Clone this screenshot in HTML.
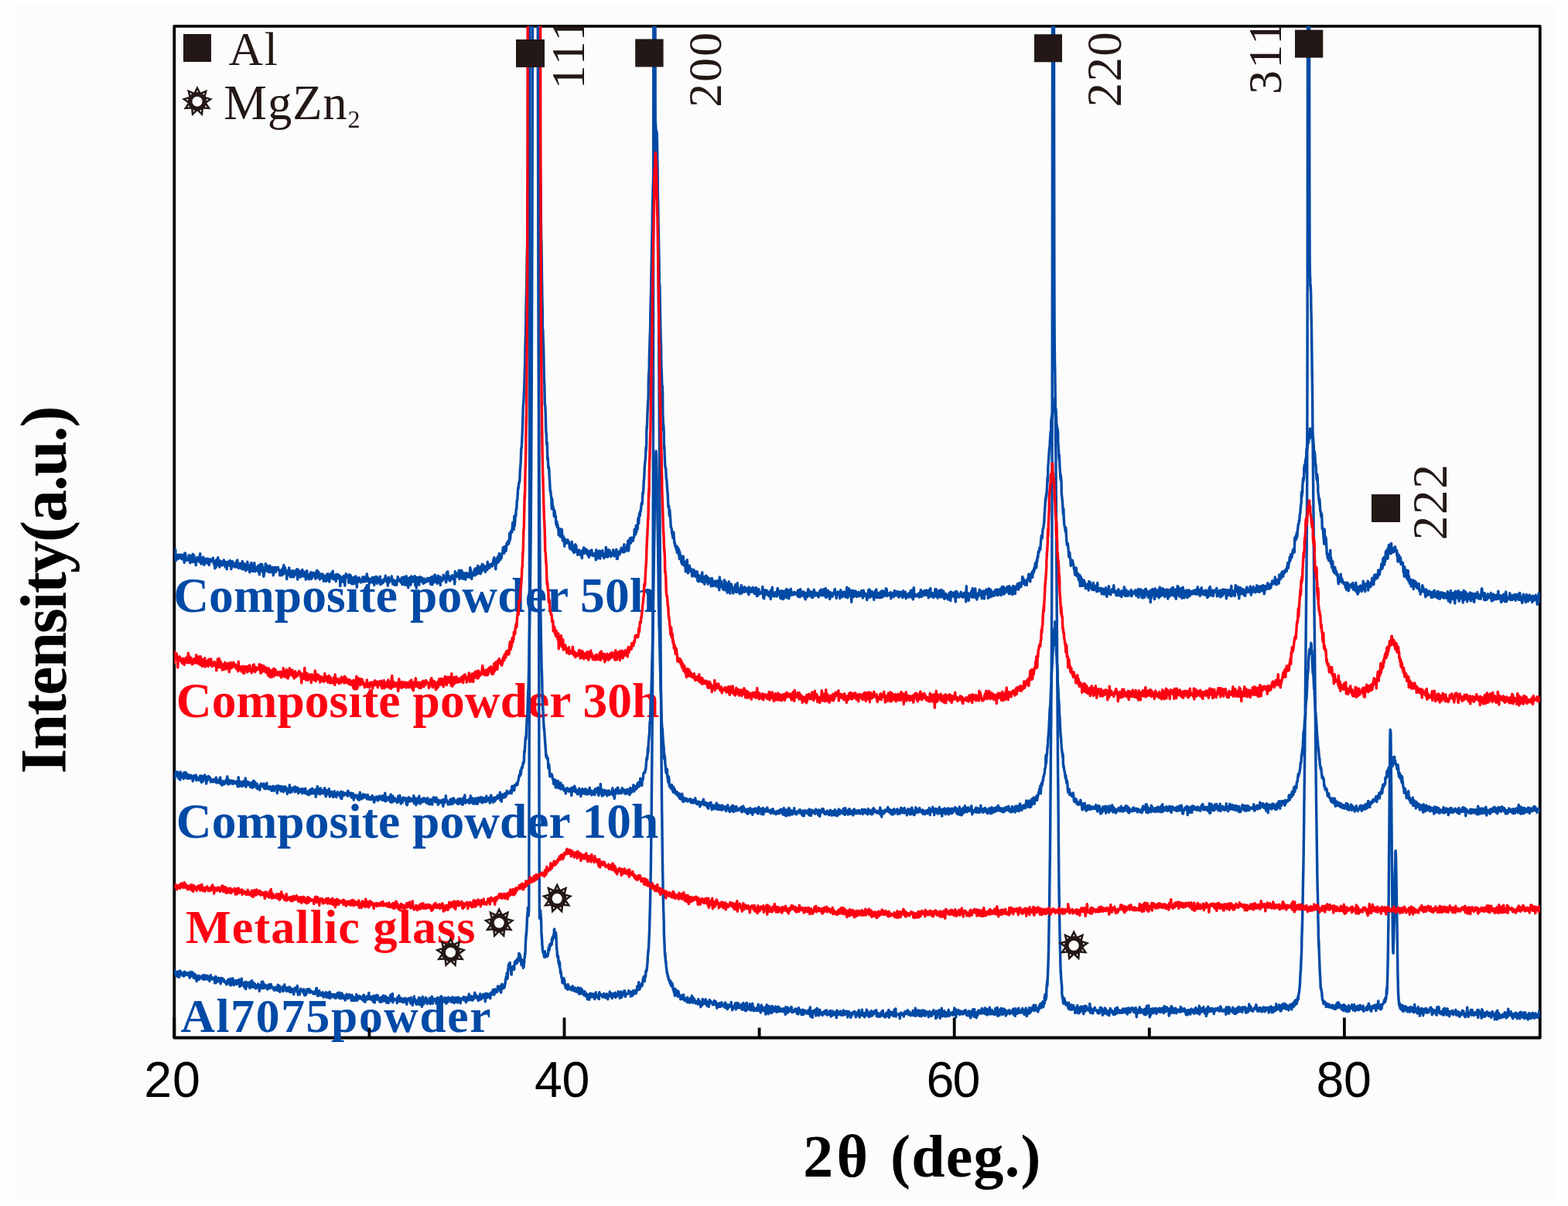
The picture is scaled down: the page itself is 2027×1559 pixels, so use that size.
<!DOCTYPE html>
<html><head><meta charset="utf-8"><title>XRD patterns</title>
<style>html,body{margin:0;padding:0;background:#fefefe;}svg{display:block;}</style>
</head><body>
<svg width="2027" height="1559" viewBox="0 0 2027 1559"><rect x="0" y="0" width="2027" height="1559" fill="#fefefe"/>
<rect x="21" y="6" width="1991" height="1545" fill="#fcfcfc"/>
<defs><clipPath id="pc"><rect x="225.3" y="33.8" width="1765.5" height="1307.7"/></clipPath></defs>
<rect x="225.3" y="33.8" width="1765.5" height="1307.7" fill="none" stroke="#000" stroke-width="3.8" stroke-linejoin="round"/>
<text transform="translate(224.13,790.77) scale(0.31716)" font-family="'Liberation Serif', serif" font-weight="bold" font-size="200" letter-spacing="0.39" fill="#004aa6">Composite powder 50h</text>
<text transform="translate(227.73,927.37) scale(0.31716)" font-family="'Liberation Serif', serif" font-weight="bold" font-size="200" letter-spacing="0.35" fill="#ff0012">Composite powder 30h</text>
<text transform="translate(227.83,1082.87) scale(0.31716)" font-family="'Liberation Serif', serif" font-weight="bold" font-size="200" letter-spacing="0.15" fill="#004aa6">Composite powder 10h</text>
<text transform="translate(240.07,1218.50) scale(0.31077)" font-family="'Liberation Serif', serif" font-weight="bold" font-size="200" letter-spacing="3.41" fill="#ff0012">Metallic glass</text>
<text transform="translate(233.48,1334.11) scale(0.30763)" font-family="'Liberation Serif', serif" font-weight="bold" font-size="200" letter-spacing="5.42" fill="#004aa6">Al7075powder</text>
<g clip-path="url(#pc)" fill="none" stroke-width="3.4" stroke-linejoin="round" stroke-linecap="butt"><path d="M225.3 1256.1l.5 -1.3 .5 2.8 .5 1.7 .5 1.9 .5 -2.5 .5 -1.6 .5 -.5 .5 3.9 .5 2.3 .5 -3.3 .5 -3.7 .5 .8 .5 6.4 .5 -3.4 .5 -4.7 .5 4.2 .5 -2.7 .5 1.4 .5 .5 .5 -.5 .5 3.2 .5 -1.4 .5 -1.3 .5 2.6 .5 1.1 .5 -6.1 .5 3.6 .5 -1.8 .5 2.1 .5 -2.7 .5 3.3 .5 0 .5 -.6 .5 -1.8 .5 1.7 .5 -1.7 .5 -.5 .5 4 .5 -3.3 .5 5.8 .5 -1.1 .5 -6.7 .5 5.8 .5 -3.4 .5 2.9 .5 .1 .5 -5 .5 4.5 .5 0 .5 3.1 .5 -5.3 .5 4.9 .5 -4.5 .5 2 .5 -1.2 .5 5.8 .5 -2.1 .5 4.7 .5 -4.4 .5 .6 .5 0 .5 -3.5 .5 1.4 .5 3.6 .5 -4.3 .5 1.6 .5 -.5 .5 1.7 .5 -2.4 .5 .6 .5 1.1 .5 -.3 .5 -2.3 .5 4.5 .5 -5.5 .5 .4 .5 -.2 .5 5.7 .5 -3.2 .5 -1.5 .5 -.3 .5 4 .5 -3.7 .5 -.4 .5 4.8 .5 -4.5 .5 2.3 .5 .8 .5 -1 .5 1.1 .5 3.5 .5 -4.5 .5 -1.8 .5 -1.4 .5 4.2 .5 -.3 .5 1.6 .5 -1.8 .5 .1 .5 -.6 .5 .6 .5 1.8 .5 -1.3 .5 1.3 .5 4.6 .5 -3.5 .5 -5.1 .5 8.4 .5 -3.4 .5 -3.2 .5 4.7 .5 -2.1 .5 -1.5 .5 0 .5 -.8 .5 2.6 .5 2.7 .5 -3.4 .5 1.9 .5 3.7 .5 -7.6 .5 3.7 .5 -1.3 .5 -1.8 .5 .1 .5 2.6 .5 1.2 .5 -2.3 .5 1.5 .5 1.8 .5 -1 .5 1.5 .5 -1 .5 .2 .5 3.4 .5 -2.9 .5 -1.2 .5 1.5 .5 -4 .5 1.5 .5 2.9 .5 -.3 .5 2.4 .5 -3.8 .5 -3.6 .5 8.6 .5 -2.1 .5 -5.3 .5 6.2 .5 -3.3 .5 -4.5 .5 3.5 .5 -.1 .5 5.3 .5 -5.9 .5 1.4 .5 0 .5 -.2 .5 -1.2 .5 2.9 .5 2.2 .5 -1.1 .5 -3.8 .5 -.4 .5 3.2 .5 -2 .5 .3 .5 -2.6 .5 9.2 .5 -2.5 .5 -4.7 .5 4.8 .5 1.1 .5 -9.2 .5 4.7 .5 .4 .5 2.7 .5 -1.9 .5 -.2 .5 .5 .5 4.9 .5 .8 .5 -6.6 .5 -.9 .5 9.1 .5 -9.1 .5 1.1 .5 1.5 .5 1.2 .5 1.5 .5 -1.6 .5 -3 .5 3.5 .5 -.6 .5 4.2 .5 -4.7 .5 -3.2 .5 .8 .5 6.3 .5 -4.9 .5 -3.9 .5 3.9 .5 1.5 .5 3.1 .5 -5.5 .5 4.3 .5 .4 .5 -3.7 .5 1.4 .5 4.9 .5 0 .5 -2.1 .5 -1.2 .5 2 .5 -3.1 .5 .2 .5 -1.8 .5 2.2 .5 -.2 .5 7.3 .5 -7.4 .5 3.7 .5 .2 .5 -3.7 .5 3.5 .5 -8.3 .5 5.7 .5 2 .5 -8 .5 3.1 .5 5.6 .5 -3.2 .5 -2 .5 1.9 .5 -.4 .5 3.2 .5 -.6 .5 -1.7 .5 -.9 .5 1.6 .5 3.5 .5 -2.4 .5 .8 .5 -1.9 .5 -2.8 .5 1.5 .5 3.5 .5 -1.3 .5 -2.4 .5 -1.7 .5 4.3 .5 -1 .5 0 .5 .2 .5 1.6 .5 0 .5 1.8 .5 0 .5 1.1 .5 -1.3 .5 -2.8 .5 .8 .5 1.4 .5 -1.9 .5 2.2 .5 1.6 .5 -4.8 .5 -2.4 .5 7.5 .5 -2.9 .5 1.8 .5 -5 .5 7.7 .5 -2.4 .5 -2.1 .5 -.5 .5 1.2 .5 -.6 .5 -.2 .5 -2.1 .5 6.1 .5 -3.2 .5 .3 .5 .1 .5 -6 .5 7.3 .5 -2.1 .5 .1 .5 1 .5 -2.5 .5 4.6 .5 -3.8 .5 -.5 .5 .2 .5 2.6 .5 1.6 .5 -3.3 .5 -2.2 .5 6.5 .5 -5.3 .5 5.7 .5 -3 .5 -1.6 .5 .2 .5 2.8 .5 1.2 .5 -2.7 .5 3 .5 2.9 .5 -5.7 .5 -2.3 .5 .3 .5 -.8 .5 2 .5 -.2 .5 -1.4 .5 4.7 .5 -7.8 .5 3.3 .5 8.4 .5 -2.4 .5 -1.2 .5 -.1 .5 3.4 .5 -3.1 .5 -1.1 .5 -3.2 .5 3 .5 -1.6 .5 .1 .5 .1 .5 1.7 .5 -.6 .5 3 .5 -5.4 .5 3 .5 5.1 .5 -4.5 .5 3 .5 -.1 .5 .5 .5 -1.4 .5 -5.2 .5 2.8 .5 -.2 .5 -2.9 .5 2.8 .5 -1.9 .5 -1 .5 4.8 .5 -.6 .5 -1.5 .5 -.6 .5 1.1 .5 .4 .5 0 .5 1 .5 -.9 .5 2.1 .5 .4 .5 -.4 .5 -2.5 .5 .2 .5 2.7 .5 -1.5 .5 .4 .5 -6 .5 -.5 .5 7.7 .5 0 .5 2.7 .5 -1.6 .5 -1.2 .5 -.4 .5 -3.6 .5 5.8 .5 -3.6 .5 2.8 .5 -.7 .5 .3 .5 1.6 .5 -3.4 .5 .3 .5 -1.1 .5 1.2 .5 5.2 .5 -5 .5 3.9 .5 -.8 .5 -.2 .5 .2 .5 -4.5 .5 3.6 .5 3.1 .5 -5.7 .5 1.7 .5 -1.6 .5 2.6 .5 -3.4 .5 6.7 .5 -4.9 .5 -2.8 .5 8.4 .5 -2 .5 -1.1 .5 .1 .5 -2.2 .5 .4 .5 2.4 .5 .6 .5 .1 .5 -1.8 .5 -1.6 .5 .7 .5 3.3 .5 .9 .5 -4.4 .5 -.3 .5 4.4 .5 -1.3 .5 0 .5 -5 .5 2.4 .5 -.3 .5 1.9 .5 -4.7 .5 7.5 .5 -2.4 .5 .4 .5 -4 .5 2.9 .5 3.5 .5 -7.2 .5 4.7 .5 1 .5 -3.4 .5 3.8 .5 -2.8 .5 4 .5 -1.7 .5 -.7 .5 4.5 .5 -2.9 .5 1.2 .5 -6.2 .5 1.4 .5 3.8 .5 .2 .5 -2.3 .5 2.1 .5 -4.6 .5 3.3 .5 -3.4 .5 3.8 .5 -2 .5 -.4 .5 1.8 .5 4.5 .5 -7.1 .5 1.1 .5 4.2 .5 -3.7 .5 5.6 .5 -3.8 .5 -.3 .5 .7 .5 3.5 .5 -2.7 .5 -.3 .5 -.6 .5 -4.5 .5 1.7 .5 6 .5 -1.6 .5 -.7 .5 .3 .5 -2.9 .5 2.3 .5 -3.1 .5 3.3 .5 -2.7 .5 1.3 .5 1.7 .5 -1.9 .5 2.4 .5 -.4 .5 -.2 .5 2.5 .5 -7 .5 -.3 .5 5.6 .5 .9 .5 2.7 .5 -3.1 .5 .2 .5 -4.2 .5 4.1 .5 -.2 .5 -4.3 .5 .5 .5 2 .5 1 .5 -8 .5 7.6 .5 .4 .5 -1 .5 1.2 .5 .5 .5 -3.7 .5 3.6 .5 -1.6 .5 -1.7 .5 2.9 .5 3.3 .5 -7.4 .5 -.4 .5 0 .5 9.1 .5 -5.5 .5 .5 .5 -1.8 .5 -.3 .5 -2.7 .5 5.5 .5 .3 .5 -5.6 .5 2.4 .5 .8 .5 1.8 .5 .7 .5 2.2 .5 .7 .5 -.8 .5 .8 .5 -6.3 .5 1.6 .5 4.3 .5 -2.2 .5 -.6 .5 -5 .5 .4 .5 6.5 .5 -1 .5 -1.5 .5 -.3 .5 -3.3 .5 5.3 .5 1.7 .5 1.5 .5 -3.9 .5 -.6 .5 -2.2 .5 5.8 .5 1.2 .5 -5.7 .5 2.2 .5 -.4 .5 -1.7 .5 -4.8 .5 5.4 .5 2.5 .5 -5.2 .5 1.6 .5 -6.1 .5 11.4 .5 -1.9 .5 -1.1 .5 -.8 .5 -.9 .5 1.4 .5 -.5 .5 .2 .5 .5 .5 0 .5 .5 .5 3.5 .5 -7.5 .5 4.4 .5 -2.2 .5 -1.3 .5 -3.1 .5 7.5 .5 -4 .5 .6 .5 3.1 .5 -3.9 .5 2.8 .5 -.2 .5 2.2 .5 .5 .5 -4.7 .5 4.5 .5 -2.5 .5 .5 .5 -.8 .5 2.5 .5 -5 .5 3.7 .5 2.3 .5 -3.6 .5 5.8 .5 -6.9 .5 2.4 .5 -1.8 .5 -.3 .5 -1.2 .5 1.4 .5 1.3 .5 -1.9 .5 4.2 .5 1.6 .5 -7.6 .5 5.9 .5 -1.6 .5 .2 .5 5.5 .5 -3.1 .5 -2.2 .5 -.4 .5 -5.8 .5 7.4 .5 -3.9 .5 2.4 .5 -.2 .5 2.1 .5 2.7 .5 -2.6 .5 .7 .5 -3.7 .5 1.7 .5 .8 .5 -5.6 .5 8.8 .5 -6.9 .5 -1.5 .5 7.4 .5 1.2 .5 -7.1 .5 .2 .5 9.4 .5 -7.6 .5 -5.2 .5 3.4 .5 6.6 .5 -3.4 .5 .2 .5 1.2 .5 -1.4 .5 -2.5 .5 -3.2 .5 5.1 .5 -3.9 .5 2.7 .5 4.5 .5 -3 .5 -1.3 .5 .1 .5 1.6 .5 .5 .5 -5.6 .5 3.7 .5 3.9 .5 -2.5 .5 -3.8 .5 .2 .5 -3.5 .5 3.2 .5 6 .5 -4.2 .5 -2 .5 .7 .5 1.2 .5 0 .5 -.7 .5 -1 .5 3.5 .5 2.3 .5 -5.3 .5 0 .5 4.3 .5 -6.6 .5 2.1 .5 .6 .5 1.3 .5 -1.1 .5 -1.6 .5 3 .5 -3.8 .5 -1.4 .5 -.7 .5 7 .5 -6.3 .5 5.5 .5 .5 .5 .3 .5 -2.5 .5 -.9 .5 1.6 .5 -1.8 .5 -1.7 .5 6.3 .5 -5.4 .5 6.8 .5 -3.3 .5 -2.5 .5 2.3 .5 1.9 .5 -6.5 .5 1.1 .5 -.4 .5 3.1 .5 .5 .5 -.9 .5 -2 .5 .5 .5 4.3 .5 -.2 .5 -2.5 .5 -3.7 .5 4.9 .5 -.9 .5 -.1 .5 3.7 .5 -2.3 .5 -4.6 .5 0 .5 5.9 .5 -3 .5 1.7 .5 -2.6 .5 -2.1 .5 3.1 .5 3.3 .5 -3.1 .5 -3.8 .5 2.1 .5 -.5 .5 1.6 .5 2.1 .5 2.4 .5 -4.4 .5 -1.7 .5 1.3 .5 -.2 .5 -1.2 .5 1.1 .5 -.1 .5 -3 .5 4.3 .5 -2.3 .5 -1.6 .5 3.6 .5 -2.5 .5 5.6 .5 -3.2 .5 -1.1 .5 -2.2 .5 .9 .5 3.1 .5 -4.7 .5 3.6 .5 -7.1 .5 5.7 .5 1.5 .5 -1.2 .5 -.8 .5 2.5 .5 -4.6 .5 -.4 .5 2.8 .5 2.7 .5 -1.9 .5 -1.6 .5 1.2 .5 .4 .5 -4.2 .5 -3.9 .5 4.4 .5 -1.2 .5 2.2 .5 -1.7 .5 .8 .5 3.1 .5 -.9 .5 -.4 .5 4.1 .5 -5.4 .5 .1 .5 4 .5 -6.1 .5 -1.4 .5 7.3 .5 -2.6 .5 .6 .5 -.1 .5 .6 .5 -3.6 .5 .9 .5 -2.8 .5 3.1 .5 .1 .5 -1.9 .5 2.7 .5 5.6 .5 -10.5 .5 4.9 .5 .1 .5 .2 .5 -4.9 .5 5 .5 -1.6 .5 -2.2 .5 -.7 .5 1.2 .5 1.5 .5 -.4 .5 3.4 .5 -7 .5 2.2 .5 -3 .5 2.8 .5 -1.9 .5 -2.2 .5 -2.1 .5 1.2 .5 2.3 .5 3 .5 -2 .5 -5.3 .5 1.6 .5 1.1 .5 -.7 .5 .3 .5 1.6 .5 -1.7 .2 -2.4 .1 -.1 .1 0 .1 -.1 0 -3.2 .1 0 .1 -.1 .1 0 .1 -.1 .1 0 0 4.1 .1 -.1 .1 0 .1 0 .1 -.1 .1 0 0 -3.5 .1 -.1 .1 0 .1 0 .1 -.1 .1 0 0 3.9 .1 -.1 .1 0 .1 -.1 .1 0 .1 -.1 0 1.3 .1 -.1 .1 0 .1 -.1 .1 0 .1 -.1 0 -4.3 .1 0 .1 -.1 .1 0 .1 -.1 .1 0 0 3 .1 0 .1 0 .1 -.1 .1 0 .1 -.1 0 -.5 .1 -.1 .1 0 .1 -.1 .1 0 .1 -.1 0 5.8 .1 0 .1 -.1 .1 0 .1 -.1 .1 -.1 0 -3.7 .1 -.1 .1 0 .1 -.1 .1 -.1 .1 0 0 -6.1 .1 -.1 .1 0 .1 -.1 .1 -.1 .1 0 0 6 .1 0 .1 -.1 .1 0 .1 -.1 .1 -.1 0 -.1 .1 0 .1 -.1 .1 0 .1 -.1 .1 0 0 -1.7 .1 0 .1 -.1 .1 0 .1 -.1 .1 0 0 -.5 .1 0 .1 -.1 .1 -.1 .1 0 .1 -.1 0 2.5 .1 0 .1 -.1 .1 -.1 .1 0 .1 -.1 0 .2 .1 -.1 .1 -.1 .1 -.1 .1 -.1 .1 -.1 0 -.6 .1 -.1 .1 -.1 .1 -.1 .1 -.1 .1 -.1 0 -3.8 .1 -.1 .1 -.2 .1 -.1 .1 -.2 .1 -.3 0 1.9 .1 -.3 .1 -.3 .1 -.4 .1 -.4 .1 -.4 0 -3.5 .1 -.4 .1 -.5 .1 -.5 .1 -.5 .1 -.5 0 .1 .1 -.5 .1 -.6 .1 -.5 .1 -.5 .1 -.5 0 2.5 .1 -.5 .1 -.5 .1 -.5 .1 -.5 .1 -.6 0 -1.4 .1 -.5 .1 -.6 .1 -.7 .1 -.6 .1 -.6 0 1.8 .1 -.6 .1 -.6 .1 -.5 .1 -.5 .1 -.5 0 7.9 .1 -.4 .1 -.3 .1 -.3 .1 -.4 .1 -.3 0 -5.5 .1 -.3 .1 -.3 .1 -.3 .1 -.3 .1 -.3 0 -3.9 .1 -.3 .1 -.3 .1 -.3 .1 -.3 .1 -.3 0 -3.5 .1 -.3 .1 -.3 .1 -.2 .1 -.3 .1 -.2 0 3.7 .1 -.2 .1 -.2 .1 -.2 .1 -.2 .1 -.2 0 -1.7 .1 -.1 .1 -.2 .1 -.1 .1 -.1 .1 -.1 0 -2.1 .1 -.1 .1 0 .1 -.1 .1 0 .1 0 0 8.2 .1 0 .1 0 .1 0 .1 0 .1 .1 0 -3.4 .1 0 .1 0 .1 .1 .1 0 .1 0 0 2.6 .1 0 .1 .1 .1 0 .1 0 .1 .1 0 7.4 .1 0 .1 .1 .1 0 .1 .1 .1 0 0 -7.9 .1 0 .1 .1 .1 0 .1 0 .1 .1 0 -.5 .1 .1 .1 0 .1 0 .1 .1 .1 0 0 .6 .1 .1 .1 0 .1 0 .1 0 .1 0 0 -1.7 .1 0 .1 0 .1 0 .1 0 .1 -.1 0 -1.5 .1 -.1 .1 -.1 .1 -.1 .1 -.1 .1 -.1 0 1.8 .1 -.2 .1 -.1 .1 -.2 .1 -.1 .1 -.2 0 3.8 .1 -.1 .1 -.2 .1 -.2 .1 -.2 .1 -.2 0 -4 .1 -.2 .1 -.2 .1 -.2 .1 -.3 .1 -.2 0 -3.1 .1 -.2 .1 -.3 .1 -.2 .1 -.2 .1 -.3 0 .4 .1 -.2 .1 -.3 .1 -.2 .1 -.2 .1 -.3 0 .7 .1 -.3 .1 -.2 .1 -.2 .1 -.2 .1 -.2 0 3 .1 -.2 .1 -.2 .1 -.2 .1 -.2 .1 -.2 0 1.4 .1 -.2 .1 -.3 .1 -.2 .1 -.2 .1 -.2 .1 -.3 .1 -.2 .1 -.3 .1 -.2 .1 -.2 0 2 .1 -.2 .1 -.3 .1 -.2 .1 -.3 .1 -.2 0 -4 .1 -.2 .1 -.3 .1 -.2 .1 -.2 .1 -.2 0 3 .1 -.2 .1 -.2 .1 -.2 .1 -.1 .1 -.2 0 -1.5 .1 -.1 .1 -.2 .1 -.1 .1 -.1 .1 -.1 0 1.1 .1 0 .1 -.1 .1 -.1 .1 0 .1 0 0 -7.4 .1 0 .1 .1 .1 0 .1 0 .1 .1 0 9 .1 0 .1 .1 .1 .1 .1 .1 .1 .1 0 -8.1 .1 .1 .1 .2 .1 .1 .1 .1 .1 .2 0 1.2 .1 .1 .1 .2 .1 .1 .1 .2 .1 .2 0 5.5 .1 .1 .1 .2 .1 .2 .1 .1 .1 .2 0 -3.3 .1 .1 .1 .2 .1 .2 .1 .2 .1 .1 0 6.2 .1 .2 .1 .2 .1 .1 .1 .2 .1 .3 0 -4.6 .1 .2 .1 .3 .1 .3 .1 .3 .1 .3 0 -3.4 .1 .3 .1 .3 .1 .3 .1 .3 .1 .3 0 3.4 .1 .3 .1 .2 .1 .2 .1 .3 .1 .1 0 -1.5 .1 .1 .1 .1 .1 .1 .1 0 .1 0 0 5.5 .1 -.1 .1 -.1 .1 -.2 .1 -.3 .1 -.3 0 .3 .1 -.4 .1 -.3 .1 -.5 .1 -.4 .1 -.5 0 -2.5 .1 -.5 .1 -.5 .1 -.6 .1 -.6 .1 -.5 0 -3.3 .1 -.6 .1 -.6 .1 -.7 .1 -.8 .1 -1 0 1.5 .1 -1.1 .1 -1.1 .1 -1.3 .1 -1.3 0 -.4 .1 -.9 0 2.8 0 -.4 .1 -.9 0 -.5 .1 -.9 0 -.4 .1 -1 0 -.4 .1 -.9 0 -.5 .1 -.9 0 -5.5 0 -.5 .1 -1 0 -.6 .1 -1 0 -.5 .1 -1.1 0 -.6 .1 -1.1 0 -.6 .1 -1.1 0 -.6 .1 -1.1 0 -.6 .1 -1.7 .1 -1.7 .1 -1.7 .1 -1.1 0 4.6 .1 -1.6 .1 -1.5 .1 -1.6 .1 -1.7 .1 -1.1 0 -1 .1 -1.8 .1 -1.8 .1 -1.9 .1 -1.8 .1 -1.2 0 -3.7 .1 -1.7 .1 -1.7 .1 -1.5 .1 -1.4 .1 -.8 0 -.5 .1 -1 .1 -.8 .1 -.6 .1 -.4 .1 0 0 -5.6 .1 0 .1 0 .1 0 .1 0 .1 0 0 10.4 .1 0 .1 0 .1 0 .1 0 .1 0 0 -4.3 .1 0 .1 0 .1 0 .1 -3.7 .1 -17.4 0 -14.5 .1 -33.7 .1 -40.8 .1 -49.2 .1 -59.1 .1 -45.4 0 -24.4 .1 -84.9 .1 -101.3 .1 -120.4 .1 -142.4 .1 -107.7 0 -59.3 .1 -197.2 .1 -128.2 .1 0 .1 0 .1 0 .1 0 .1 0 .1 0 .1 0 .1 0 .1 0 .1 0 .1 0 .1 0 .1 0 .1 0 .1 0 .1 0 .1 0 .1 0 .1 0 .1 0 .1 0 .1 0 .1 0 .1 0 .1 0 .1 0 .1 0 .1 0 .1 0 .1 0 .1 0 .1 0 .1 0 .1 0 .1 0 .1 0 .1 0 .1 0 .1 0 .1 0 .1 0 .1 0 .1 0 .1 0 .1 0 .1 0 .1 0 .1 0 .1 0 .1 0 .1 0 .1 0 .1 0 .1 0 .1 0 .1 0 .1 0 .1 0 .1 0 .1 0 .1 0 .1 0 .1 0 .1 0 .1 0 .1 0 .1 0 .1 0 .1 0 .1 0 .1 0 .1 0 .1 0 .1 0 .1 0 .1 0 .1 0 .1 0 .1 0 .1 0 .1 0 .1 0 .1 0 .1 0 .1 0 .1 0 .1 0 .1 0 .1 0 .1 0 .1 0 .1 0 .1 0 .1 0 .1 0 .1 0 .1 0 .1 0 .1 0 .1 0 .1 0 .1 0 .1 0 .1 0 .1 0 .1 0 .1 0 .1 0 .1 0 .1 0 .1 0 .1 185 .1 122.8 0 61.8 .1 155.5 .1 133 .1 113.2 .1 96.1 .1 55.1 0 26.8 .1 68.4 .1 57.5 .1 48 .1 39.8 .1 22.6 0 14.6 .1 27.2 .1 9.9 .1 0 .1 0 .1 0 0 -8.4 .1 0 .1 0 .1 0 .1 0 .1 0 0 -1.9 .1 0 .1 0 .1 0 .1 0 .1 0 0 3.5 .1 .4 .1 1 .1 1.3 .1 1.7 .1 1.3 0 -1.9 .1 2.2 .1 2.5 .1 2.5 .1 2.6 .1 1.8 0 5.7 .1 2.5 .1 2.5 .1 2.2 .1 2.1 .1 1.5 0 -4.3 .1 2.4 .1 2.5 .1 2.1 .1 1.7 .1 .8 0 3.2 .1 .8 .1 .8 .1 .8 .1 .7 .1 .5 0 2.6 .1 .6 .1 .6 .1 .6 .1 .5 .1 .3 0 .4 .1 .4 .1 .5 .1 .4 .1 .3 .1 .3 0 -2.3 .1 .3 .1 .4 .1 .3 .2 .5 .5 5 .5 1.1 .5 -7.5 .5 7.1 .5 .2 .2 -1.2 .1 .1 .1 0 .1 0 0 -1 .1 0 .1 0 .1 -.1 .1 -.1 .1 -.2 0 2 .1 -.1 .1 -.2 .1 -.2 .1 -.3 .1 -.2 0 1 .1 -.3 .1 -.3 .1 -.2 .1 -.3 .1 -.4 0 -.3 .1 -.3 .1 -.3 .1 -.4 .1 -.3 .1 -.3 0 3.2 .1 -.3 .1 -.4 .1 -.3 .1 -.3 .1 -.3 0 -1.1 .1 -.3 .1 -.3 .1 -.2 .1 -.3 .1 -.3 0 -4.7 .1 -.3 .1 -.3 .1 -.3 .1 -.3 .1 -.3 0 -.5 .1 -.4 .1 -.3 .1 -.3 .1 -.3 .1 -.4 0 4.8 .1 -.3 .1 -.3 .1 -.4 .1 -.3 .1 -.3 0 -4.7 .1 -.3 .1 -.3 .1 -.3 .1 -.4 .1 -.3 0 2.6 .1 -.3 .1 -.3 .1 -.3 .1 -.3 .1 -.3 0 .9 .1 -.3 .1 -.3 .1 -.3 .1 -.2 .1 -.3 0 1.7 .1 -.3 .1 -.3 .1 -.3 .1 -.2 .1 -.3 0 -1.6 .1 -.2 .1 -.3 .1 -.3 .1 -.2 .1 -.3 0 2.8 .1 -.2 .1 -.3 .1 -.2 .1 -.3 .1 -.3 0 -5.8 .1 -.2 .1 -.3 .1 -.2 .1 -.3 .1 -.2 0 3.5 .1 -.3 .1 -.2 .1 -.2 .1 -.3 .1 -.2 0 -4 .1 -.3 .1 -.2 .1 -.2 .1 -.2 .1 -.1 0 2.6 .1 -.2 .1 -.2 .1 -.2 .1 -.1 .1 -.2 0 -.2 .1 -.2 .1 -.2 .1 -.2 .1 -.1 .1 -.2 0 -3.3 .1 -.2 .1 -.1 .1 -.2 .1 -.2 .1 -.2 0 -5.2 .1 -.1 .1 -.2 .1 -.2 .1 -.1 .1 -.2 0 11.1 .1 -.2 .1 -.1 .1 -.2 .1 -.1 .1 -.1 0 -1.8 .1 -.2 .1 -.1 .1 -.1 .1 0 .1 -.1 0 -.7 .1 -.1 .1 0 .1 -.1 .1 0 .1 0 0 -2.6 .1 -.1 .1 .2 .1 .5 .1 .8 .1 1.1 0 1.1 .1 1.3 .1 1.5 .1 1.5 .1 1.7 .1 1.7 0 2.4 .1 1.8 .1 1.7 .1 1.6 .1 1.6 .1 1.4 0 -1.3 .1 1.2 .1 1 .1 .8 .1 .9 .1 .8 0 3.3 .1 .8 .1 .8 .1 .7 .1 .7 .1 .7 0 -3 .1 .7 .1 .6 .1 .7 .1 .6 .1 .6 0 -2.7 .1 .6 .1 .6 .1 .6 .1 .6 .1 .6 0 4.1 .1 .5 .1 .6 .1 .5 .1 .6 .1 .5 0 -3.6 .1 .6 .1 .5 .1 .5 .1 .6 .1 .5 0 2.4 .1 .5 .1 .6 .1 .5 .1 .5 .1 .6 0 -5.8 .1 .6 .1 .6 .1 .5 .1 .6 .1 .6 0 4.1 .1 .6 .1 .5 .1 .6 .1 .6 .1 .6 0 2.5 .1 .6 .1 .5 .1 .6 .1 .5 .1 .5 0 -3.3 .1 .5 .1 .5 .1 .5 .1 .5 .1 .5 0 1.7 .1 .4 .1 .4 .1 .5 .1 .3 .1 .4 0 1.7 .1 .3 .1 .3 .1 .3 .1 .3 .1 .3 0 -1.4 .1 .3 .1 .3 .1 .3 .1 .3 .1 .3 0 4.7 .1 .3 .1 .2 .1 .3 .1 .3 .1 .3 0 -5.5 .1 .3 .1 .2 .1 .3 .1 .3 .1 .3 0 .2 .1 .2 .1 .3 .1 .2 .1 .3 .1 .2 0 .1 .1 .2 .1 .3 .1 .2 .1 .2 .1 .3 0 -4.9 .1 .3 .1 .2 .1 .2 .1 .2 .1 .2 0 1.2 .1 .2 .4 .7 .5 6.3 .5 -1.6 .5 5 .5 -3.5 .5 .1 .5 3.3 .5 -1.7 .5 3.6 .5 -6.8 .5 4.1 .5 .8 .5 -.2 .5 1.6 .5 -.2 .5 -2.4 .5 2.6 .5 -2.3 .5 2.5 .5 1.2 .5 -2.8 .5 -2.7 .5 1.9 .5 3 .5 -2.4 .5 3.9 .5 -2.7 .5 .5 .5 -1.7 .5 1.7 .5 3.3 .5 -3.4 .5 .3 .5 -.9 .5 4.3 .5 -5.7 .5 2.5 .5 4.3 .5 1.6 .5 -4 .5 3.3 .5 -7.3 .5 7.3 .5 -.9 .5 -3.6 .5 -1.2 .5 3.6 .5 2.2 .5 .5 .5 -.4 .5 1.9 .5 0 .5 -5.1 .5 2.7 .5 -.2 .5 4 .5 -3.7 .5 3.9 .5 -2.2 .5 5.8 .5 -6 .5 .3 .5 -.2 .5 .8 .5 5.8 .5 -7.3 .5 -.8 .5 1.8 .5 2.3 .5 -4.2 .5 4.6 .5 0 .5 -2.2 .5 -.2 .5 -1.3 .5 1.4 .5 -1.3 .5 5.2 .5 1.1 .5 -4.8 .5 .6 .5 -4.6 .5 3.5 .5 2.2 .5 -.2 .5 -.3 .5 1.8 .5 -1.9 .5 -1.2 .5 5 .5 -8.9 .5 2 .5 1 .5 0 .5 -.1 .5 1.3 .5 -1.2 .5 1.6 .5 1.6 .5 -1.5 .5 .3 .5 -2.8 .5 -.5 .5 2.1 .5 3 .5 -1.5 .5 1.8 .5 -.3 .5 .2 .5 -4.9 .5 5.1 .5 -1.3 .5 3.3 .5 -3.9 .5 -.7 .5 -1.2 .5 .6 .5 -4.7 .5 3.5 .5 .4 .5 2.5 .5 -4.2 .5 2 .5 4.3 .5 -6 .5 3.5 .5 -3.5 .5 1.1 .5 1.4 .5 1.1 .5 -3.5 .5 -1.4 .5 6.4 .5 -3.3 .5 1.5 .5 .3 .5 -.4 .5 -2.6 .5 .3 .5 -3.6 .5 4.3 .5 -1.7 .5 1.1 .5 4.8 .5 -3 .5 -1.7 .5 -3.6 .5 5.3 .5 1.9 .5 -5.9 .5 3.1 .5 -2.5 .5 .9 .5 -.6 .5 -3.2 .5 2.7 .5 -2.8 .5 7.5 .5 -1 .5 -2.6 .5 .5 .5 -.6 .5 .2 .5 -.1 .5 -1.2 .5 .1 .5 -3.1 .5 .8 .5 .8 .5 2 .5 -1.6 .5 5.5 .5 -5.4 .5 -.6 .5 1.8 .5 1.4 .5 1.8 .5 -2.4 .5 -4.2 .5 .9 .5 2.8 .5 -2.3 .5 1.1 .5 -2.5 .5 4 .5 -.7 .5 -1.2 .5 -2.8 .5 -4.9 .5 .2 .5 3.9 .5 .3 .5 -9.6 .5 5.7 .5 3.6 .5 -1.1 .5 -4.4 .5 2.3 .5 -2.3 .5 -1.5 .5 2.6 .5 -.8 .5 -5.4 .5 -2.1 .5 -2.2 .5 -1.5 .5 5.9 .5 0 .5 -6 .1 -.4 .1 -.3 .1 -.4 .1 -.4 .1 1.9 .1 -.3 .1 -.4 .1 -.4 .1 -.4 .1 -5.2 .1 -.4 .1 -.4 .1 -.5 .1 -.4 .1 1.2 .1 -.5 .1 -.5 .1 -.6 .1 -.5 .1 2.2 .1 -.6 .1 -.6 .1 -.6 .1 -.6 .1 -2.3 .1 -.7 .1 -.7 .1 -.7 .1 -.7 .1 -1.8 .1 -.8 .1 -.9 .1 -.8 .1 -.9 .1 -5.6 .1 -1 .1 -1.1 .1 -1.1 .1 -1.1 .1 -.6 .1 -1.3 .1 -1.3 .1 -1.4 .1 -1.5 .1 1.5 .1 -1.6 .1 -1.7 .1 -1.7 .1 -1.9 .1 -2.3 .1 -2.1 .1 -2.1 .1 -2.3 .1 -2.4 .1 -1 .1 -2.6 .1 -2.8 .1 -2.9 .1 -3 .1 -5 .1 -3.4 .1 -3.5 .1 -3.7 .1 -4 .1 -2.7 .1 -4.3 .1 -4.5 .1 -4.7 .1 -4.9 .1 -4.2 .1 -5.4 .1 -5.6 .1 -5.9 .1 -6.2 .1 -4.8 .1 -6.7 .1 -7 .1 -7.2 .1 -7.6 .1 -9.5 .1 -8.2 .1 -8.6 .1 -8.8 .1 -9.2 .1 -11.9 .1 -9.8 .1 -10.2 .1 -10.5 .1 -10.9 .1 -10.2 .1 -11.6 .1 -11.9 .1 -12.3 .1 -12.8 .1 -8.5 .1 -13.7 .1 -14.5 .1 -15.3 .1 -16.8 .1 -23.1 .1 -21.9 .1 -26.4 .1 -32.9 .1 -42 .1 -57.4 .1 -70.8 .1 -91.3 .1 -116 .1 -144.3 .1 -174.9 .1 -120.7 .1 0 .1 0 .1 0 .1 0 .1 0 .1 0 .1 0 .1 0 .1 0 .1 0 .1 0 .1 0 .1 0 .1 0 .1 0 .1 0 .1 0 .1 0 .1 0 .1 0 .1 37.3 .1 85.3 .1 61.4 .1 48.2 .1 26.1 .1 14.5 .1 6.3 .1 .7 .1 -9.5 .1 -4.9 .1 -5.9 .1 -6.3 .1 -6.1 .1 -5.3 .1 -5.1 .1 -4.4 .1 -3.7 .1 -2.9 .1 -3.3 .1 -1.3 .1 -.4 .1 .5 .1 1.2 .1 6.4 .1 2.9 .1 3.7 .1 4.6 .1 5.3 .1 8.2 .1 6.9 .1 7.7 .1 8.3 .1 9.2 .1 5.6 .1 10.4 .1 11.2 .1 11.7 .1 12.3 .1 11.1 .1 13.4 .1 13.9 .1 14.4 .1 14.9 .1 11.2 .1 15.6 .1 16 .1 16.3 .1 16.6 .1 23.5 .1 17 .1 17.3 .1 17.4 .1 17.6 .1 15.7 .1 17.7 .1 17.8 .1 17.7 .1 17.8 .1 18.2 .1 17.7 .1 17.5 .1 17.5 .1 17.3 .1 15.4 .1 17 .1 16.7 .1 16.6 .1 16.3 .1 15.1 .1 15.8 .1 15.5 .1 15.2 .1 15 .1 16.3 .1 14.4 .1 13.9 .1 13.7 .1 13.3 .1 16.4 .1 12.6 .1 12.3 .1 12 .1 11.6 .1 13.2 .1 10.9 .1 10.5 .1 10.2 .1 9.9 .1 5.7 .1 9.2 .1 8.9 .1 8.5 .1 8.2 .1 9.2 .1 7.6 .1 7.2 .1 7 .1 6.8 .1 4.6 .1 6.1 .1 6 .1 5.6 .1 5.4 .1 5.5 .1 4.9 .1 4.7 .1 4.5 .1 4.3 .1 .2 .1 3.9 .1 3.8 .1 3.5 .1 3.4 .1 10.3 .1 3 .1 2.9 .1 2.8 .1 2.6 .1 1.6 .1 2.4 .1 2.3 .1 2.1 .1 2.1 .1 4.4 .1 1.9 .1 1.7 .1 1.7 .1 1.6 .1 -4.4 .1 1.4 .1 1.4 .1 1.4 .1 1.2 .1 3.4 .1 1.1 .1 1.1 .1 1.1 .1 1 .1 -2 .1 1 .4 6.6 .5 2.6 .5 5.2 .5 .3 .5 4.4 .5 -1 .5 4.8 .5 -.7 .5 1.2 .5 2.8 .5 2 .5 -3.4 .5 .9 .5 5.5 .5 .3 .5 -4.1 .5 1.7 .5 3.2 .5 3.6 .5 .4 .5 2.7 .5 1.1 .5 3.6 .5 -9 .5 4.1 .5 3.3 .5 -5.4 .5 .1 .5 4.5 .5 2.7 .5 .8 .5 -7.2 .5 1.8 .5 3.1 .5 -.7 .5 2.4 .5 -.1 .5 4.3 .5 -4.2 .5 .9 .5 0 .5 2.8 .5 -5.3 .5 4 .5 -2.6 .5 -1.4 .5 6.6 .5 -1.4 .5 2.4 .5 -2.6 .5 1.2 .5 -1.1 .5 1.2 .5 -2.2 .5 5.4 .5 -6.3 .5 6.6 .5 -4.5 .5 2.8 .5 -1.7 .5 .9 .5 2.8 .5 -3.2 .5 -2.6 .5 3.1 .5 1.1 .5 -7.5 .5 8.6 .5 .4 .5 -6.9 .5 4.1 .5 2.5 .5 -4.8 .5 2 .5 .3 .5 2.3 .5 1.5 .5 -2.7 .5 .3 .5 2.2 .5 -.8 .5 -1.5 .5 3.6 .5 -6.7 .5 4 .5 -1.3 .5 -.2 .5 1.9 .5 -.3 .5 6.1 .5 -4.5 .5 -.6 .5 3.3 .5 -1.5 .5 -7 .5 5 .5 1.6 .5 -3.3 .5 2.3 .5 -1.8 .5 2.2 .5 -4.9 .5 -.7 .5 3.5 .5 2 .5 2.8 .5 -3.9 .5 -1.1 .5 4.2 .5 -2.1 .5 4.4 .5 -4.6 .5 -4.5 .5 2.9 .5 -.3 .5 -1.1 .5 1.6 .5 .3 .5 1.1 .5 -.6 .5 2.4 .5 .1 .5 -.5 .5 .1 .5 -5.1 .5 .6 .5 2 .5 2.9 .5 -4.2 .5 2.6 .5 1.7 .5 4.4 .5 -4.2 .5 -1.9 .5 4.1 .5 -2.2 .5 -1.2 .5 3.6 .5 -5 .5 2.8 .5 -.2 .5 2.1 .5 -5.1 .5 -.3 .5 2.3 .5 .4 .5 .8 .5 -1 .5 2.1 .5 .7 .5 -1.1 .5 -3.2 .5 5.6 .5 -6.6 .5 3.3 .5 2.8 .5 -3.7 .5 4.8 .5 1.6 .5 -.8 .5 -2.8 .5 1.4 .5 -3.6 .5 2.3 .5 .2 .5 -.9 .5 .2 .5 -.8 .5 -4.4 .5 6 .5 -.2 .5 4.4 .5 -3.3 .5 -1.5 .5 2 .5 -.6 .5 -1.5 .5 -.9 .5 -2.6 .5 4 .5 3.8 .5 -8.7 .5 2.4 .5 4.3 .5 -1.4 .5 .6 .5 -5.6 .5 3.2 .5 2.8 .5 .2 .5 -.7 .5 -2.8 .5 3.5 .5 -4.2 .5 .6 .5 -.5 .5 6.6 .5 -4.6 .5 1.2 .5 -5.6 .5 8.3 .5 -1.5 .5 -5.3 .5 .2 .5 8.2 .5 -6.5 .5 7 .5 -5.7 .5 -5 .5 9 .5 -1.4 .5 .5 .5 -3 .5 .8 .5 3 .5 -4.4 .5 -2.9 .5 7.3 .5 -3.8 .5 4.8 .5 -4.4 .5 .2 .5 .5 .5 -5.2 .5 8.8 .5 -4.4 .5 1.1 .5 4.2 .5 -3.3 .5 1.9 .5 -1.3 .5 1.1 .5 -1.2 .5 2.3 .5 -3.4 .5 1.7 .5 -2.9 .5 4.8 .5 -8.4 .5 6 .5 .5 .5 0 .5 -.9 .5 3.4 .5 2 .5 -6.7 .5 -3.3 .5 2.1 .5 .7 .5 1.8 .5 .2 .5 2.9 .5 -3.7 .5 1 .5 .4 .5 -2.4 .5 1.4 .5 7.7 .5 -7.1 .5 -2.1 .5 -3 .5 8.1 .5 -3.4 .5 -.7 .5 7.7 .5 -2.5 .5 -7.8 .5 3.4 .5 3.4 .5 -.3 .5 -4.9 .5 7.3 .5 .2 .5 -7.4 .5 -1.6 .5 1 .5 5.2 .5 1.1 .5 -2.2 .5 -2 .5 1.3 .5 1.7 .5 -4.4 .5 -1.2 .5 4.1 .5 3.3 .5 -2.5 .5 0 .5 -2.1 .5 4 .5 -6.6 .5 4.2 .5 -1.3 .5 1.1 .5 -1.9 .5 4.2 .5 -2 .5 -1.3 .5 2.8 .5 -1.3 .5 -1.2 .5 -.1 .5 3.4 .5 -4.2 .5 1.8 .5 -.1 .5 1.5 .5 -1.2 .5 5.9 .5 -9.8 .5 5.9 .5 -1.5 .5 2.9 .5 -6.8 .5 7.1 .5 -6.5 .5 5.3 .5 -.5 .5 -1.1 .5 -1.9 .5 -.2 .5 2.3 .5 -2.1 .5 -2.9 .5 .4 .5 6.5 .5 .1 .5 -.7 .5 -1.2 .5 .9 .5 .3 .5 -.6 .5 -2.5 .5 .1 .5 -1 .5 3.3 .5 -2.8 .5 2.1 .5 3.7 .5 -4.2 .5 3.4 .5 1.5 .5 -8.4 .5 1 .5 4.8 .5 -2.9 .5 3.1 .5 .5 .5 -3 .5 3.4 .5 2.3 .5 -2 .5 -4.5 .5 1.8 .5 -.9 .5 5.3 .5 -4.4 .5 -1.2 .5 1.9 .5 1.2 .5 -2.2 .5 1.2 .5 -.2 .5 1.9 .5 .6 .5 -1.7 .5 -1.9 .5 2.2 .5 -3.2 .5 5 .5 -1.8 .5 -.2 .5 -6.7 .5 12 .5 -2.2 .5 -.5 .5 -2.8 .5 1.4 .5 5.5 .5 -8.8 .5 3.6 .5 -.4 .5 -1.1 .5 .6 .5 -3.3 .5 4.1 .5 -4.9 .5 7.9 .5 -2.5 .5 -4.1 .5 -3.1 .5 5.5 .5 1 .5 -3.7 .5 6.7 .5 -3.5 .5 -1.8 .5 -2.3 .5 3.2 .5 -.1 .5 2.1 .5 1 .5 -2.5 .5 1.1 .5 2.4 .5 -1.9 .5 -2.2 .5 2.2 .5 -2.8 .5 2.4 .5 -1 .5 -2.8 .5 4.3 .5 -1.3 .5 1.6 .5 -5.1 .5 6.1 .5 .1 .5 -3.7 .5 .6 .5 .4 .5 -.1 .5 2.1 .5 -3.8 .5 -1.1 .5 2.3 .5 5.3 .5 -5.7 .5 -1.5 .5 .2 .5 2.8 .5 2.5 .5 -4.8 .5 2.3 .5 .1 .5 .7 .5 -.8 .5 2.3 .5 -.9 .5 -3.3 .5 7.7 .5 -9.5 .5 .1 .5 5.9 .5 -2.1 .5 -1.1 .5 1.2 .5 1.2 .5 -2.8 .5 -.5 .5 -1 .5 .5 .5 .2 .5 4.8 .5 -2.1 .5 .7 .5 -2.8 .5 4 .5 -6.5 .5 5.1 .5 .6 .5 -3.2 .5 -1.1 .5 3.9 .5 -3.1 .5 -.4 .5 2.2 .5 -2.8 .5 2.5 .5 5.4 .5 -6.1 .5 3.4 .5 -4.9 .5 2.8 .5 -.9 .5 .3 .5 2.3 .5 3.5 .5 -5.7 .5 3.6 .5 -2.3 .5 .9 .5 -3 .5 -.6 .5 1.3 .5 -1.4 .5 1.9 .5 -2.6 .5 2.7 .5 .4 .5 4.1 .5 -.2 .5 -3 .5 -2.5 .5 2.7 .5 .6 .5 -2.5 .5 -1.7 .5 -2.3 .5 4.4 .5 4.9 .5 -5.3 .5 1.5 .5 -.1 .5 .3 .5 .8 .5 -7 .5 4.7 .5 1.3 .5 -1.2 .5 3.3 .5 -4 .5 3.3 .5 2.1 .5 -5 .5 .7 .5 -.8 .5 2.7 .5 -7.3 .5 1.7 .5 2.9 .5 3 .5 -.7 .5 -3.6 .5 6.1 .5 -3.7 .5 -1.9 .5 2.9 .5 2 .5 -3.4 .5 -3.7 .5 2.5 .5 1.6 .5 2.1 .5 -4.9 .5 3.2 .5 -3.6 .5 3.2 .5 -3.6 .5 2.2 .5 -2.6 .5 1.3 .5 -1.5 .5 -.9 .5 8 .5 -.1 .5 -1.8 .5 -2.1 .5 4.6 .5 -4.4 .5 1.8 .5 1.8 .5 -2.3 .5 3.2 .5 -4.1 .5 0 .5 .7 .5 -3.2 .5 .2 .5 4.6 .5 -6.3 .5 7.2 .5 -2.1 .5 2.3 .5 -1.1 .5 -.4 .5 2.9 .5 -4.6 .5 -.1 .5 3.1 .5 -4.5 .5 4.5 .5 -1.1 .5 -3 .5 -1.9 .5 -1.9 .5 9.8 .5 -8.4 .5 .7 .5 5.2 .5 -1 .5 -.7 .5 -.3 .5 -1.3 .5 -1.2 .5 .4 .5 3.4 .5 1.2 .5 .2 .5 -3 .5 -5.6 .5 6.9 .5 -1.6 .5 -6.4 .5 10.2 .5 -2.9 .5 -.7 .5 .6 .5 -.2 .5 .3 .5 -.3 .5 -.2 .5 1.4 .5 -.6 .5 5.2 .5 -5.7 .5 -1.6 .5 -.3 .5 2.5 .5 -.6 .5 .3 .5 -1.1 .5 0 .5 2.3 .5 1.6 .5 -2.6 .5 -1.1 .5 -2.7 .5 0 .5 3 .5 -.7 .5 .4 .5 -2.6 .5 2.5 .5 -4.6 .5 1.9 .5 1 .5 3.4 .5 -3 .5 -.9 .5 3.1 .5 -1 .5 2.6 .5 -1.5 .5 -.3 .5 -1 .5 2.1 .5 -3.5 .5 -2 .5 6.1 .5 -3.5 .5 1.3 .5 1.4 .5 1 .5 -9.8 .5 4.6 .5 5.7 .5 -7.4 .5 5.5 .5 -2.1 .5 -1.3 .5 1.9 .5 -4 .5 5.3 .5 1.9 .5 -6.5 .5 1.9 .5 4.7 .5 -2.1 .5 -1.8 .5 4.4 .5 -7.8 .5 3.5 .5 .9 .5 -1 .5 2.8 .5 -6.2 .5 4.3 .5 -2.1 .5 5 .5 -.4 .5 -4.5 .5 -.9 .5 2.6 .5 -2 .5 .7 .5 2.5 .5 -2.3 .5 5.8 .5 -4.4 .5 -1.5 .5 -1.5 .5 1.5 .5 4 .5 -1.4 .5 2.2 .5 -.3 .5 -1.9 .5 -3.1 .5 1.3 .5 .6 .5 -4.4 .5 5 .5 -3.4 .5 2.4 .5 -1.1 .5 2.7 .5 5.2 .5 -9.7 .5 3 .5 5.2 .5 -7.5 .5 1.7 .5 .3 .5 1.1 .5 -4.9 .5 4.9 .5 .7 .5 4.9 .5 -6.6 .5 -1.3 .5 1.8 .5 -6.9 .5 7.4 .5 3 .5 -4 .5 0 .5 -.5 .5 1 .5 -3.5 .5 7 .5 -5.1 .5 0 .5 5.3 .5 -4.1 .5 -1.1 .5 5.2 .5 -3.7 .5 1.9 .5 -3.8 .5 -3 .5 4.9 .5 3.1 .5 -4.7 .5 2 .5 .9 .5 -1.1 .5 -.5 .5 1.7 .5 -1.4 .5 -1.9 .5 4 .5 -.6 .5 -1.1 .5 .9 .5 -8.5 .5 7.3 .5 -.6 .5 -5.1 .5 10.2 .5 -4.3 .5 -2 .5 .1 .5 1.7 .5 -.8 .5 -4 .5 3.1 .5 2.1 .5 .4 .5 .6 .5 -4.8 .5 1 .5 2.5 .5 -2.4 .5 2 .5 -2.6 .5 3.6 .5 -1.4 .5 1.3 .5 -1.3 .5 -2.1 .5 -1.1 .5 3.2 .5 -1.7 .5 -2.2 .5 2.4 .5 3.3 .5 1.1 .5 -1.2 .5 1.5 .5 -4.3 .5 .5 .5 -2 .5 .4 .5 6 .5 -2.9 .5 .5 .5 4.9 .5 -1.7 .5 -7 .5 4.6 .5 -4.4 .5 4.4 .5 -7.2 .5 2.3 .5 .1 .5 7.3 .5 -9.5 .5 7.3 .5 -.1 .5 -2.4 .5 1.7 .5 4.4 .5 -5.8 .5 -1.4 .5 4.1 .5 -1.4 .5 -4.9 .5 3.3 .5 .3 .5 -3.6 .5 .4 .5 .8 .5 -1.4 .5 4.3 .5 -.5 .5 -6.4 .5 4.5 .5 1.4 .5 -3.8 .5 2.7 .5 1.4 .5 -5 .5 3.5 .5 -5.2 .5 7.8 .5 -3.7 .5 -1.9 .5 -1 .5 .5 .5 7.4 .5 -5.4 .5 .6 .5 .5 .5 -2.9 .5 5.8 .5 -8.4 .5 8.7 .5 -4.3 .5 2.1 .5 .6 .5 1.4 .5 -5.3 .5 4.6 .5 -1.7 .5 -.2 .5 -.4 .5 3.6 .5 -1.7 .5 2 .5 -.9 .5 -7.4 .5 4.8 .5 2.8 .5 -4.9 .5 -2 .5 -1.5 .5 10.8 .5 -7.4 .5 2.8 .5 -3.2 .5 3.8 .5 3.1 .5 -7.9 .5 3.5 .5 -1.8 .5 -2.9 .5 2.5 .5 2.4 .5 3.1 .5 .1 .5 -3.4 .5 -4.2 .5 5.9 .5 -1.7 .5 0 .5 -2.9 .5 2.5 .5 5.4 .5 -1.2 .5 -.6 .5 -1.6 .5 -2.7 .5 1 .5 .4 .5 .5 .5 -1.9 .5 -1.3 .5 5.1 .5 -3.9 .5 3.1 .5 -2.6 .5 2.2 .5 -.5 .5 .6 .5 -.2 .5 -4.2 .5 -1.1 .5 3.4 .5 4.3 .5 -6.4 .5 -.3 .5 8.2 .5 -9.8 .5 2.5 .5 .4 .5 -.8 .5 .1 .5 4.4 .5 -2.3 .5 -.1 .5 -4.7 .5 6.2 .5 -1.6 .5 -.1 .5 1.7 .5 -1.3 .5 -.9 .5 1.1 .5 -3 .5 -.5 .5 -1.2 .5 5.9 .5 -4.2 .5 2.1 .5 2.4 .5 1.7 .5 -5.6 .5 1.3 .5 -.2 .5 -3.7 .5 2.1 .5 8.3 .5 -7.4 .5 4.7 .5 -2.7 .5 2.5 .5 -1.2 .5 -2.9 .5 -3.8 .5 6.8 .5 -2 .5 -.6 .5 .9 .5 -4.4 .5 2.3 .5 -.5 .5 -3.9 .5 .6 .5 2.7 .5 -5.5 .5 7.4 .5 0 .5 -2.4 .5 .8 .5 -5.6 .5 5 .5 1.3 .5 -.8 .5 .8 .5 -2.7 .5 5.1 .5 -4.3 .5 .6 .5 .5 .5 -5.1 .5 -1.3 .5 4.6 .5 -5.6 .5 1.3 .5 3.7 .5 -6 .5 -.2 .5 -1.2 .5 -.2 .5 7 .5 -4.2 .2 -.3 .1 -.2 .1 -.2 .1 -.2 0 1.1 .1 -.2 .1 -.2 .1 -.2 .1 -.2 .1 -.2 0 -7.7 .1 -.2 .1 -.3 .1 -.2 .1 -.3 .1 -.2 0 -1.3 .1 -.3 .1 -.2 .1 -.3 .1 -.4 .1 -.3 0 3.4 .1 -.4 .1 -.3 .1 -.4 .1 -.4 .1 -.4 0 5.9 .1 -.4 .1 -.5 .1 -.5 .1 -.5 .1 -.6 0 .4 .1 -.6 .1 -.6 .1 -.7 .1 -.7 .1 -.7 0 -8.6 .1 -.9 .1 -.8 .1 -.9 .1 -1 .1 -1.1 0 .7 .1 -1.1 .1 -1.2 .1 -1.3 .1 -1.3 .1 -1.5 0 6.8 .1 -1.5 .1 -1.6 .1 -1.7 .1 -1.8 .1 -2 0 -1.1 .1 -2.1 .1 -2.2 .1 -2.4 .1 -2.5 .1 -2.6 0 .5 .1 -2.8 .1 -2.9 .1 -3.2 .1 -3.4 .1 -3.5 0 .7 .1 -3.8 .1 -3.9 .1 -4.2 .1 -4.4 .1 -4.7 0 -5.4 .1 -5 .1 -5.2 .1 -5.5 .1 -5.8 .1 -6 0 3.8 .1 -6.3 .1 -6.6 .1 -6.9 .1 -7.3 .1 -7.5 0 -1.5 .1 -7.9 .1 -8.2 .1 -8.6 .1 -8.9 .1 -9.2 0 5.8 .1 -9.5 .1 -9.9 .1 -10.2 .1 -10.5 .1 -11 0 -6.3 .1 -11.3 .1 -11.6 .1 -12 .1 -12.3 .1 -12.6 0 -6.4 .1 -13 .1 -13.2 .1 -13.5 .1 -13.8 .1 -14.1 0 12.9 .1 -14.4 .1 -14.7 .1 -15 .1 -15.5 .1 -16.2 0 2.2 .1 -17.1 .1 -18.7 .1 -20.9 .1 -24.4 .1 -29.4 0 -3.4 .1 -36.5 .1 -46.3 .1 -59 .1 -75.1 .1 -94.6 0 -5.3 .1 -117 .1 -141 .1 -165.3 .1 -59.8 .1 0 .1 0 .1 0 .1 0 .1 0 .1 0 .1 0 .1 0 .1 0 .1 0 .1 0 .1 0 .1 0 .1 0 .1 0 .1 0 .1 0 .1 21.3 .1 122.6 .1 99 .1 77.4 0 1.1 .1 58.6 .1 43.1 .1 31.2 .1 22.2 .1 15.9 0 -3.7 .1 11.8 .1 9.1 .1 7.8 .1 7.1 .1 7.1 0 -7.7 .1 7.3 .1 7.7 .1 8.2 .1 8.8 .1 9.5 0 10.1 .1 10 .1 10.6 .1 11.2 .1 11.6 .1 12.2 0 -6.2 .1 12.6 .1 13.1 .1 13.4 .1 13.8 .1 14.1 0 -2.3 .1 14.4 .1 14.7 .1 14.9 .1 15 .1 15.2 0 6.2 .1 15.3 .1 15.5 .1 15.4 .1 15.5 .1 15.5 0 .8 .1 15.4 .1 15.4 .1 15.3 .1 15.2 .1 15.1 0 -.9 .1 14.8 .1 14.7 .1 14.5 .1 14.3 .1 14 0 3 .1 13.8 .1 13.5 .1 13.2 .1 12.9 .1 12.6 0 -10.4 .1 12.3 .1 12 .1 11.6 .1 11.3 .1 11 0 10.1 .1 10.6 .1 10.3 .1 9.9 .1 9.5 .1 9.2 0 4 .1 8.8 .1 8.5 .1 8.1 .1 7.9 .1 7.4 0 -6.1 .1 7.3 .1 6.9 .1 6.6 .1 6.3 .1 6 0 -1.4 .1 5.8 .1 5.5 .1 5.2 .1 4.9 .1 4.7 0 1.1 .1 4.4 .1 4.2 .1 4 .1 3.8 .1 3.5 0 4.3 .1 3.4 .1 3.1 .1 3 .1 2.8 .1 2.6 0 -4.2 .1 2.5 .1 2.4 .1 2.2 .1 2.1 .1 1.9 0 -1.7 .1 1.8 .1 1.7 .1 1.7 .1 1.5 .1 1.4 0 -2.5 .1 1.3 .1 1.3 .1 1.2 .1 1.1 .1 1 0 8.6 .1 1 .1 .9 .1 .8 .1 .8 .1 .7 0 .1 .1 .7 .1 .6 .1 .6 .1 .6 .1 .5 0 -3.8 .1 .5 .1 .5 .1 .5 .1 .4 .1 .4 0 5.6 .1 .4 .1 .3 .1 .4 .1 .3 .1 .3 0 -6.6 .1 .3 .4 4.1 .5 -4.2 .5 1.7 .5 3.5 .5 2.1 .5 1 .5 -3.4 .5 1.5 .5 1.6 .5 0 .5 .5 .5 3.2 .5 1.3 .5 -7.5 .5 8.5 .5 -2.6 .5 .6 .5 .3 .5 1.8 .5 -.4 .5 -5.6 .5 6.4 .5 -4.9 .5 4 .5 -.3 .5 -4.3 .5 4.1 .5 -.5 .5 -1 .5 7.1 .5 -4.7 .5 -1.3 .5 5.6 .5 -4.5 .5 -.2 .5 -4.7 .5 6.8 .5 1.1 .5 2.4 .5 -7.4 .5 5.3 .5 1 .5 -1.7 .5 -1.8 .5 -4.1 .5 4.7 .5 -1.8 .5 -3 .5 6 .5 -1.8 .5 -.2 .5 5.7 .5 -6.4 .5 -3.9 .5 -.3 .5 7 .5 -1.9 .5 -1.3 .5 -3.5 .5 3.4 .5 -.8 .5 2.6 .5 -1.9 .5 0 .5 2.2 .5 -1.9 .5 2.8 .5 -9.5 .5 5.6 .5 6.3 .5 -2.6 .5 -3.3 .5 2.3 .5 -.9 .5 .5 .5 4.6 .5 -4.7 .5 1.6 .5 -2.7 .5 .3 .5 -2 .5 2.3 .5 .6 .5 .3 .5 .9 .5 .1 .5 1.5 .5 -2.2 .5 3.8 .5 -1.7 .5 1.9 .5 -3.6 .5 3.2 .5 -2.8 .5 -4.4 .5 4.1 .5 -.4 .5 -3.2 .5 1.2 .5 1 .5 7.3 .5 -5 .5 3.8 .5 -2.2 .5 .4 .5 -.7 .5 -5.8 .5 6.9 .5 -5.7 .5 3.7 .5 -1.4 .5 4.4 .5 -1.1 .5 1.6 .5 -3.4 .5 -1.2 .5 2 .5 4.1 .5 -4.8 .5 -1.1 .5 -3.3 .5 1.3 .5 1.6 .5 2 .5 -.2 .5 -1.8 .5 .6 .5 3.5 .5 .8 .5 -1.6 .5 .8 .5 -.7 .5 1.5 .5 -7.8 .5 1.9 .5 1.9 .5 .4 .5 2.4 .5 -8 .5 5 .5 .3 .5 -2.4 .5 1.3 .5 2.9 .5 -1.3 .5 -1.5 .5 .8 .5 -.8 .5 2.7 .5 -2.6 .5 2.7 .5 -3.9 .5 1.3 .5 -2.7 .5 2.3 .5 2.6 .5 -4.6 .5 1.6 .5 1.2 .5 -1.2 .5 3 .5 -5.2 .5 5.3 .5 1.2 .5 .8 .5 -4.3 .5 -1.9 .5 -1.9 .5 5.6 .5 .4 .5 -1.3 .5 .1 .5 .8 .5 -2.6 .5 -2.8 .5 .1 .5 1.6 .5 -.3 .5 -1.7 .5 2.9 .5 -1.5 .5 4.3 .5 -1.9 .5 2.2 .5 -5.3 .5 .5 .5 -1.2 .5 4.7 .5 7.2 .5 -7.3 .5 -1.7 .5 1.6 .5 -.6 .5 2.5 .5 -2.4 .5 -2.2 .5 -2.6 .5 5.7 .5 1.6 .5 -2.1 .5 -2.6 .5 1.1 .5 .3 .5 2.2 .5 -1.6 .5 3.1 .5 -3.4 .5 -1.2 .5 6.3 .5 -7.2 .5 .6 .5 7.2 .5 -4.5 .5 3.8 .5 -10.8 .5 9.4 .5 -3.1 .5 .2 .5 1 .5 -8.2 .5 4.7 .5 3.4 .5 7 .5 -10.1 .5 7.9 .5 -4.4 .5 1 .5 -5 .5 4 .5 -3.7 .5 -.9 .5 6.2 .5 -5 .5 .5 .5 3.1 .5 -3.8 .5 -1.2 .5 3.8 .5 .1 .5 3.1 .5 -6.7 .5 4.7 .5 0 .5 -2.9 .5 .6 .5 .5 .5 -2.6 .5 -.8 .5 5.1 .5 -4.5 .5 .3 .5 4.4 .5 -3.3 .5 .3 .5 -2.5 .5 .4 .5 -.4 .5 0 .5 6.6 .5 -5.6 .5 -3.4 .5 3 .5 4.6 .5 -4.7 .5 2.8 .5 -2.3 .5 -2.1 .5 3.1 .5 -1.2 .5 3 .5 1.3 .5 -1.9 .5 6.8 .5 -9.4 .5 6.1 .5 -2.3 .5 2.4 .5 -2.2 .5 -7 .5 4.9 .5 3.4 .5 -2.6 .5 -3.4 .5 2 .5 2.2 .5 2.2 .5 -4.6 .5 1.8 .5 -2.6 .5 -.7 .5 1.7 .5 4.7 .5 -1.6 .5 -2.5 .5 .6 .5 1.4 .5 -1.7 .5 -.8 .5 .4 .5 2.3 .5 -2.6 .5 3 .5 -6.7 .5 2.8 .5 .8 .5 2.5 .5 -3.8 .5 1 .5 2.1 .5 -1 .5 -1.5 .5 .9 .5 -1.5 .5 4.3 .5 -.9 .5 1.1 .5 3.5 .5 -2.5 .5 -1.9 .5 -1.5 .5 6 .5 -5.1 .5 -1.1 .5 3.8 .5 -2.2 .5 -1.7 .5 1.8 .5 3.8 .5 -4.5 .5 .6 .5 -3.1 .5 1 .5 3.4 .5 -2.4 .5 .5 .5 2.5 .5 -3.6 .5 4.7 .5 -5.5 .5 -.3 .5 -.1 .5 -1.7 .5 5.1 .5 -1.3 .5 3.3 .5 -5.3 .5 3.8 .5 1.4 .5 -3.9 .5 .1 .5 -5.8 .5 11.1 .5 -5.2 .5 2 .5 -3 .5 2.1 .5 -3.7 .5 4.7 .5 -1.6 .5 -1.2 .5 2 .5 -5.6 .5 4.9 .5 -1.5 .5 4.7 .5 -1.7 .5 -2.4 .5 -.3 .5 8.2 .5 -10 .5 7.3 .5 -2.5 .5 -.4 .5 -6.7 .5 6.8 .5 -3.3 .5 -1.1 .5 3.8 .5 -3.3 .5 3.2 .5 -3.8 .5 3.8 .5 -.3 .5 -3.3 .5 -.3 .5 .7 .5 .4 .5 -.2 .5 6.1 .5 -3.6 .5 -1.9 .5 0 .5 -1.2 .5 2.7 .5 -.9 .5 -1.5 .5 -.1 .5 .7 .5 -1.6 .5 2.9 .5 -2.6 .5 3.7 .5 -2.2 .5 2.1 .5 -2.8 .5 -3.2 .5 1.4 .5 2.5 .5 1.7 .5 .1 .5 .3 .5 .4 .5 -.8 .5 .2 .5 -1.7 .5 1.9 .5 -1.6 .5 0 .5 .7 .5 5.3 .5 -9.5 .5 2.5 .5 .5 .5 1.7 .5 -1 .5 4.1 .5 -8 .5 8.4 .5 -7.7 .5 1.3 .5 3.2 .5 -1.2 .5 -.2 .5 .2 .5 .8 .5 1.4 .5 -1.4 .5 -4.2 .5 1.3 .5 5.3 .5 1.3 .5 -2.4 .5 .3 .5 -1.9 .5 4.4 .5 -6.7 .5 .6 .5 -1.1 .5 5.8 .5 -5.2 .5 2.6 .5 -4.8 .5 -.2 .5 6.1 .5 -.7 .5 .4 .5 -1.7 .5 -1.2 .5 -.3 .5 -1.8 .5 1.8 .5 4.3 .5 -3.7 .5 -2.9 .5 2.6 .5 -1.8 .5 -.5 .5 2.6 .5 -1.6 .5 -1.3 .5 6.9 .5 .5 .5 -3.9 .5 3.3 .5 -4.9 .5 1.1 .5 3.3 .5 -2.5 .5 1.2 .5 -8.9 .5 7.6 .5 -1.8 .5 .7 .5 -3.5 .5 1.8 .5 3.5 .5 -.1 .5 .5 .5 .1 .5 .6 .5 -1.8 .5 -1.5 .5 -.9 .5 .4 .5 -1.4 .5 -.1 .5 2.2 .5 -5.5 .5 2.6 .5 1.1 .5 3.3 .5 1.4 .5 -1.9 .5 -1 .5 -1.1 .5 4 .5 -1.1 .5 -3.4 .5 1.6 .5 1 .5 1.3 .5 -3.2 .5 4.6 .5 -.8 .5 -4 .5 .5 .5 -1.8 .5 0 .5 3.1 .5 2.7 .5 0 .5 -3.1 .5 -1.4 .5 -.7 .5 2.7 .5 -2.3 .5 2.9 .5 -2.1 .5 1 .5 -2 .5 6.3 .5 -2.2 .5 -2.7 .5 -2.4 .5 3.6 .5 .4 .5 -4.7 .5 3 .5 4.9 .5 -4.7 .5 -1.5 .5 2.4 .5 3.1 .5 -5.7 .5 0 .5 .4 .5 .8 .5 2.8 .5 -2.2 .5 -6.5 .5 6.7 .5 -.2 .5 .6 .5 -.9 .5 -1.1 .5 1.6 .5 -3.1 .5 -2.5 .5 3.3 .5 -2 .5 6.9 .5 -4.5 .5 4.1 .5 -7.4 .5 .3 .5 4 .5 -5.4 .5 2.6 .5 -3.3 .5 5.8 .5 -5.4 .5 3.9 .5 -4.2 .5 5.5 .5 1.4 .5 -2.5 .5 -2.8 .5 3.4 .5 1.3 .5 -.6 .5 1.1 .5 1.5 .5 -4.3 .5 -1.4 .5 -1.1 .5 1.4 .5 -.7 .5 -.9 .5 2.1 .5 4 .5 -7.3 .5 .6 .5 .1 .5 -1.9 .5 5 .5 -3.3 .5 1.6 .5 -6 .5 5.1 .5 -2.2 .5 -3.9 .5 5.2 .5 -.6 .5 -2.9 .5 -.7 .5 -5.3 .5 3 .5 -6 .5 -1.5 .2 -1.6 .1 -.9 .1 -.9 .1 -.9 0 .3 .1 -1 .1 -1 .1 -1.1 .1 -1.2 .1 -1.1 0 -.4 .1 -1.2 .1 -1.3 .1 -1.4 .1 -1.4 .1 -1.5 0 -3.3 .1 -1.6 .1 -1.6 .1 -1.7 .1 -1.8 .1 -1.9 0 2.9 .1 -1.9 .1 -2 .1 -2.1 .1 -2.2 .1 -2.2 0 -.4 .1 -2.3 .1 -2.5 .1 -2.5 .1 -2.7 .1 -2.7 0 3.1 .1 -2.8 .1 -2.9 .1 -3.1 .1 -3.1 .1 -3.3 0 -6 .1 -3.5 .1 -3.5 .1 -3.7 .1 -3.8 .1 -4 0 5.6 .1 -4 .1 -4.2 .1 -4.3 .1 -4.4 .1 -4.6 0 -1.6 .1 -4.8 .1 -4.9 .1 -5 .1 -5.2 .1 -5.3 0 -1.5 .1 -5.5 .1 -5.7 .1 -5.8 .1 -6 .1 -6.2 0 6.8 .1 -6.2 .1 -6.4 .1 -6.6 .1 -6.7 .1 -6.9 0 -4.2 .1 -7.1 .1 -7.3 .1 -7.4 .1 -7.7 .1 -7.8 0 -5.4 .1 -8 .1 -8.1 .1 -8.3 .1 -8.5 .1 -8.6 0 3.4 .1 -8.8 .1 -8.9 .1 -9.1 .1 -9.3 .1 -9.4 0 -4.2 .1 -9.5 .1 -9.7 .1 -9.8 .1 -10 .1 -10.1 0 -1.6 .1 -10.2 .1 -10.4 .1 -10.4 .1 -10.6 .1 -10.7 0 2.7 .1 -10.8 .1 -10.9 .1 -10.9 .1 -11.1 .1 -11.1 0 .1 .1 -11.2 .1 -11.3 .1 -11.3 .1 -11.3 .1 -11.5 0 8.8 .1 -11.5 .1 -11.6 .1 -11.8 .1 -12 .1 -12.6 0 -3.6 .1 -13.4 .1 -14.7 .1 -16.9 .1 -20.3 .1 -25.1 0 -12.9 .1 -32.2 .1 -41.9 .1 -54.6 .1 -70.7 .1 -90.2 0 9.1 .1 -112.6 .1 -136.7 .1 -115.2 .1 0 .1 0 .1 0 .1 0 .1 0 .1 0 .1 0 .1 0 .1 0 .1 0 .1 0 .1 0 .1 0 .1 0 .1 0 .1 0 .1 0 .1 0 .1 0 .1 71.6 .1 97.1 .1 75 0 1.6 .1 55.8 .1 40 .1 27.6 .1 18.2 .1 11.6 0 -4.8 .1 7 .1 4 .1 2.3 .1 1.4 .1 .9 0 8.7 .1 .9 .1 .9 .1 1.3 .1 1.6 .1 1.9 0 -6.2 .1 2.4 .1 2.8 .1 3.1 .1 3.6 .1 4 0 5.4 .1 4.4 .1 4.7 .1 5.2 .1 5.4 .1 5.9 0 -5.3 .1 6.2 .1 6.5 .1 6.8 .1 7.2 .1 7.5 0 2.3 .1 7.8 .1 8.1 .1 8.3 .1 8.6 .1 8.8 0 -5.8 .1 9.1 .1 9.3 .1 9.5 .1 9.7 .1 9.9 0 8.3 .1 10.1 .1 10.2 .1 10.4 .1 10.6 .1 10.7 0 -3.3 .1 10.8 .1 10.9 .1 11 .1 11.1 .1 11.2 0 -2.7 .1 11.2 .1 11.3 .1 11.4 .1 11.4 .1 11.4 0 3.1 .1 11.4 .1 11.5 .1 11.4 .1 11.4 .1 11.4 0 .4 .1 11.4 .1 11.3 .1 11.3 .1 11.2 .1 11.2 0 -8 .1 11.1 .1 11 .1 11 .1 10.9 .1 10.7 0 3.2 .1 10.7 .1 10.5 .1 10.5 .1 10.3 .1 10.2 0 -1 .1 10.1 .1 10 .1 9.8 .1 9.7 .1 9.5 0 7.3 .1 9.4 .1 9.3 .1 9 .1 9 .1 8.8 0 -2.6 .1 8.6 .1 8.5 .1 8.3 .1 8.1 .1 8 0 -3.4 .1 7.8 .1 7.6 .1 7.5 .1 7.3 .1 7.2 0 -.2 .1 7 .1 6.8 .1 6.7 .1 6.5 .1 6.3 0 2.5 .1 6.2 .1 5.9 .1 5.9 .1 5.6 .1 5.6 0 -8 .1 5.4 .1 5.3 .1 5.1 .1 4.9 .1 4.9 0 7.2 .1 4.6 .1 4.5 .1 4.3 .1 4.2 .1 4 0 5.7 .1 3.8 .1 3.8 .1 3.6 .1 3.5 .1 3.4 0 -9.3 .1 3.3 .1 3.2 .1 3.1 .1 3 .1 2.9 0 .6 .1 2.8 .1 2.6 .1 2.6 .1 2.5 .1 2.5 .5 15 .5 5.1 .5 14.1 .5 -.2 .5 3.5 .5 1.8 .5 7.4 .5 3.1 .5 -.7 .5 4.2 .5 .9 .5 -1.5 .5 -.1 .5 -1 .5 2.5 .5 -1.1 .5 5 .5 -1.6 .5 -2 .5 -.4 .5 2.3 .5 1.8 .5 -1.7 .5 2 .5 -3.6 .5 1.9 .5 1.2 .5 -1 .5 .6 .5 1.8 .5 -2.5 .5 2.6 .5 -3.7 .5 2.7 .5 -2.2 .5 .2 .5 2.5 .5 1.8 .5 -3.4 .5 .6 .5 3.2 .5 -5.3 .5 4.4 .5 -5.1 .5 -1.8 .5 5.7 .5 -1.6 .5 -.5 .5 -4.7 .5 7 .5 -2 .5 -1.8 .5 2.7 .5 -2.6 .5 1.1 .5 -.1 .5 4.5 .5 -2.7 .5 3.6 .5 -5.3 .5 -.9 .5 7.4 .5 -7.8 .5 6.5 .5 -5.8 .5 4.6 .5 -3.6 .5 5.7 .5 1.2 .5 -2.3 .5 -1.7 .5 -1.8 .5 2.9 .5 3.3 .5 -6.3 .5 -1.7 .5 7.3 .5 -5 .5 2.4 .5 -1.3 .5 .2 .5 -1.3 .5 .3 .5 -3.8 .5 2.8 .5 -.7 .5 5.1 .5 -3.7 .5 1.1 .5 -4.5 .5 4.4 .5 3.7 .5 -3.4 .5 1.8 .5 -3 .5 -.7 .5 3.9 .5 -3.5 .5 -1.5 .5 2.4 .5 -.7 .5 3.6 .5 -.8 .5 -5.4 .5 4.9 .5 -4.6 .5 3.8 .5 1 .5 -2.8 .5 0 .5 3.3 .5 -2.7 .5 -2.1 .5 7 .5 -1.9 .5 -1 .5 -.4 .5 1.7 .5 -2.3 .5 1.8 .5 -1.2 .5 -2.5 .5 4.4 .5 -2.3 .5 -2.4 .5 .9 .5 -4.9 .5 1.8 .5 .5 .5 5.4 .5 -.1 .5 1.2 .5 -1.9 .5 3.3 .5 -5.6 .5 -.8 .5 -.4 .5 2.7 .5 -2.1 .5 -.8 .5 .9 .5 1.7 .5 -3.7 .5 3.2 .5 -.1 .5 4.1 .5 -3.9 .5 -3.7 .5 3.8 .5 -.3 .5 -3.8 .5 -4.6 .5 9.4 .5 -2.5 .5 -1.6 .5 1.2 .5 3.5 .5 .9 .5 -5.9 .2 -.1 .1 -.1 .1 0 .1 -.1 0 5.1 .1 -.1 .1 -.1 .1 -.1 .1 0 .1 -.1 0 -4 .1 -.1 .1 -.1 .1 0 .1 -.1 .1 -.1 0 .1 .1 -.1 .1 0 .1 -.1 .1 -.1 .1 -.1 0 -.3 .1 -.1 .1 -.1 .1 -.1 .1 -.1 .1 -.1 0 .1 .1 -.1 .1 -.2 .1 -.1 .1 -.1 .1 -.1 0 -.2 .1 -.2 .1 -.1 .1 -.1 .1 -.2 .1 -.1 0 -1.4 .1 -.1 .1 -.2 .1 -.1 .1 -.2 .1 -.2 0 1.8 .1 -.1 .1 -.2 .1 -.2 .1 -.2 .1 -.2 0 -2.6 .1 -.2 .1 -.2 .1 -.2 .1 -.2 .1 -.3 0 4.1 .1 -.2 .1 -.2 .1 -.3 .1 -.2 .1 -.3 0 -3.1 .1 -.3 .1 -.3 .1 -.3 .1 -.3 .1 -.4 0 3 .1 -.3 .1 -.4 .1 -.4 .1 -.4 .1 -.5 0 -1.6 .1 -.4 .1 -.6 .1 -.6 .1 -.6 .1 -.7 0 -4.4 .1 -.8 .1 -.8 .1 -1 .1 -1 .1 -1.2 0 8 .1 -1.3 .1 -1.5 .1 -1.6 .1 -1.8 .1 -2.1 0 -2.4 .1 -2.3 .1 -2.5 .1 -2.9 .1 -3.2 .1 -3.5 0 -1.1 .1 -3.9 .1 -4.3 .1 -4.8 .1 -5.2 .1 -5.8 0 -.8 .1 -6.2 .1 -6.8 .1 -7.3 .1 -7.9 .1 -8.4 0 6.9 .1 -8.8 .1 -9.4 .1 -9.9 .1 -10.4 .1 -10.9 0 -7.3 .1 -11.4 .1 -11.8 .1 -12.1 .1 -12.4 .1 -12.5 0 4.7 .1 -12.5 .1 -12.5 .1 -12.4 .1 -12.2 .1 -11.9 0 -3 .1 -11.5 .1 -10.9 .1 -10.2 .1 -9.5 .1 -8.6 0 -6.1 .1 -7.7 .1 -6.7 .1 -5.5 .1 -4.4 .1 -3.2 0 8.2 .1 -1.9 .1 -.6 .1 .6 .1 1.9 .1 3.2 0 -9 .1 4.4 .1 5.5 .1 6.6 .1 7.7 .1 8.6 0 7.9 .1 9.4 .1 10.2 .1 10.8 .1 11.4 .1 11.7 0 -.1 .1 12 .1 12.3 .1 12.3 .1 12.3 .1 12.1 0 -.6 .1 11.9 .1 11.7 .1 11.2 .1 10.9 .1 10.3 0 -3.5 .1 9.8 .1 9.1 .1 8.5 .1 7.8 .1 7 0 7.1 .1 6.2 .1 5.5 .1 4.7 .1 4 .1 3.2 0 1.1 .1 2.5 .1 1.7 .1 .9 .1 .3 .1 -.5 0 -8.3 .1 -1.1 .1 -1.8 .1 -2.4 .1 -3 .1 -3.6 0 1.7 .1 -4.1 .1 -4.6 .1 -5 .1 -5.4 .1 -5.7 0 6.7 .1 -6 .1 -6.1 .1 -6.3 .1 -6.3 .1 -6.4 0 -7.3 .1 -6.4 .1 -6.2 .1 -6.1 .1 -5.8 .1 -5.5 0 5.2 .1 -5 .1 -4.6 .1 -4 .1 -3.5 .1 -2.8 0 -7.4 .1 -2.3 .1 -1.5 .1 -.8 .1 -.1 .1 .7 0 1.3 .1 1.4 .1 2 .1 2.8 .1 3.5 .1 4.1 0 3.3 .1 4.7 .1 5.2 .1 5.7 .1 6.1 .1 6.4 0 .7 .1 6.8 .1 7 .1 7.2 .1 7.3 .1 7.3 0 -6.4 .1 7.4 .1 7.4 .1 7.3 .1 7.1 .1 6.9 0 1.2 .1 6.7 .1 6.4 .1 6.1 .1 5.8 .1 5.5 0 4.6 .1 5.1 .1 4.8 .1 4.4 .1 4.1 .1 3.8 0 2.1 .1 3.5 .1 3.1 .1 2.9 .1 2.6 .1 2.3 0 -2 .1 2.1 .1 1.9 .1 1.6 .1 1.5 .1 1.3 0 -.4 .1 1.2 .1 1 .1 .9 .1 .8 .1 .6 0 .2 .1 .6 .1 .5 .1 .5 .1 .4 .1 .3 0 -4.2 .1 .3 .1 .2 .1 .2 .1 .2 .1 .2 0 4.1 .1 .2 .1 .1 .1 .1 .1 .1 .1 .1 0 1.3 .1 .1 .1 .1 .1 0 .1 .1 .1 .1 0 -.8 .1 .1 .1 0 .1 .1 .1 .1 .1 0 0 -4.4 .1 0 .1 .1 .1 0 .1 .1 .1 0 0 .5 .1 .1 .1 0 .1 .1 .1 0 .1 .1 0 5.2 .1 .1 .1 0 .1 0 .1 .1 .1 0 0 -6.3 .1 0 .1 .1 .1 0 .1 .1 .1 0 0 .8 .1 0 .1 .1 .1 0 .1 0 .1 .1 0 6.7 .1 0 .1 0 .1 .1 .1 0 .1 0 0 -6.2 .1 0 .1 0 .1 .1 .1 0 .1 0 0 .5 .1 0 .1 0 .1 0 .1 .1 .1 0 0 3.5 .1 0 .1 0 .1 0 .1 .1 .1 0 0 .4 .1 0 .1 0 .1 0 .2 -2.3 .5 -3.1 .5 2.5 .5 1.8 .5 -2.6 .5 -.1 .5 5.7 .5 -1.7 .5 .7 .5 .4 .5 -4.7 .5 3.8 .5 1.8 .5 -1.2 .5 -4.5 .5 -.9 .5 1.9 .5 3.5 .5 -1.8 .5 1.2 .5 -3.8 .5 5.3 .5 -3.9 .5 4.7 .5 -2.8 .5 -7.4 .5 7.1 .5 -1.7 .5 .1 .5 1.8 .5 3.1 .5 -.5 .5 1.4 .5 -3.4 .5 -4.7 .5 3.4 .5 -.9 .5 .6 .5 8.5 .5 -4.7 .5 -4.4 .5 5.5 .5 -3.7 .5 -2.6 .5 6.4 .5 -4.1 .5 1.5 .5 5.5 .5 -8.3 .5 5.2 .5 -3.3 .5 -2 .5 2.2 .5 1.1 .5 0 .5 -4.2 .5 5.9 .5 -4.2 .5 3 .5 -.2 .5 -1.9 .5 2.9 .5 -3.3 .5 -.5 .5 -1.1 .5 -1.1 .5 2.9 .5 -3.7 .5 4.6 .5 -.4 .5 5.5 .5 -7 .5 5.8 .5 -1.9 .5 -.2 .5 -2.2 .5 -.5 .5 1.3 .5 .7 .5 1.6 .5 -2.7 .5 5.2 .5 .3 .5 -10.3 .5 6.5 .5 -.6 .5 -2.1 .5 -4.3 .5 2.5 .5 3.9 .5 2.2 .5 -.6 .5 .2 .5 -1.8 .5 3.1 .5 -1.3 .5 1.7 .5 -3.2 .5 -1.2 .5 -2.2 .5 7.7 .5 -5.3 .5 -1.1 .5 -2.7 .5 6.8 .5 -4.9 .5 3.7 .5 .6 .5 2.8 .5 -5.3 .5 -3 .5 7 .5 -1.5 .5 -2.2 .5 1.5 .5 4.9 .5 -4.6 .5 -1.7 .5 1.4 .5 1.7 .5 -.5 .5 0 .5 0 .5 -3.8 .5 4.5 .5 1.1 .5 -.9 .5 -1.8 .5 0 .5 .7 .5 -.3 .5 -4.3 .5 3.9 .5 3.5 .5 -4 .5 -.5 .5 2.9 .5 -1.3 .5 -1.9 .5 2.2 .5 3.9 .5 .3 .5 -4.2 .5 -.7 .5 3.4 .5 -1.8 .5 .2 .5 -1.5 .5 -3.1 .5 -.3 .5 3.4 .5 -2.5 .5 4.8 .5 .3 .5 1.4 .5 -3.4 .5 4.7 .5 -1.7 .5 -2.2 .5 1 .5 -3.3 .5 -6.5 .5 10.6 .5 -1.4 .5 3 .5 -3 .5 -1.6 .5 -.8 .5 -.3 .5 2 .5 -5 .5 1.8 .5 4.9 .5 -7.2 .5 1.2 .5 2.4 .5 .5 .5 1.2 .5 2 .5 -1.4 .5 .8 .5 -2.9 .5 1.5 .5 -1.8 .5 1.5 .5 1.7 .5 -.1 .5 -6 .5 1.9 .5 7.8 .5 -10.1 .5 5.4 .5 -3.1 .5 2.4 .5 -.9 .5 1.6 .5 -2.9 .5 5.4 .5 2.9 .5 -11.6 .5 4 .5 -1.7 .5 4.2 .5 3.2 .5 0 .5 -.2 .5 -2.7 .5 -1.9 .5 4.2 .5 -4.4 .5 -.4 .5 2.2 .5 -3.3 .5 2.7 .5 -1.9 .5 2.6 .5 2.2 .5 -3.8 .5 2.6 .5 1.2 .5 -4.3 .5 1.8 .5 -.7 .5 5.4 .5 -5.8 .5 1.6 .5 -3.8 .5 1.2 .5 3.9 .5 -2.2 .5 2.6 .5 -1.7 .5 6.4 .5 -7.2 .5 3 .5 -4.1 .5 .7 .5 -2.7 .5 10.4 .5 -11.8 .5 5.5 .5 -1.4 .5 3.2 .5 -3.4 .5 6.2 .5 -1.9 .5 -1.5 .5 -.1 .5 1.5 .5 -1.6 .5 3 .5 -1.8 .5 -2.3 .5 1.3 .5 -.6 .5 2.5 .5 -3.6 .5 .9 .5 -3.4 .5 4.9 .5 -1.1 .5 -2.3 .5 6 .5 -4.2 .5 -2.9 .5 5.7 .5 -3.3 .5 -7.3 .5 8.7 .5 -.9 .5 .2 .5 -.7 .5 -1.5 .5 2.3 .5 -4.5 .5 3.8 .5 2.6 .5 .4 .5 -3.8 .5 6.2 .5 -4.1 .5 -1.9 .5 1.6 .5 -2.2 .5 3.9 .5 -4.5 .5 .6 .5 -1.1 .5 .9 .5 1.3 .5 5.4 .5 -4 .5 2.3 .5 -2.8 .5 2.2 .5 -4.9 .5 -.2 .5 7.5 .5 -3.7 .5 -4.9 .5 5.5 .5 -2.1 .5 -.1 .5 2.7 .5 -5.1 .5 6.2 .5 -2.5 .5 -1.8 .5 -2.2 .5 7.8 .5 -5.3 .5 -2.5 .5 3 .5 1.6 .5 .4 .5 2.2 .5 -2.3 .5 -1.6 .5 5.8 .5 -.5 .5 -7.9 .5 5.3 .5 -3.9 .5 5.2 .5 -6.1 .5 3.1 .5 3.3 .5 -3.1 .5 1.9 .5 -4.5 .5 -1.4 .5 .2 .5 4.5 .5 -3.2 .5 5.4 .5 -4.6 .5 4.3 .5 -2.5 .5 -3.6 .5 2.9 .5 1.1 .5 0 .5 -1.5 .5 3.1 .5 -.4 .5 0 .5 -4.3 .5 -3.4 .5 6.8 .5 -3.5" stroke="#004aa6"/><path d="M225.3 999.9l.5 1.3 .5 4.6 .5 -2.4 .5 -5.7 .5 4.2 .5 -1.5 .5 2 .5 -4.4 .5 4.7 .5 .1 .5 3.4 .5 -3.1 .5 .6 .5 -5 .5 9.4 .5 -10.3 .5 7.6 .5 -3.5 .5 -1.3 .5 .6 .5 0 .5 2.7 .5 -1.1 .5 4 .5 -8.2 .5 4.6 .5 -2.1 .5 4.2 .5 -7.2 .5 4.5 .5 1.5 .5 -4.2 .5 6.3 .5 -2 .5 2.1 .5 0 .5 -4.8 .5 .5 .5 1.6 .5 2.4 .5 .3 .5 -3.8 .5 .3 .5 -.4 .5 .6 .5 .9 .5 .4 .5 5.5 .5 -6.3 .5 .6 .5 1.9 .5 -3.5 .5 1.6 .5 1 .5 2 .5 -5.2 .5 6.8 .5 -4.3 .5 1.4 .5 1.8 .5 -.4 .5 1 .5 -2.1 .5 -.4 .5 .9 .5 -3.3 .5 5.6 .5 -4.9 .5 -1.1 .5 8.3 .5 -5.4 .5 -2.5 .5 7.6 .5 -5.4 .5 3.6 .5 -4.7 .5 1.5 .5 -3.5 .5 -.5 .5 2.4 .5 2.3 .5 2.3 .5 4.1 .5 -8.6 .5 5.2 .5 -4 .5 1.2 .5 -3.3 .5 .1 .5 1.8 .5 -.9 .5 3 .5 -1.7 .5 5 .5 -2.7 .5 .1 .5 2.5 .5 -1.5 .5 -1.3 .5 -.1 .5 0 .5 3 .5 -.6 .5 -1 .5 1.1 .5 -3.3 .5 2.8 .5 -4.8 .5 7 .5 -3.1 .5 .3 .5 1.1 .5 -1.5 .5 -.5 .5 3.7 .5 -2.7 .5 -2.5 .5 3.5 .5 -5.3 .5 8.4 .5 -4.5 .5 .6 .5 5.6 .5 -.2 .5 -5 .5 1.4 .5 1.2 .5 1.5 .5 -4.4 .5 .7 .5 2.8 .5 -2.4 .5 1.3 .5 -.3 .5 -4.3 .5 .8 .5 -4.4 .5 6 .5 4.1 .5 -6.1 .5 5.9 .5 -.5 .5 -2.6 .5 .2 .5 .3 .5 -2.3 .5 1.5 .5 .7 .5 1.7 .5 .5 .5 -3.8 .5 4 .5 -3.9 .5 1.5 .5 1.5 .5 -1 .5 -.2 .5 1.1 .5 -2 .5 -.2 .5 1.2 .5 3 .5 -2.6 .5 5.1 .5 -4.2 .5 -7.9 .5 6.4 .5 5.3 .5 -4.1 .5 -1 .5 -1 .5 5.5 .5 -.7 .5 -.8 .5 -.5 .5 2.6 .5 -1.5 .5 -5.1 .5 5.1 .5 -1.5 .5 -.6 .5 2.2 .5 -1.7 .5 -7.4 .5 11.3 .5 -1.2 .5 -2.9 .5 -.5 .5 1.5 .5 -3.7 .5 4.1 .5 -1.3 .5 -.3 .5 -1.3 .5 .6 .5 4.6 .5 .6 .5 -2 .5 -1.3 .5 -2.1 .5 4.1 .5 2.3 .5 -8 .5 7 .5 -8.3 .5 4.7 .5 1.8 .5 -4.3 .5 -.3 .5 4.3 .5 1.8 .5 -3.3 .5 4.6 .5 -5.2 .5 6.4 .5 -4.1 .5 .4 .5 1 .5 -.7 .5 3.9 .5 1 .5 -4.1 .5 -1.8 .5 -2.4 .5 1.1 .5 2 .5 -.3 .5 .3 .5 .1 .5 1.3 .5 -4.5 .5 .8 .5 5.5 .5 -.7 .5 -3.4 .5 4.7 .5 -4.9 .5 1.1 .5 -3.8 .5 6.7 .5 -2.1 .5 2.8 .5 -.9 .5 -1.4 .5 .2 .5 2.7 .5 -3.4 .5 .1 .5 .6 .5 1.9 .5 .4 .5 2.5 .5 -4.9 .5 3.5 .5 -4.8 .5 3.2 .5 -1.1 .5 4.1 .5 -2.7 .5 -2.6 .5 2.6 .5 -.5 .5 -1.6 .5 .1 .5 -1.6 .5 9.4 .5 -6.5 .5 2.1 .5 -5.3 .5 .3 .5 2.4 .5 .1 .5 2.4 .5 -4.5 .5 4 .5 2.5 .5 -6.1 .5 4.7 .5 -4.7 .5 3.4 .5 .1 .5 3.5 .5 -6.1 .5 2.3 .5 2.2 .5 -5.5 .5 3 .5 -2.1 .5 .5 .5 3.5 .5 .1 .5 4.7 .5 -2.9 .5 -.2 .5 -3.5 .5 -.3 .5 1.1 .5 -5.9 .5 9.8 .5 -5.7 .5 -.9 .5 1.5 .5 3.4 .5 1 .5 -4 .5 2.1 .5 -1.2 .5 -2.3 .5 3 .5 -.3 .5 -3.9 .5 6.7 .5 -6.7 .5 4.6 .5 -3.2 .5 .7 .5 .3 .5 3.6 .5 -4.9 .5 2.8 .5 4.4 .5 -5.6 .5 1.7 .5 1.8 .5 -3 .5 2.7 .5 -2.8 .5 3.4 .5 -1.5 .5 -2.5 .5 6 .5 -3.7 .5 -.4 .5 -1.6 .5 1.2 .5 1 .5 .7 .5 2.4 .5 -6 .5 2.5 .5 3.9 .5 -2.5 .5 .6 .5 3 .5 -3 .5 .3 .5 -1.2 .5 4.6 .5 -1.7 .5 -4.4 .5 3.2 .5 -4.2 .5 5.7 .5 -1 .5 -2 .5 -.6 .5 -3.4 .5 6.4 .5 -2.1 .5 -.5 .5 2.7 .5 -3.4 .5 .2 .5 -.2 .5 -1.6 .5 9.5 .5 -6.5 .5 -.3 .5 3.1 .5 -10 .5 7.8 .5 .2 .5 -2.4 .5 3.6 .5 -6.2 .5 5.1 .5 2.3 .5 -7.8 .5 2 .5 3.2 .5 .4 .5 -1.5 .5 2.5 .5 -.3 .5 -3.9 .5 3.1 .5 -2.9 .5 -2 .5 -.8 .5 8.7 .5 -2.9 .5 5.3 .5 -8.5 .5 2.8 .5 1.8 .5 -1.2 .5 1.7 .5 -.8 .5 -1.9 .5 -4.2 .5 3.5 .5 6.7 .5 -2.3 .5 1.6 .5 -4.9 .5 1.1 .5 -1.7 .5 3.3 .5 -.8 .5 1 .5 3.4 .5 -6.5 .5 4 .5 -5.3 .5 6.3 .5 -3.8 .5 1 .5 .6 .5 3.8 .5 -4.1 .5 -1.2 .5 -1.6 .5 3.7 .5 -2.8 .5 .9 .5 1.3 .5 1.8 .5 -3.5 .5 3.6 .5 2.8 .5 -8.2 .5 7.2 .5 2.1 .5 -6.9 .5 3.1 .5 -4.9 .5 4.3 .5 -1.6 .5 1.6 .5 -3 .5 .3 .5 1 .5 -.6 .5 .2 .5 1.1 .5 -2.2 .5 2.4 .5 1.7 .5 -7 .5 6.3 .5 -2.3 .5 -.9 .5 -.5 .5 1.3 .5 .3 .5 2.7 .5 -3.9 .5 5.8 .5 -4.6 .5 3.8 .5 1 .5 -5.7 .5 5.8 .5 2.9 .5 -6.5 .5 2.6 .5 -1.7 .5 .6 .5 -.6 .5 -.7 .5 3.1 .5 .5 .5 -2.2 .5 3.9 .5 -1 .5 -.9 .5 -3.5 .5 6.6 .5 -1.4 .5 -8.7 .5 2.7 .5 1.6 .5 3.6 .5 .8 .5 -3.8 .5 1.4 .5 1.2 .5 -4.9 .5 4.7 .5 -2.2 .5 1.3 .5 -.5 .5 -2.8 .5 .5 .5 2.6 .5 .3 .5 -.9 .5 3.3 .5 -3.5 .5 -2.1 .5 2.2 .5 .5 .5 .1 .5 3.3 .5 -1.6 .5 1.4 .5 -1 .5 -1.9 .5 3 .5 -3.2 .5 1.3 .5 -3.1 .5 2.8 .5 -1 .5 1.8 .5 3.7 .5 1.4 .5 -3.3 .5 -2.6 .5 2.2 .5 -1.5 .5 -2.1 .5 1.5 .5 -.5 .5 -.8 .5 5 .5 -4.8 .5 .2 .5 3 .5 -3.5 .5 -1.1 .5 .8 .5 3.4 .5 -.2 .5 -.2 .5 -1.8 .5 -1.1 .5 4.6 .5 -5.9 .5 3.1 .5 -2.7 .5 2.3 .5 .7 .5 3.5 .5 -10.2 .5 10.6 .5 -5.6 .5 3 .5 1.3 .5 -3.8 .5 1.7 .5 1.5 .5 -1.5 .5 -1.5 .5 2.3 .5 -.1 .5 -4 .5 7.2 .5 -2.8 .5 -6.6 .5 4 .5 6.4 .5 -.3 .5 -3.2 .5 -4.9 .5 3.7 .5 3.3 .5 -1.7 .5 -1.8 .5 -.9 .5 3.9 .5 -2.5 .5 1.3 .5 .1 .5 .4 .5 2.9 .5 -3.6 .5 .2 .5 -5 .5 7.2 .5 -.5 .5 -2.2 .5 -5.6 .5 4.3 .5 1.6 .5 5.1 .5 -3.7 .5 .5 .5 .1 .5 1.3 .5 -6.1 .5 .7 .5 -.8 .5 2.3 .5 -.2 .5 1.2 .5 -2.8 .5 2.8 .5 -2.3 .5 7.5 .5 -6.6 .5 7.7 .5 -2.2 .5 -7.1 .5 5.4 .5 -.8 .5 -5.4 .5 5.4 .5 -1.7 .5 1.1 .5 -3 .5 2 .5 1.3 .5 -1.5 .5 -1 .5 1.1 .5 -2 .5 3.3 .5 -7.2 .5 10.2 .5 -3.6 .5 1.1 .5 .9 .5 -5.2 .5 8.9 .5 -8.5 .5 4 .5 -.4 .5 2.5 .5 -3.3 .5 -3.4 .5 4.3 .5 -7 .5 5.8 .5 -.7 .5 5.1 .5 -4.6 .5 -.4 .5 -.7 .5 -.3 .5 .8 .5 2.9 .5 -4.8 .5 2.8 .5 -3.1 .5 3.3 .5 .8 .5 -3.5 .5 1.7 .5 1.7 .5 1.7 .5 .5 .5 -2.6 .5 -2.3 .5 -1.5 .5 6 .5 1.6 .5 -2.6 .5 3.1 .5 -5.1 .5 .2 .5 4.9 .5 -6.4 .5 4 .5 -.5 .5 -.6 .5 4 .5 -6.5 .5 1.1 .5 -4.1 .5 2.6 .5 1.4 .5 .3 .5 .5 .5 1.3 .5 -2.5 .5 -3.3 .5 5.4 .5 .7 .5 -4 .5 1 .5 6.4 .5 -1.8 .5 .2 .5 -1.1 .5 -1.3 .5 -1.6 .5 2.7 .5 -1.9 .5 -.6 .5 1.1 .5 -.2 .5 2.5 .5 -4.7 .5 8.7 .5 -8.8 .5 1.5 .5 3.4 .5 -4.5 .5 1 .5 1.2 .5 -7.5 .5 6.2 .5 -1.1 .5 1.8 .5 1.9 .5 .3 .5 2.2 .5 -.1 .5 -1.1 .5 -2.7 .5 2.8 .5 -5.2 .5 2.3 .5 3.9 .5 -1.7 .5 -5.5 .5 2 .5 3.8 .5 -.7 .5 1.2 .5 -7.2 .5 1.2 .5 2.6 .5 -1.8 .5 2.4 .5 .1 .5 .8 .5 -1.2 .5 1.8 .5 .5 .5 -1.6 .5 -3.5 .5 6.4 .5 -2.7 .5 .5 .5 -.7 .5 -4.5 .5 5.5 .5 -3.1 .5 -1.4 .5 6.3 .5 -4 .5 1.5 .5 1.5 .5 1.8 .5 -8.7 .5 2.7 .5 3.6 .5 -3.5 .5 -6.5 .5 8.6 .5 .2 .5 1.4 .5 -1.5 .5 -1.7 .5 1.7 .5 -.7 .5 -1.2 .5 1.9 .5 .2 .5 -3.5 .5 5.2 .5 -.5 .5 -.2 .5 -8.9 .5 7.2 .5 -.7 .5 -2.2 .5 4 .5 -5.3 .5 6.9 .5 -2.2 .5 -2.3 .5 4.9 .5 -2.5 .5 -.4 .5 -4.2 .5 4.6 .5 2.2 .5 -.8 .5 -6.1 .5 6.8 .5 .5 .5 -2 .5 -3.2 .5 -2.8 .5 1.4 .5 .8 .5 2.1 .5 .7 .5 -3.4 .5 -2.3 .5 3.1 .5 -2.4 .5 6.7 .5 -6.6 .5 4.3 .5 .8 .5 -4.6 .5 4.9 .5 -2.9 .5 -1.8 .5 -.4 .5 2.6 .5 2.4 .5 -7.7 .5 6.4 .5 -2.1 .5 -1.6 .5 1.6 .5 .2 .5 -.2 .5 2.1 .5 -4.4 .5 7.2 .5 -2.8 .5 -3.9 .5 -3.5 .5 4.8 .5 -1.1 .5 2.9 .5 -.2 .5 3 .5 -5.3 .5 2.2 .5 -3.2 .5 .1 .5 4.7 .5 -4.3 .5 -.1 .5 -.7 .5 1.6 .5 .6 .5 -2 .5 -2.7 .5 3.6 .5 -3.1 .5 1.1 .5 1.3 .5 -.1 .5 -6.7 .5 10.2 .5 -2.5 .5 2.7 .5 1.4 .5 -9.1 .5 .8 .5 1.8 .5 1.6 .5 -3.9 .5 .3 .5 3.3 .5 -5.3 .5 2.6 .5 2.1 .5 -3.8 .5 2.5 .5 -2.6 .5 -4.1 .5 2.4 .5 .6 .5 -.7 .5 .6 .5 .6 .5 -.6 .5 -.7 .5 -1.9 .5 .1 .5 -.8 .5 -1 .5 4.7 .5 -9.1 .5 5.2 .5 -5.5 .5 2.2 .5 3.1 .5 -3.4 .5 3.8 .5 -6.9 .5 1 .5 -1.6 .5 1 .5 -1.7 .5 -1.1 .5 .4 .5 1.7 .5 -3.6 .5 -1.3 .5 -2.2 .5 -2.4 .5 -3.3 .5 -.4 .5 1.4 .5 -7 .5 5.3 .5 -4.9 .5 -3.6 .5 -1.2 .5 .9 .5 -3.5 .5 -3.2 .5 1.1 .5 -1.8 .5 -14.6 .5 2 .5 -9.8 .5 -7.4 .5 -3.6 .1 3.8 .1 -1.3 .1 -1.4 .1 -1.5 .1 -1.4 0 -.4 .1 -5.3 .1 -1.5 .1 -1.6 .1 -1.6 .1 -1.7 0 -.5 .1 -1.7 .1 -1.8 .1 -1.8 .1 -1.9 .1 -1.9 0 -.5 .1 4.7 .1 -2 .1 -2.1 .1 -2.1 .1 -2.2 0 -.6 .1 -4.6 .1 -2.4 .1 -2.4 .1 -2.5 .1 -2.5 0 -.7 .1 -4 .1 -2.7 .1 -2.8 .1 -3 .1 -3 0 -.8 .1 4.4 .1 -3.2 .1 -3.3 .1 -3.4 .1 -3.5 0 -1 .1 -7.4 .1 -3.9 .1 -3.9 .1 -4.1 .1 -4.3 0 -1.1 .1 -7.8 .1 -4.6 .1 -4.8 .1 -4.9 .1 -5.2 0 -1.4 .1 -5.4 .1 -5.6 .1 -5.8 .1 -6.1 .1 -6.3 0 -1.7 .1 -2.2 .1 -6.9 .1 -7.2 .1 -7.4 .1 -7.9 0 -2.1 .1 -3.7 .1 -8.5 .1 -9 .1 -9.5 .1 -9.8 0 -2.7 .1 -4.6 .1 -10.9 .1 -11.5 .1 -12.1 .1 -12.7 0 -3.4 .1 -10.4 .1 -14.2 .1 -15 .1 -15.9 .1 -16.8 0 -4.5 .1 -16.2 .1 -18.9 .1 -20.1 .1 -21.4 .1 -22.8 0 -6.1 .1 -23.4 .1 -25.9 .1 -27.8 .1 -29.8 .1 -32 0 -8.7 .1 -17.2 .1 -37.1 .1 -40 .1 -43.2 .1 -46.9 0 -12.8 .1 -41.5 .1 -55.4 .1 -60.4 .1 -31.1 .1 0 .1 0 .1 0 .1 0 .1 0 .1 0 .1 0 .1 0 .1 0 .1 0 .1 0 .1 0 .1 0 .1 0 .1 0 .1 0 .1 0 .1 0 .1 0 .1 0 .1 0 .1 0 .1 0 .1 0 .1 0 .1 0 .1 0 .1 0 .1 0 .1 0 .1 0 .1 0 .1 0 .1 0 .1 0 .1 0 .1 0 .1 0 .1 0 .1 0 .1 0 .1 0 .1 0 .1 0 .1 0 .1 0 .1 0 .1 0 .1 0 .1 0 .1 0 .1 0 .1 0 .1 0 .1 0 .1 0 .1 0 .1 0 .1 0 .1 0 .1 0 .1 0 .1 0 .1 0 .1 32.3 .1 60.5 0 14.8 .1 43 .1 50.9 .1 46.9 .1 43.2 .1 40 0 9.8 .1 25.2 .1 34.4 .1 31.9 .1 29.8 .1 27.8 0 6.9 .1 12.1 .1 24.3 .1 22.7 .1 21.4 .1 20.1 0 5 .1 24.5 .1 17.8 .1 16.8 .1 15.9 .1 14.9 0 3.8 .1 -2.9 .1 13.4 .1 12.7 .1 12.1 .1 11.5 0 2.8 .1 14.8 .1 10.3 .1 9.9 .1 9.4 .1 9 0 2.2 .1 1.8 .1 8.2 .1 7.8 .1 7.5 .1 7.1 0 1.8 .1 7.6 .1 6.6 .1 6.3 .1 6.1 .1 5.8 0 1.4 .1 4.5 .1 5.3 .1 5.2 .1 4.9 .1 4.8 0 1.2 .1 6.5 .1 4.3 .1 4.3 .1 4.1 .1 3.9 0 1 .1 -3.6 .1 3.7 .1 3.6 .1 3.4 .1 3.4 0 .8 .1 7.6 .1 3.1 .1 3 .1 2.9 .1 2.8 0 .7 .1 5.7 .1 2.6 .1 2.6 .1 2.4 .1 2.4 0 .6 .1 -2.4 .1 2.3 .1 2.2 .1 2.1 .1 2.1 0 .5 .1 3 .1 1.9 .1 1.9 .1 1.9 .1 1.8 0 .4 .1 .9 .1 1.7 .1 1.7 .1 1.6 .1 1.5 0 .4 .1 -2.6 .1 1.5 .1 1.5 .1 1.4 .1 1.4 0 .3 .5 7.6 .5 6.9 .5 6.3 .5 9 .5 2.8 .5 -2.6 .5 3.4 .5 1.3 .5 -1.1 .5 12.8 .5 0 .5 -4.9 .5 7.4 .5 8.2 .5 -3.6 .5 1.5 .5 .5 .5 -1.4 .5 .1 .5 2 .5 3.7 .5 -.1 .5 3.4 .5 3.7 .5 -2.3 .5 1.3 .5 -2.5 .5 -1.9 .5 9.9 .5 -3.3 .5 1.7 .5 -3.6 .5 -3 .5 8.4 .5 -8.8 .5 5.7 .5 -.6 .5 2.3 .5 1.9 .5 .4 .5 -7.4 .5 8.4 .5 -7.3 .5 7 .5 -2.7 .5 -1.6 .5 1.8 .5 -1.8 .5 3.6 .5 2.7 .5 -.2 .5 -1.8 .5 2.9 .5 -1.4 .5 4.5 .5 -4.1 .5 -2.8 .5 .9 .5 -1.1 .5 1.4 .5 .5 .5 2.2 .5 .4 .5 -1.8 .5 1 .5 -2.9 .5 .6 .5 -.5 .5 .8 .5 8 .5 -10.1 .5 3.8 .5 -1 .5 -3.2 .5 4.9 .5 -.6 .5 -3.8 .5 -2.2 .5 6 .5 -3.5 .5 5.4 .5 -2.4 .5 2.2 .5 -2.1 .5 4.8 .5 -2.2 .5 2.2 .5 -3.6 .5 -2.9 .5 -.9 .5 2.3 .5 2.1 .5 -2.3 .5 8 .5 -6.5 .5 1.4 .5 -.9 .5 -3.5 .5 6 .5 -1 .5 .6 .5 -4.6 .5 2.5 .5 -.2 .5 3.2 .5 -6.6 .5 5.4 .5 1.5 .5 -4.3 .5 -1 .5 5.5 .5 -2.7 .5 2.3 .5 -1 .5 .9 .5 -3.3 .5 -4.9 .5 7 .5 -3.3 .5 3.4 .5 -3 .5 5.6 .5 -4.8 .5 2.8 .5 .7 .5 -3 .5 1 .5 -.9 .5 -2.3 .5 6.2 .5 -6.1 .5 -1.7 .5 2.7 .5 1.7 .5 -.2 .5 -1 .5 -.3 .5 -4.4 .5 7.2 .5 2.9 .5 -6.4 .5 -2.8 .5 6.6 .5 -2.3 .5 -9.9 .5 8.4 .5 -1.8 .5 .7 .5 8.2 .5 -2.6 .5 -2.9 .5 .4 .5 4.1 .5 -6.9 .5 4.8 .5 -3.6 .5 3.8 .5 -1.6 .5 -2.5 .5 4.8 .5 -1.4 .5 3.4 .5 -5.8 .5 1.4 .5 -2.2 .5 5 .5 -5.2 .5 2 .5 3.4 .5 -2 .5 -.6 .5 -.1 .5 .2 .5 .8 .5 -2.5 .5 -4.4 .5 8.7 .5 -6.3 .5 7.6 .5 -4.1 .5 7.6 .5 -5.2 .5 -2 .5 1.3 .5 -6.1 .5 4.1 .5 -1.4 .5 .9 .5 -5.4 .5 -.4 .5 7.6 .5 -1.8 .5 -1.3 .5 .9 .5 -1.5 .5 .4 .5 3 .5 -2.4 .5 2.4 .5 -3.7 .5 -3 .5 3 .5 1.3 .5 -2.6 .5 1.8 .5 -.3 .5 3.7 .5 -.3 .5 .6 .5 -5 .5 2.9 .5 2.4 .5 -3 .5 -.8 .5 -1.9 .5 4.2 .5 -1.9 .5 2.1 .5 -3.2 .5 5.8 .5 -5.7 .5 -3.4 .5 3.7 .5 .6 .5 2 .5 -4.9 .5 -.4 .5 .6 .5 -.6 .5 -4.8 .5 7.3 .5 1.2 .5 -5.7 .5 -.9 .5 2 .5 -2.1 .5 3.9 .5 -4.1 .5 2.9 .5 -5.4 .5 -1 .5 -.8 .5 -.2 .5 4.5 .5 .5 .5 -2.5 .5 -.5 .5 -7.4 .5 8.3 .5 -7.4 .5 6.1 .5 2.1 .5 -7.6 .5 .3 .5 -1.3 .5 -6.8 .5 -1.1 .5 -.4 .5 .5 .5 -.1 .5 -4.3 .5 .4 .5 -7.5 .5 -5.7 .3 -2.1 .1 -.7 .1 3.6 .1 -.7 .1 -.8 .1 -.7 .1 -.8 .1 -1.1 .1 -.8 .1 -.8 .1 -.9 .1 -.9 .1 -5 .1 -.9 .1 -1 .1 -.9 .1 -1 .1 6.5 .1 -1.1 .1 -1 .1 -1.1 .1 -1.1 .1 -7.3 .1 -1.2 .1 -1.2 .1 -1.2 .1 -1.3 .1 -.5 .1 -1.4 .1 -1.3 .1 -1.4 .1 -1.5 .1 1.6 .1 -1.5 .1 -1.6 .1 -1.5 .1 -1.7 .1 -5.9 .1 -1.7 .1 -1.8 .1 -1.8 .1 -1.9 .1 3.7 .1 -1.9 .1 -2.1 .1 -2 .1 -2.2 .1 -2.9 .1 -2.3 .1 -2.3 .1 -2.4 .1 -2.5 .1 -2.3 .1 -2.6 .1 -2.6 .1 -2.8 .1 -2.8 .1 -4.6 .1 -3 .1 -3.1 .1 -3.2 .1 -3.2 .1 -5.1 .1 -3.5 .1 -3.6 .1 -3.7 .1 -3.8 .1 -5 .1 -4 .1 -4.1 .1 -4.3 .1 -4.3 .1 -.4 .1 -4.6 .1 -4.7 .1 -4.8 .1 -5 .1 -.8 .1 -5.2 .1 -5.4 .1 -5.4 .1 -5.6 .1 -8.2 .1 -5.9 .1 -6 .1 -6.2 .1 -6.2 .1 -8.1 .1 -6.5 .1 -6.6 .1 -6.7 .1 -6.7 .1 -4.3 .1 -6.9 .1 -6.9 .1 -7 .1 -7.1 .1 -5.6 .1 -7 .1 -7 .1 -6.9 .1 -6.9 .1 -17.3 .1 -6.6 .1 -6.4 .1 -6.3 .1 -6 .1 -.8 .1 -5.5 .1 -5.2 .1 -4.8 .1 -4.5 .1 1.1 .1 -3.7 .1 -3.2 .1 -2.8 .1 -2.3 .1 -9.5 .1 -1.3 .1 -.7 .1 -.3 .1 .3 .1 1.5 .1 1.4 .1 1.8 .1 2.3 .1 2.8 .1 7.7 .1 3.8 .1 4.1 .1 4.5 .1 4.9 .1 1.8 .1 5.5 .1 5.8 .1 6 .1 6.3 .1 12.4 .1 6.6 .1 6.7 .1 6.9 .1 6.9 .1 .8 .1 7 .1 7.1 .1 7 .1 7.1 .1 10.7 .1 7 .1 6.8 .1 6.8 .1 6.7 .1 14.5 .1 6.6 .1 6.4 .1 6.3 .1 6.1 .1 .5 .1 5.9 .1 5.8 .1 5.6 .1 5.5 .1 -4.7 .1 5.3 .1 5.2 .1 5 .1 4.9 .1 6 .1 4.7 .1 4.5 .1 4.4 .1 4.3 .1 4.3 .1 4.1 .1 3.9 .1 3.8 .1 3.8 .1 7.1 .1 3.5 .1 3.4 .1 3.3 .1 3.2 .1 -1.7 .1 3.1 .1 3 .1 2.9 .1 2.8 .1 9.5 .1 2.7 .1 2.5 .1 2.5 .1 2.4 .1 6.3 .1 2.3 .1 2.2 .1 2.1 .1 2.1 .1 1.5 .1 2 .1 1.9 .1 1.9 .1 1.8 .1 -5.8 .1 1.8 .1 1.7 .1 1.6 .1 1.7 .1 3.1 .1 1.5 .1 1.5 .1 1.5 .1 1.4 .1 1.3 .1 1.4 .1 1.3 .1 1.3 .1 1.2 .1 -.4 .1 1.2 .1 1.2 .1 1.1 .1 1.2 .1 8.8 .1 1 .1 1 .1 1 .1 1 .1 -6.2 .1 .9 .1 .9 .1 .9 .1 .9 .1 -.4 .1 .9 .1 .8 .1 .8 .1 .8 .1 5.2 .1 .7 .1 .8 .3 2 .5 6.7 .5 3 .5 -2.3 .5 -3 .5 10.1 .5 2.4 .5 4.6 .5 -7.7 .5 2.7 .5 9.1 .5 1.5 .5 .3 .5 -2.4 .5 4.6 .5 -4 .5 -.9 .5 4.1 .5 1.3 .5 2.7 .5 1.5 .5 -7 .5 6.1 .5 1.2 .5 -4.1 .5 3.3 .5 1.3 .5 1.6 .5 -3 .5 1.2 .5 -.9 .5 4.2 .5 -1.4 .5 -.2 .5 3.6 .5 -1.8 .5 -2.4 .5 6.5 .5 -.1 .5 -1 .5 -3.7 .5 5.9 .5 -4.1 .5 -3.1 .5 4.8 .5 5.3 .5 -5.6 .5 2.9 .5 2.3 .5 -2.9 .5 -1 .5 1 .5 1.7 .5 -2.6 .5 2.4 .5 .7 .5 -2.2 .5 3 .5 -.2 .5 -2.1 .5 .5 .5 1 .5 -.5 .5 0 .5 -1.9 .5 3 .5 1.8 .5 -.1 .5 -3.6 .5 3.7 .5 .3 .5 -3.8 .5 3.8 .5 -1.6 .5 -.4 .5 1.7 .5 -1 .5 -5 .5 6.3 .5 -3.2 .5 2.7 .5 2.1 .5 -2.2 .5 -.4 .5 1.6 .5 1 .5 -3.3 .5 .7 .5 2.9 .5 2.9 .5 -3.9 .5 2.3 .5 -4 .5 2 .5 .3 .5 -3.3 .5 3.3 .5 -.4 .5 -5.8 .5 6.3 .5 1 .5 0 .5 .3 .5 -3.6 .5 1.1 .5 1.4 .5 -1.6 .5 1.1 .5 4.3 .5 -5.1 .5 1.4 .5 5.5 .5 -4.8 .5 -2.1 .5 3.3 .5 -.1 .5 0 .5 -4.4 .5 4.9 .5 .3 .5 4.3 .5 -3.3 .5 -2.7 .5 2 .5 .9 .5 -1.9 .5 .4 .5 3.6 .5 -2.1 .5 .1 .5 -3.6 .5 3.6 .5 -5.7 .5 7.8 .5 -4.1 .5 2.8 .5 2 .5 -6.1 .5 5.7 .5 -2.3 .5 2.4 .5 -3.7 .5 -.7 .5 5 .5 -2.1 .5 -.9 .5 -2.9 .5 6.2 .5 -4 .5 .3 .5 -1.1 .5 1.8 .5 1.6 .5 -1.6 .5 0 .5 -1.1 .5 5.1 .5 .4 .5 -4.7 .5 -1.4 .5 2.9 .5 -4.6 .5 4.6 .5 .2 .5 -.2 .5 3.5 .5 .7 .5 -3.4 .5 -1.9 .5 3.5 .5 .3 .5 -5.7 .5 1.2 .5 1.2 .5 -3.4 .5 1.4 .5 6.8 .5 -7.1 .5 5.3 .5 -4.1 .5 4.5 .5 -1.6 .5 1.5 .5 -5.6 .5 4.2 .5 -2.1 .5 3.4 .5 -.1 .5 -1.3 .5 -.7 .5 .3 .5 .7 .5 -1.8 .5 .2 .5 -.4 .5 -1 .5 5.2 .5 -5.8 .5 6.5 .5 -1.4 .5 -5.9 .5 -.3 .5 4.6 .5 -2.6 .5 3 .5 2 .5 -1.4 .5 -1.4 .5 .2 .5 4.1 .5 -4.5 .5 5.2 .5 .8 .5 -5.9 .5 1.7 .5 3.5 .5 -5.9 .5 2.9 .5 1.5 .5 -5.1 .5 3.5 .5 -.5 .5 -1.6 .5 5.2 .5 -4.1 .5 5.9 .5 -3.8 .5 -3.4 .5 2.4 .5 -2.5 .5 3.9 .5 -.3 .5 -4.6 .5 2 .5 2.2 .5 -1 .5 -2.5 .5 5.1 .5 .7 .5 -7 .5 7.3 .5 -8.6 .5 4.7 .5 -1.3 .5 .3 .5 1.8 .5 -3.2 .5 2.6 .5 4.4 .5 -3 .5 2.6 .5 -1.5 .5 -6.1 .5 8.4 .5 -2.3 .5 -.4 .5 -2.5 .5 -.4 .5 -1.3 .5 2.3 .5 .7 .5 -.7 .5 0 .5 -4.3 .5 2.9 .5 -.1 .5 2.7 .5 -1.8 .5 0 .5 1.4 .5 -1.4 .5 .5 .5 3.4 .5 -3.1 .5 -1.8 .5 3.7 .5 .5 .5 -.4 .5 -4.7 .5 5.5 .5 -2.1 .5 .2 .5 -.1 .5 .9 .5 .1 .5 2.4 .5 -2.9 .5 -.8 .5 1.8 .5 -1.8 .5 2.9 .5 -2.2 .5 1.4 .5 -3 .5 3.6 .5 -.8 .5 -3.6 .5 1.2 .5 1.1 .5 -3.4 .5 .6 .5 3.8 .5 .1 .5 2 .5 -6.3 .5 2.2 .5 -4 .5 9.1 .5 -7.4 .5 2.6 .5 5.3 .5 -1.2 .5 -5.5 .5 7.5 .5 -4.3 .5 -3.6 .5 3.1 .5 .9 .5 0 .5 -6.6 .5 9.6 .5 -8.4 .5 3.4 .5 4 .5 -2.5 .5 -1 .5 -1.4 .5 2.9 .5 1.9 .5 -4.6 .5 2.3 .5 -1.9 .5 -.1 .5 -4 .5 5.7 .5 1.6 .5 -2.6 .5 2.9 .5 -2.1 .5 2.6 .5 -2.6 .5 -1.2 .5 -.3 .5 1.4 .5 .5 .5 -2.6 .5 1.5 .5 -2.8 .5 0 .5 4.8 .5 -.7 .5 1.3 .5 -1.8 .5 .3 .5 3.8 .5 -6.4 .5 2.7 .5 3.1 .5 1.1 .5 -3.5 .5 -1.7 .5 -2.2 .5 2.1 .5 .8 .5 -.3 .5 1.1 .5 .2 .5 -2.5 .5 -1 .5 1.4 .5 1.8 .5 2.8 .5 -7.8 .5 6.5 .5 -3.3 .5 3.3 .5 1.9 .5 -3.3 .5 -3.9 .5 1.7 .5 1.9 .5 -1.7 .5 .6 .5 -1.7 .5 1.4 .5 -1 .5 3.6 .5 -1.4 .5 1.1 .5 -5.7 .5 2.8 .5 -.7 .5 .8 .5 -1.1 .5 .4 .5 5.5 .5 -4.4 .5 -2.4 .5 2.3 .5 6.1 .5 -3.7 .5 -3.9 .5 1.6 .5 .4 .5 .3 .5 -4.5 .5 2.1 .5 1.9 .5 -3.7 .5 3.6 .5 .7 .5 1.6 .5 .7 .5 -3 .5 1 .5 1.1 .5 .8 .5 -2.2 .5 -2 .5 3.2 .5 .6 .5 -1.7 .5 1 .5 2.5 .5 -5 .5 -.5 .5 -.9 .5 3.4 .5 1.4 .5 -3.4 .5 5.5 .5 -5.7 .5 2 .5 -.9 .5 3.6 .5 -4.8 .5 5.4 .5 -4.3 .5 -2.8 .5 1.8 .5 1 .5 4.4 .5 -5.2 .5 1.1 .5 5 .5 -4.6 .5 -1.9 .5 -.2 .5 -2 .5 4.6 .5 2 .5 -3.8 .5 -1.6 .5 3.1 .5 -.6 .5 -.4 .5 1.4 .5 -1 .5 -.9 .5 3.2 .5 -6.8 .5 1.7 .5 2 .5 -2.5 .5 6.8 .5 -8.9 .5 6.9 .5 -.3 .5 -.5 .5 .2 .5 -2.4 .5 -.4 .5 5.1 .5 -3.7 .5 -3.2 .5 .5 .5 -.7 .5 4.3 .5 2.1 .5 -3.5 .5 1.1 .5 -1.5 .5 3.3 .5 0 .5 .1 .5 2.1 .5 -7.2 .5 4.8 .5 -5.6 .5 5.5 .5 .2 .5 -.2 .5 .2 .5 -2.3 .5 -1.2 .5 3.4 .5 -3.3 .5 3.2 .5 -3.7 .5 2.8 .5 -.1 .5 -2.7 .5 1.2 .5 3 .5 -2.1 .5 1.1 .5 -2.5 .5 1.5 .5 -3.7 .5 1.6 .5 4.8 .5 -1.6 .5 -1.3 .5 .3 .5 -3.6 .5 4.2 .5 -3.9 .5 1.2 .5 3.4 .5 -3.5 .5 .6 .5 1 .5 .4 .5 2.9 .5 -7.2 .5 3.1 .5 2.3 .5 -2.6 .5 .3 .5 -1.1 .5 1.2 .5 2.3 .5 1.4 .5 -2.1 .5 2.4 .5 -3 .5 -4.2 .5 5.7 .5 -6.6 .5 4.7 .5 .1 .5 -2.7 .5 2.2 .5 -.8 .5 1.6 .5 -1 .5 2.1 .5 -2.3 .5 2.3 .5 -1.4 .5 .5 .5 -.3 .5 -1.4 .5 3.8 .5 -1.3 .5 -6.7 .5 2.5 .5 6.9 .5 -4.7 .5 7.3 .5 -5.6 .5 0 .5 -2.2 .5 .6 .5 .9 .5 1.8 .5 -2 .5 -.3 .5 -2.2 .5 1.2 .5 .1 .5 .6 .5 -1.4 .5 -.9 .5 1.9 .5 -5.1 .5 2.2 .5 1.6 .5 2.8 .5 -2.6 .5 -.9 .5 4.1 .5 -1.9 .5 3.5 .5 -3.7 .5 -1.2 .5 .8 .5 5 .5 -.6 .5 -3.2 .5 2 .5 -5.7 .5 6.2 .5 -2.1 .5 -1.1 .5 .3 .5 .5 .5 -1.6 .5 .1 .5 -2 .5 6.5 .5 -5.8 .5 1.7 .5 2.8 .5 .4 .5 .5 .5 -4.8 .5 .3 .5 .9 .5 -4.2 .5 6.4 .5 -5.9 .5 3.5 .5 2.4 .5 -.2 .5 -3 .5 3.2 .5 .3 .5 -6.5 .5 3.4 .5 2.1 .5 -.5 .5 -1.5 .5 .2 .5 5.7 .5 -6.3 .5 3.3 .5 -5.2 .5 4 .5 1.2 .5 -3.4 .5 -.5 .5 5.9 .5 -4.8 .5 2.9 .5 -5.8 .5 7.4 .5 -8.6 .5 2.5 .5 .8 .5 1.3 .5 .6 .5 3.3 .5 1.2 .5 -.5 .5 -2.5 .5 -1.4 .5 -5.4 .5 4.7 .5 -1.2 .5 2.9 .5 -3.9 .5 .5 .5 .2 .5 3.2 .5 -1.1 .5 -2.8 .5 -1.7 .5 2.8 .5 -.2 .5 .2 .5 1.5 .5 1.5 .5 .1 .5 -3.4 .5 -.2 .5 5.4 .5 -4.2 .5 2.3 .5 -1.3 .5 .5 .5 2.9 .5 -4.3 .5 3.1 .5 -1.3 .5 -1.6 .5 -.8 .5 -.1 .5 4 .5 -.4 .5 -4.4 .5 3 .5 -5.3 .5 4.5 .5 4.7 .5 -7.7 .5 3.5 .5 -2.1 .5 1.6 .5 -2.7 .5 3 .5 -6 .5 4.9 .5 -.2 .5 .6 .5 5 .5 -7.6 .5 1.1 .5 -1.6 .5 4.4 .5 -1.2 .5 -2.8 .5 5 .5 -1.6 .5 2.8 .5 -1.6 .5 -1.6 .5 -2.1 .5 -3.3 .5 3.7 .5 4.1 .5 -3.3 .5 -1.4 .5 2.6 .5 1.1 .5 4.9 .5 -9 .5 1.5 .5 -1.9 .5 1 .5 3.9 .5 -2.5 .5 -3.2 .5 6.7 .5 1 .5 -2.3 .5 -4.3 .5 -.2 .5 5.6 .5 -5.5 .5 1.1 .5 -2.2 .5 8.1 .5 -6.2 .5 1.2 .5 -1.4 .5 .1 .5 -1.2 .5 5.5 .5 -4.3 .5 5.1 .5 -6.6 .5 4.2 .5 1.2 .5 -5.1 .5 3.3 .5 -1.9 .5 -1.3 .5 1.6 .5 -3.5 .5 3.8 .5 -3 .5 5.3 .5 2 .5 -.3 .5 -5.1 .5 1.4 .5 5.1 .5 -1.7 .5 -1.5 .5 -6.7 .5 4.3 .5 6.2 .5 -4.3 .5 -2.2 .5 1.3 .5 5.6 .5 -2.7 .5 -6.2 .5 .3 .5 2.9 .5 3 .5 -5 .5 .5 .5 -4.9 .5 4.7 .5 3 .5 0 .5 -5.1 .5 5.5 .5 -4 .5 -1.5 .5 4.7 .5 -5.2 .5 2.8 .5 -1 .5 1.7 .5 .9 .5 -1.7 .5 -.9 .5 .7 .5 -4.6 .5 5.6 .5 5.4 .5 -4.2 .5 2 .5 -2.8 .5 0 .5 1.1 .5 .6 .5 -.1 .5 -3.6 .5 2.1 .5 -3.8 .5 6.3 .5 -2.7 .5 -.6 .5 -2.4 .5 4.2 .5 1.3 .5 -1.2 .5 1.5 .5 -4.6 .5 4.1 .5 -2.2 .5 -6.6 .5 7.2 .5 -3.1 .5 2.1 .5 -1.3 .5 -.5 .5 4.7 .5 -3.9 .5 1.8 .5 1.3 .5 -2.7 .5 -2.2 .5 3.3 .5 -.4 .5 -2 .5 2.5 .5 2.9 .5 -.8 .5 1.5 .5 -.4 .5 -3 .5 -.5 .5 -2.7 .5 5.6 .5 -4.3 .5 2.8 .5 2.7 .5 -3.9 .5 -4 .5 1.1 .5 1.7 .5 4.2 .5 -4.2 .5 .4 .5 -2.3 .5 3.5 .5 -.6 .5 1.7 .5 -4.4 .5 3.8 .5 -5 .5 1.8 .5 .2 .5 .9 .5 1.4 .5 -6.8 .5 5.6 .5 -.8 .5 -2.4 .5 2.5 .5 1.9 .5 -2.3 .5 -.1 .5 2.9 .5 -3.6 .5 4.4 .5 -1.6 .5 0 .5 .4 .5 1.6 .5 -4.9 .5 4.6 .5 -5.1 .5 3.1 .5 .6 .5 -1.2 .5 -3.2 .5 -.3 .5 .2 .5 2.6 .5 .5 .5 1 .5 -5.3 .5 4.6 .5 1.7 .5 -2.2 .5 -.5 .5 2 .5 1.9 .5 -.3 .5 .1 .5 -7.1 .5 6.7 .5 -4.4 .5 2.8 .5 -3.7 .5 2.4 .5 -2.4 .5 .6 .5 5.5 .5 -7.9 .5 5.4 .5 -2.4 .5 -3.1 .5 6 .5 -3.3 .5 -1.5 .5 2.1 .5 -2.9 .5 6.1 .5 -8.1 .5 2.4 .5 -3.9 .5 5.5 .5 1.4 .5 .1 .5 1.5 .5 -4.1 .5 -1.3 .5 3.4 .5 -4 .5 2.2 .5 -2.2 .5 -.8 .5 1.5 .5 2.8 .5 -.7 .5 -2.1 .5 -7.2 .5 6.4 .5 .8 .5 .2 .5 -3.5 .5 4.2 .5 -2 .5 -6 .5 6.5 .5 2 .5 -3.8 .5 -3.1 .5 6.4 .5 -2.4 .5 -7.7 .5 7 .5 -2.1 .5 -.7 .5 -5.8 .5 -.2 .5 4.3 .5 4 .5 -5.2 .5 -.8 .5 -2.4 .5 -.1 .5 3 .5 -5.5 .5 6.2 .5 -4.5 .5 -1.3 .5 -2.2 .5 -2.6 .5 .2 .5 -4.4 .5 2.9 .5 -6.7 .5 9.8 .5 -7.7 .5 -5.6 .5 3.1 .5 -2.2 .5 -3.9 .5 .1 .5 -5.3 .5 -.6 .5 -2.8 .5 -1 .5 -6.2 .5 -1 .1 -.7 .1 -.8 .1 -.7 .1 -.8 .1 -.7 0 -9.2 .1 -.8 .1 -.8 .1 -.9 .1 -.8 .1 -.9 0 11.6 .1 -.8 .1 -.9 .1 -.9 .1 -.9 .1 -.9 0 -2.7 .1 -.9 .1 -.9 .1 -1 .1 -1 .1 -1 0 1.1 .1 -1 .1 -1 .1 -1.1 .1 -1 .1 -1.1 0 -2.5 .1 -1.1 .1 -1.1 .1 -1.2 .1 -1.1 .1 -1.2 0 3.5 .1 -1.2 .1 -1.2 .1 -1.3 .1 -1.2 .1 -1.3 0 -2.9 .1 -1.3 .1 -1.4 .1 -1.3 .1 -1.4 .1 -1.4 0 .8 .1 -1.5 .1 -1.4 .1 -1.5 .1 -1.5 .1 -1.5 0 -.4 .1 -1.6 .1 -1.5 .1 -1.6 .1 -1.6 .1 -1.7 0 -2 .1 -1.7 .1 -1.7 .1 -1.7 .1 -1.8 .1 -1.8 0 -1.2 .1 -1.8 .1 -1.8 .1 -1.9 .1 -1.9 .1 -1.9 0 5 .1 -1.9 .1 -2 .1 -1.9 .1 -2 .1 -2 0 .3 .1 -2 .1 -2 .1 -2.1 .1 -2 .1 -2.1 0 -2.4 .1 -2.1 .1 -2.2 .1 -2.1 .1 -2.2 .1 -2.2 0 4.7 .1 -2.1 .1 -2.2 .1 -2.2 .1 -2.2 .1 -2.2 0 -4 .1 -2.2 .1 -2.2 .1 -2.2 .1 -2.2 .1 -2.2 0 1.3 .1 -2.1 .1 -2.2 .1 -2.1 .1 -2.2 .1 -2.1 0 2.3 .1 -2 .1 -2.1 .1 -2 .1 -1.9 .1 -2 0 -1.4 .1 -1.9 .1 -1.9 .1 -1.8 .1 -1.8 .1 -1.7 0 -3.4 .1 -1.7 .1 -1.6 .1 -1.5 .1 -1.5 .1 -1.4 0 -3.5 .1 -1.4 .1 -1.2 .1 -1.2 .1 -1.1 .1 -1 0 1.3 .1 -.9 .1 -.8 .1 -.7 .1 -.7 .1 -.5 0 -1.1 .1 -.5 .1 -.3 .1 -.3 .1 -.1 .1 -.1 0 7.3 .1 .1 .1 .1 .1 .3 .1 .3 .1 .5 0 -17.3 .1 .5 .1 .7 .1 .7 .1 .9 .1 .9 0 22 .1 1 .1 1 .1 1.2 .1 1.2 .1 1.3 0 -11.3 .1 1.4 .1 1.4 .1 1.6 .1 1.6 .1 1.6 0 7.7 .1 1.7 .1 1.7 .1 1.8 .1 1.9 .1 1.9 0 -3 .1 2 .1 1.9 .1 2.1 .1 2 .1 2.1 0 .9 .1 2.1 .1 2.1 .1 2.1 .1 2.2 .1 2.2 0 -6.9 .1 2.2 .1 2.2 .1 2.3 .1 2.2 .1 2.2 0 8.5 .1 2.2 .1 2.2 .1 2.2 .1 2.2 .1 2.1 0 -4 .1 2.2 .1 2.1 .1 2.2 .1 2.1 .1 2.1 0 2.6 .1 2.1 .1 2 .1 2.1 .1 2 .1 2 0 -5.4 .1 2 .1 2 .1 2 .1 1.9 .1 2 0 3.1 .1 1.9 .1 1.8 .1 1.9 .1 1.8 .1 1.8 0 -2.3 .1 1.8 .1 1.8 .1 1.7 .1 1.7 .1 1.7 0 3.3 .1 1.7 .1 1.6 .1 1.6 .1 1.6 .1 1.5 0 1.2 .1 1.5 .1 1.5 .1 1.5 .1 1.5 .1 1.4 0 -2.9 .1 1.4 .1 1.4 .1 1.3 .1 1.4 .1 1.3 0 2.1 .1 1.3 .1 1.2 .1 1.3 .1 1.2 .1 1.2 0 .2 .1 1.2 .1 1.2 .1 1.1 .1 1.2 .1 1.1 0 -1.8 .1 1.1 .1 1.1 .1 1 .1 1.1 .1 1 0 -.7 .1 1 .1 1 .1 1 .1 .9 .1 1 0 -5 .1 .9 .1 .9 .1 .9 .1 .9 .1 .9 0 8.9 .1 .8 .1 .9 .1 .8 .1 .8 .1 .7 0 -2.6 .1 .8 .1 .7 .1 .8 .1 .7 .1 -.5 .5 4.8 .5 1.1 .5 3.5 .5 5 .5 -3.2 .5 5.7 .5 3.7 .5 -3.1 .5 3.2 .5 8.1 .5 4.2 .5 -3.7 .5 2.4 .5 -2.9 .5 7.2 .5 -2.7 .5 1.5 .5 1.8 .5 -1.6 .5 .5 .5 2.6 .5 -1.9 .5 1.9 .5 -4.5 .5 4.8 .5 4.4 .5 2.3 .5 -.8 .5 -3.2 .5 2.9 .5 -2.2 .5 .1 .5 5.7 .5 -3.1 .5 .5 .5 1.7 .5 2.3 .5 -1.7 .5 -.6 .5 1.8 .5 -.8 .5 -.3 .5 -4.5 .5 3.6 .5 2.2 .5 -2 .5 7.5 .5 1.4 .5 -1.3 .5 -6.4 .5 3.8 .5 0 .5 0 .5 -4.7 .5 6.5 .5 2.1 .5 -2.1 .5 3.5 .5 -6 .5 2.7 .5 1.7 .5 -5.5 .5 2.2 .5 -1.5 .5 4.2 .5 -4.9 .5 3.7 .5 -2 .5 3.7 .5 -3.5 .5 1 .5 1.2 .5 -2.5 .5 .9 .5 .6 .5 -.6 .5 1.9 .5 -2.5 .5 2.2 .5 -.9 .5 -.8 .5 -1.1 .5 -1.9 .5 2.9 .5 3.2 .5 -2.2 .5 4.6 .5 -6.1 .5 1.5 .5 -3 .5 6.8 .5 -6.1 .5 4.5 .5 -.4 .5 5.8 .5 -3.1 .5 -1.3 .5 -1.6 .5 4.4 .5 -5.5 .5 -2.2 .5 5.3 .5 -2.3 .5 -1.5 .5 2.6 .5 .5 .5 -5.1 .5 6.3 .5 2.5 .5 -5.9 .5 -2.7 .5 4.4 .5 -.9 .5 2.3 .5 .3 .5 -2.5 .5 4.1 .5 -8.6 .5 3.1 .5 2.2 .5 .6 .5 -1.2 .5 1.4 .5 -4.4 .5 -2.5 .5 7.8 .5 1.3 .5 -3.3 .5 -2.8 .5 1.1 .5 3.3 .5 -1 .5 2.8 .5 .9 .5 -1.1 .5 -3.6 .5 3.2 .5 -1.3 .5 -.8 .5 0 .5 -.7 .5 -2.3 .5 3.4 .5 -2.8 .5 1.8 .5 2.1 .5 -.1 .5 -6.5 .5 2.9 .5 -1 .5 3.4 .5 -2.6 .5 4.2 .5 -3.5 .5 2.3 .5 -3.6 .5 .6 .5 1.2 .5 1.7 .5 -6.2 .5 5.3 .5 -3.8 .5 4.1 .5 -4.9 .5 3.3 .5 4.1 .5 .6 .5 -6.1 .5 6.7 .5 -5.3 .5 1.1 .5 1.2 .5 -1 .5 .6 .5 -.4 .5 1.7 .5 -1.7 .5 -1.6 .5 -1.4 .5 -.1 .5 2.3 .5 2 .5 -1 .5 -1.5 .5 1.8 .5 -2.5 .5 1.7 .5 .8 .5 -2.1 .5 4.3 .5 -.6 .5 -3.5 .5 2.3 .5 -1.1 .5 .4 .5 -.1 .5 2.5 .5 -2.4 .5 -.1 .5 1.6 .5 -.1 .5 2 .5 -6.2 .5 3.7 .5 -6.2 .5 4.6 .5 -3.2 .5 -.1 .5 2.9 .5 -2.3 .5 1.9 .5 -6 .5 10 .5 -9.9 .5 4.9 .5 5.8 .5 -7.5 .5 7.5 .5 -1.5 .5 -2.9 .5 -.7 .5 .2 .5 1.4 .5 1.7 .5 .8 .5 -8.4 .5 7.3 .5 -.6 .5 -4.6 .5 5.2 .5 .1 .5 0 .5 -2.5 .5 2.1 .5 1.1 .5 -4.6 .5 .3 .5 -.2 .5 4.4 .5 -2.9 .5 -1.9 .5 -.7 .5 -.6 .5 3.6 .5 1.5 .5 1.1 .5 -5.6 .5 0 .5 .1 .5 .2 .5 -1.7 .5 7.5 .5 -2.6 .5 -2.5 .5 -5 .5 9.6 .5 -1.5 .5 -1.6 .5 1.5 .5 -3.5 .5 3.3 .5 -3 .5 2.5 .5 -1.5 .5 -2.9 .5 .6 .5 5.2 .5 -.2 .5 -2.9 .5 -1.3 .5 .6 .5 2.1 .5 -4.4 .5 5.8 .5 -4.4 .5 -.8 .5 2.7 .5 4.8 .5 -6.5 .5 .8 .5 -2 .5 3.5 .5 .1 .5 -.8 .5 -.9 .5 1.9 .5 1 .5 -3.1 .5 .5 .5 -1 .5 .2 .5 4.3 .5 -5.4 .5 2.8 .5 2.2 .5 -3.9 .5 2.7 .5 .4 .5 -5.5 .5 6 .5 -4.9 .5 2.8 .5 -4.1 .5 -.3 .5 3.4 .5 4.6 .5 2.4 .5 .4 .5 -3.4 .5 -.4 .5 -1.1 .5 -.2 .5 -2.6 .5 -.2 .5 2.2 .5 .1 .5 -2.7 .5 -1.5 .5 1.2 .5 10.1 .5 -10.1 .5 5.4 .5 -.6 .5 -.4 .5 -4.2 .5 6.6 .5 -4.3 .5 -2.3 .5 -.3 .5 1.4 .5 5.6 .5 -8.5 .5 1.6 .5 1.7 .5 1.1 .5 -3.8 .5 .1 .5 1.1 .5 3 .5 -2.1 .5 -.1 .5 1 .5 -.2 .5 2.1 .5 -4.2 .5 1.8 .5 -1.6 .5 3.4 .5 .2 .5 -2.7 .5 3.6 .5 -3.4 .5 3.9 .5 -4.4 .5 -.2 .5 -2.6 .5 1.2 .5 1.5 .5 -4.3 .5 5.2 .5 2.2 .5 -.8 .5 -.9 .5 1.2 .5 -3.1 .5 .2 .5 3.3 .5 -2.5 .5 2.8 .5 -3.6 .5 2.9 .5 1.4 .5 -3.4 .5 4.5 .5 -.4 .5 -9.9 .5 12.6 .5 -10.6 .5 10.2 .5 -8.4 .5 -3.1 .5 1.9 .5 4.5 .5 -3.7 .5 1.1 .5 4.5 .5 -5.6 .5 3.8 .5 1.9 .5 -7.8 .5 1.7 .5 3.4 .5 -.5 .5 .7 .5 -5.7 .5 2.9 .5 3.1 .5 .5 .5 1.7 .5 -4.2 .5 -.9 .5 -.6 .5 .1 .5 -2.8 .5 9.4 .5 -5.4 .5 -.7 .5 .2 .5 3 .5 -1.2 .5 -2.2 .5 4.5 .5 -1.9 .5 -1.2 .5 .5 .5 3 .5 -1.3 .5 -2 .5 2.9 .5 -8.1 .5 7.3 .5 -4 .5 .6 .5 .9 .5 5.3 .5 -5.1 .5 .1 .5 1.8 .5 -6.5 .5 4.4 .5 2.3 .5 -4.2 .5 4 .5 -3.4 .5 -1.9 .5 6 .5 -2 .5 1.7 .5 -1.5 .5 -3.1 .5 5.3 .5 -1.5 .5 0 .5 -2.1 .5 -1.7 .5 6.3 .5 -1.6 .5 -1.5 .5 -1.9 .5 4.8 .5 -5.5 .5 .2 .5 7.3 .5 -3.8 .5 .8 .5 -.5 .5 3.5 .5 -4.3 .5 .2 .5 -3.4 .5 2.3 .5 -4 .5 2.9 .5 .9 .5 1.8 .5 1.6 .5 -5.1 .5 -1 .5 3.4 .5 -2.9 .5 6.4 .5 -1.1 .5 -5.6 .5 3 .5 2.6 .5 -5.5 .5 1.1 .5 1 .5 3.6 .5 -2.3 .5 -1.8 .5 1.4 .5 -.7 .5 .3 .5 .8 .5 -.6 .5 1 .5 -1.7 .5 -.7 .5 -.1 .5 -3.3 .5 2.8 .5 5.7 .5 -4.7 .5 1.4 .5 .9 .5 -3.4 .5 .3 .5 2.1 .5 -3.6 .5 4.5 .5 -.5 .5 -1.2 .5 0 .5 1.2 .5 -1.6 .5 -6.5 .5 7.5 .5 -3.7 .5 1.1 .5 .2 .5 0 .5 -3.2 .5 -.6 .5 4.5 .5 .3 .5 .9 .5 -4.3 .5 2.4 .5 2.8 .5 -3 .5 -.6 .5 6.6 .5 -9.4 .5 2.1 .5 -.8 .5 1.5 .5 9.2 .5 -10.7 .5 1.9 .5 -.7 .5 -.7 .5 4 .5 -3.3 .5 3.8 .5 .8 .5 -4.9 .5 4.8 .5 -6.7 .5 3.8 .5 1.7 .5 -5.3 .5 2.3 .5 1.3 .5 .2 .5 -.7 .5 4.1 .5 -5.6 .5 3.3 .5 2.2 .5 -7.1 .5 .4 .5 -1.7 .5 4.3 .5 1.6 .5 -8.2 .5 1.9 .5 .6 .5 7.1 .5 -6.8 .5 1.7 .5 -4.3 .5 5.2 .5 -5.2 .5 2.3 .5 -2.7 .5 2.1 .5 -.4 .5 .7 .5 -.3 .5 3.8 .5 -6.9 .5 5.1 .5 -3 .5 -1.7 .5 .9 .5 -.5 .5 1.1 .5 -.5 .5 -1 .5 -1.4 .5 -5.4 .5 5.9 .5 .1 .5 -2.5 .5 -.8 .5 -3.7 .5 2.3 .5 .8 .5 -6.6 .5 1.4 .5 -1 .5 3.8 .5 -5.6 .5 -4.7 .5 4.2 .5 2 .5 -5.3 .5 -2.1 .5 .4 .5 2.5 .5 -7 .5 -1.7 .5 .1 .5 -5.4 .5 -4.7 .5 3 .5 -3.9 .5 -.6 .5 -3.4 .5 -1.9 .5 -7.9 .5 .6 .3 -2.2 .1 -.7 .1 -.8 0 -3.7 .1 -.8 .1 -.8 .1 -.8 .1 -.8 .1 -.9 0 3.8 .1 -.8 .1 -.9 .1 -.8 .1 -.9 .1 -.9 0 -2.4 .1 -.9 .1 -.9 .1 -1 .1 -.9 .1 -1 0 6.5 .1 -.9 .1 -1 .1 -1 .1 -1 .1 -1 0 -8 .1 -1.1 .1 -1.1 .1 -1 .1 -1.1 .1 -1.2 0 -4.3 .1 -1.1 .1 -1.2 .1 -1.2 .1 -1.2 .1 -1.2 0 7.7 .1 -1.2 .1 -1.3 .1 -1.2 .1 -1.2 .1 -1.3 0 -1.9 .1 -1.3 .1 -1.3 .1 -1.3 .1 -1.4 .1 -1.3 0 -1.5 .1 -1.4 .1 -1.4 .1 -1.4 .1 -1.4 .1 -1.4 0 3.7 .1 -1.4 .1 -1.5 .1 -1.5 .1 -1.5 .1 -1.5 0 4.8 .1 -1.5 .1 -1.5 .1 -1.5 .1 -1.6 .1 -1.5 0 -6.2 .1 -1.6 .1 -1.6 .1 -1.6 .1 -1.6 .1 -1.7 0 -1.8 .1 -1.7 .1 -1.6 .1 -1.7 .1 -1.7 .1 -1.7 0 7.4 .1 -1.6 .1 -1.7 .1 -1.7 .1 -1.7 .1 -1.7 0 -1 .1 -1.7 .1 -1.7 .1 -1.7 .1 -1.7 .1 -1.7 0 -4 .1 -1.7 .1 -1.7 .1 -1.6 .1 -1.7 .1 -1.7 0 -2 .1 -1.7 .1 -1.6 .1 -1.6 .1 -1.7 .1 -1.5 0 4.6 .1 -1.6 .1 -1.5 .1 -1.5 .1 -1.5 .1 -1.5 0 -5.2 .1 -1.5 .1 -1.4 .1 -1.4 .1 -1.3 .1 -1.3 0 .2 .1 -1.2 .1 -1.2 .1 -1.2 .1 -1.1 .1 -1.1 0 -.8 .1 -1 .1 -1 .1 -.9 .1 -.9 .1 -.9 0 5.2 .1 -.8 .1 -.7 .1 -.6 .1 -.6 .1 -.6 0 3.7 .1 -.4 .1 -.4 .1 -.4 .1 -.3 .1 -.2 0 -5.6 .1 -.1 .1 -.1 .1 0 .1 0 .1 .1 0 6.6 .1 .1 .1 .3 .1 .3 .1 .3 .1 .4 0 -14.3 .1 .5 .1 .5 .1 .6 .1 .7 .1 .7 0 7.4 .1 .8 .1 .8 .1 .9 .1 1 .1 1 0 -6.4 .1 1 .1 1.1 .1 1.2 .1 1.2 .1 1.2 0 9.8 .1 1.2 .1 1.3 .1 1.4 .1 1.3 .1 1.5 0 1.4 .1 1.4 .1 1.5 .1 1.5 .1 1.5 .1 1.5 0 -11.3 .1 1.6 .1 1.6 .1 1.6 .1 1.7 .1 1.6 0 3.7 .1 1.7 .1 1.7 .1 1.6 .1 1.7 .1 1.7 0 3 .1 1.7 .1 1.7 .1 1.7 .1 1.7 .1 1.7 0 -5.5 .1 1.7 .1 1.8 .1 1.7 .1 1.7 .1 1.7 0 2.1 .1 1.7 .1 1.7 .1 1.7 .1 1.7 .1 1.7 0 -.5 .1 1.6 .1 1.7 .1 1.6 .1 1.7 .1 1.6 0 3.6 .1 1.6 .1 1.6 .1 1.6 .1 1.5 .1 1.6 0 -2.8 .1 1.5 .1 1.5 .1 1.5 .1 1.5 .1 1.5 0 -1.3 .1 1.4 .1 1.5 .1 1.4 .1 1.4 .1 1.4 0 1.1 .1 1.4 .1 1.4 .1 1.3 .1 1.3 .1 1.3 0 2.2 .1 1.3 .1 1.3 .1 1.3 .1 1.2 .1 1.2 0 .6 .1 1.2 .1 1.2 .1 1.2 .1 1.1 .1 1.2 0 -.9 .1 1.2 .1 1.1 .1 1.1 .1 1.1 .1 1 0 4.4 .1 1 .1 1.1 .1 1 .1 1 .1 1 0 -4.9 .1 1 .1 1 .1 .9 .1 1 .1 .9 0 1.4 .1 1 .1 .9 .1 .8 .1 .9 .1 .9 0 1.5 .1 .8 .1 .9 .1 .8 .1 .8 .1 .8 0 -2.8 .1 .8 .1 .8 .3 7.2 .5 1.9 .5 3.4 .5 -1.7 .5 5 .5 4.7 .5 3.9 .5 -2.4 .5 2.5 .5 -.2 .5 1.4 .5 9 .5 -1.4 .5 3.1 .5 2.9 .5 -1.6 .5 1.7 .5 -1.8 .5 2.3 .5 3.8 .5 3.6 .5 0 .5 -3.6 .5 .7 .5 4.7 .5 .2 .5 .9 .5 -.1 .5 3.3 .5 -1.9 .5 3.6 .5 -1.7 .5 -.8 .5 -2.4 .5 4.2 .5 1.9 .5 -1.4 .5 -2.5 .5 -1.9 .5 4.5 .5 5.5 .5 -6.9 .5 1.9 .5 2 .5 2.3 .5 -4.6 .5 2.9 .5 .9 .5 -3.5 .5 4.3 .5 -3.4 .5 3.2 .5 1.4 .5 -1.2 .5 -3.1 .5 5 .5 .3 .5 -1.3 .5 1.9 .5 -3.1 .5 -.7 .5 1.7 .5 1.8 .5 1.2 .5 -3.9 .5 2.4 .5 0 .5 -1.5 .5 -3.7 .5 .8 .5 6.7 .5 -6 .5 -.7 .5 1 .5 2.8 .5 4.1 .5 -2.2 .5 -2.1 .5 .5 .5 1.9 .5 -.9 .5 -4.5 .5 7.5 .5 -.7 .5 -4.9 .5 2 .5 1.7 .5 -.3 .5 -1.5 .5 1 .5 4.3 .5 -5.2 .5 3.2 .5 -1.8 .5 -3.6 .5 4.5 .5 -.7 .5 2 .5 1 .5 -1.4 .5 -1.8 .5 .5 .5 .7 .5 -4.2 .5 -.5 .5 4.3 .5 -4.8 .5 2 .5 5.1 .5 -2.3 .5 .7 .5 -3.3 .5 2.9 .5 -5.1 .5 -.1 .5 1.5 .5 -1.5 .5 4.9 .5 -3.9 .5 -2.7 .5 5 .5 -.6 .5 1 .5 -6.2 .5 .7 .5 -3.8 .5 6.4 .5 -1.4 .5 -1.5 .5 4.6 .5 -5.6 .5 .3 .5 -1.3 .5 -.7 .5 2.2 .5 -.8 .5 -.8 .5 -2.3 .5 -1 .5 1.4 .5 1 .5 -2.6 .5 .7 .5 -.3 .5 -2.1 .5 -2 .5 2.9 .5 3.9 .5 -3.5 .5 -2.2 .5 -2.2 .5 -.5 .5 3.7 .5 -6.6 .5 6.9 .5 -5.4 .5 -.2 .5 -2.7 .5 2.5 .5 -1.1 .5 -5.5 .5 5.7 .5 -5.6 .5 -5.7 .5 4 .5 -1.7 .4 -1.2 .1 -.6 .1 -.3 .1 -.3 .1 -.3 .1 -.3 .1 -.2 0 1.8 .1 -.3 .1 -.3 .1 -.3 .1 -.2 .1 -.3 0 .6 .1 -.3 .1 -.3 .1 -.3 .1 -.3 .1 -.3 0 -6.3 .1 -.4 .1 -.3 .1 -.3 .1 -.3 .1 -.3 0 2.7 .1 -.3 .1 -.3 .1 -.4 .1 -.3 .1 -.3 0 .2 .1 -.4 .1 -.3 .1 -.3 .1 -.3 .1 -.4 0 .6 .1 -.4 .1 -.3 .1 -.3 .1 -.4 .1 -.3 0 -5.2 .1 -.3 .1 -.3 .1 -.4 .1 -.3 .1 -.4 0 5.8 .1 -.3 .1 -.4 .1 -.3 .1 -.3 .1 -.4 0 -.5 .1 -.3 .1 -.4 .1 -.3 .1 -.3 .1 -.4 0 5.3 .1 -.3 .1 -.3 .1 -.4 .1 -.3 .1 -.3 0 -7.9 .1 -.4 .1 -.3 .1 -.3 .1 -.3 .1 -.4 0 1.1 .1 -.4 .1 -.3 .1 -.3 .1 -.3 .1 -.3 0 2.7 .1 -.3 .1 -.3 .1 -.3 .1 -.3 .1 -.3 0 -1.4 .1 -.3 .1 -.2 .1 -.3 .1 -.3 .1 -.3 0 2.6 .1 -.3 .1 -.3 .1 -.2 .1 -.3 .1 -.3 0 1 .1 -.2 .1 -.3 .1 -.2 .1 -.3 .1 -.2 0 -6.1 .1 -.3 .1 -.2 .1 -.2 .1 -.2 .1 -.3 0 3 .1 -.2 .1 -.2 .1 -.2 .1 -.2 .1 -.2 0 1.6 .1 -.2 .1 -.1 .1 -.2 .1 -.2 .1 -.1 0 -4.1 .1 -.2 .1 -.1 .1 -.1 .1 -.1 .1 -.2 0 8.8 .1 -.1 .1 -.1 .1 0 .1 -.1 .1 -.1 0 -5.7 .1 -.1 .1 0 .1 -.1 .1 0 .1 0 0 -.5 .1 0 .1 0 .1 0 .1 0 .1 0 0 -5 .1 0 .1 0 .1 .1 .1 0 .1 0 0 2.5 .1 .1 .1 0 .1 .1 .1 .1 .1 .1 0 -3.9 .1 .1 .1 .1 .1 .1 .1 .1 .1 .1 0 7.9 .1 .1 .1 .1 .1 .1 .1 .2 .1 .1 0 -4.3 .1 .2 .1 .1 .1 .2 .1 .2 .1 .2 0 2.5 .1 .2 .1 .2 .1 .2 .1 .2 .1 .2 0 .9 .1 .2 .1 .3 .1 .2 .1 .2 .1 .3 0 -.6 .1 .3 .1 .2 .1 .3 .1 .3 .1 .2 0 -1.8 .1 .3 .1 .3 .1 .3 .1 .2 .1 .3 0 3.4 .1 .3 .1 .3 .1 .3 .1 .2 .1 .3 0 -5.4 .1 .3 .1 .4 .1 .3 .1 .3 .1 .3 0 -2.2 .1 .3 .1 .3 .1 .4 .1 .3 .1 .3 0 1.2 .1 .3 .1 .3 .1 .3 .1 .4 .1 .3 0 6.4 .1 .3 .1 .3 .1 .4 .1 .3 .1 .3 0 1.9 .1 .3 .1 .4 .1 .3 .1 .3 .1 .4 0 -6 .1 .4 .1 .3 .1 .3 .1 .4 .1 .3 0 .4 .1 .3 .1 .3 .1 .4 .1 .3 .1 .3 0 2.7 .1 .3 .1 .4 .1 .3 .1 .3 .1 .3 0 -4.9 .1 .4 .1 .3 .1 .3 .1 .4 .1 .3 0 2.3 .1 .3 .1 .4 .1 .3 .1 .3 .1 .3 0 -2.6 .1 .3 .1 .3 .1 .3 .1 .3 .1 .4 0 4.1 .1 .3 .1 .3 .1 .3 .1 .3 .1 .3 0 -8.3 .1 .3 .1 .3 .1 .3 .1 .3 .1 .3 0 3.9 .1 .3 .1 .3 .1 .3 .2 -.1 .5 5.9 .5 2.9 .5 -.2 .5 6.9 .5 -4.3 .5 -1.5 .5 2.4 .5 4.1 .5 .4 .5 5.5 .5 -4.3 .5 -2.2 .5 .5 .5 5.8 .5 -8.7 .5 9.1 .5 1.8 .5 -2.7 .5 2.5 .5 3.4 .5 1 .5 .3 .5 -.5 .5 -2.5 .5 -2.2 .5 -1.9 .5 10.5 .5 -1.5 .5 -5.6 .5 6.6 .5 -3.6 .5 .1 .5 -1.4 .5 8.8 .5 -8.6 .5 1 .5 4.9 .5 .7 .5 -.6 .5 -3.7 .5 2.4 .5 -1.5 .5 1.2 .5 6.1 .5 -3.7 .5 1.6 .5 -4.2 .5 1.1 .5 2.8 .5 2.1 .5 -3.3 .5 4.3 .5 2.5 .5 -10.5 .5 4.7 .5 1.8 .5 -2.1 .5 4.9 .5 -3.8 .5 .7 .5 -4.8 .5 6.7 .5 -3.3 .5 2.1 .5 -1.7 .5 -1 .5 1.4 .5 -2.7 .5 2.7 .5 3.5 .5 -.3 .5 -4.8 .5 4.6 .5 -3 .5 -.6 .5 3.2 .5 .4 .5 -3.3 .5 4 .5 -2.3 .5 5.5 .5 -9.2 .5 3.3 .5 -.1 .5 -1.4 .5 -1.2 .5 6.6 .5 -2.4 .5 -4.1 .5 2.1 .5 .5 .5 1.8 .5 -3.3 .5 6.3 .5 -3.6 .5 3.6 .5 -2.2 .5 -2 .5 .2 .5 1.5 .5 -.6 .5 .3 .5 1.3 .5 1.2 .5 -5.6 .5 -1.5 .5 1.8 .5 5.4 .5 -3.5 .5 -1.1 .5 2.5 .5 1 .5 -4.7 .5 .4 .5 2.3 .5 -.1 .5 -1.6 .5 7.6 .5 -2.6 .5 -3.5 .5 2.1 .5 -4.7 .5 5.4 .5 -2.8 .5 -1.3 .5 -1.6 .5 5.5 .5 -1.9 .5 -1.6 .5 4 .5 -3.2 .5 1.3 .5 -1.8 .5 2.2 .5 -3.9 .5 1.9 .5 1.1 .5 -2.2 .5 .7 .5 3.2 .5 -3 .5 3.9 .5 -1.6 .5 -1 .5 -3.8 .5 7.5 .5 -.1 .5 -2.9 .5 -.4 .5 -.1 .5 -1.3 .5 .5 .5 1.6 .5 -4.8 .5 3.7 .5 1.1 .5 -5.4 .5 2.7 .5 -2.2 .5 .3 .5 4.9 .5 -4.3 .5 9.5 .5 -7.1 .5 -1.6 .5 1.4 .5 .6 .5 .8 .5 .1 .5 -.1 .5 2 .5 .3 .5 -2.8 .5 .7 .5 -2.8 .5 .4 .5 .5 .5 4.4 .5 -5.2 .5 2.3 .5 -.2 .5 1.7 .5 -3.5 .5 .5 .5 3.7 .5 -2 .5 -2 .5 4.3 .5 -2.7 .5 -1.5 .5 3.5 .5 2.2 .5 -5.5 .5 -1.4 .5 -3.4 .5 10.4 .5 -5.9 .5 .6 .5 -1.8 .5 2.1 .5 -2.2 .5 6.4 .5 -2 .5 -3.1 .5 -1.7 .5 4.5 .5 -3.6 .5 5.3 .5 -2.5 .5 -.8 .5 -2.9 .5 3.6 .5 -3.9 .5 6.2 .5 -7.8 .5 4 .5 6.8 .5 -7.2 .5 3.1 .5 .8 .5 -1.8 .5 -1.2 .5 2.9 .5 .1 .5 -4 .5 5.3 .5 -.7 .5 -5.7 .5 3.8 .5 .1 .5 -1 .5 -1.9 .5 -1.5 .5 4.2 .5 -5.2 .5 2.6 .5 -3.5 .5 3.1 .5 2.2 .5 -4 .5 5.5 .5 .4 .5 -1.3 .5 .6 .5 2 .5 -1.8 .5 -6.1 .5 3.9 .5 -1.8 .5 2.2 .5 -4.3 .5 4.3 .5 -.7 .5 1.9 .5 -3.7 .5 1.7 .5 -4.6 .5 4.8 .5 .3 .5 -3.2 .5 3.3 .5 -3.4 .5 4.5 .5 -3.2 .5 1 .5 5.1 .5 -2.7 .5 2.4 .5 -1.2 .5 -2.8 .5 4.1 .5 -3.2 .5 -.7 .5 -1 .5 -1.9 .5 4.3 .5 -1.9 .5 1.6 .5 -1.3 .5 1.8 .5 -3 .5 2.1 .5 1.9 .5 .7 .5 -3.2 .5 -2.3 .5 6 .5 -.6 .5 -4.7 .5 4.9 .5 -1.9 .5 -3.6 .5 2.6 .5 -3.3 .5 2.1 .5 -.1 .5 .8 .5 2.9 .5 -6.4 .5 -3.9 .5 9.2 .5 -2.4 .5 3 .5 -.2 .5 2 .5 -9 .5 8.7 .5 -3.9 .5 -1.1 .5 5 .5 -.8 .5 -6.4 .5 1.8 .5 5.1 .5 -7 .5 4.4 .5 .3 .5 -1.7 .5 -.8 .5 3.2 .5 -2.5 .5 -1.9 .5 4 .5 -5.3 .5 2.5 .5 2.3 .5 -4.6 .5 7.1 .5 -2.8 .5 -1 .5 -2.5 .5 3.1 .5 -1.4 .5 1.8 .5 -2.3 .5 2 .5 -4.4 .5 -.1 .5 1.8 .5 -3.1 .5 4.2 .5 .8 .5 -4.4 .5 3.7 .5 -1.2 .5 -.1 .5 4.8 .5 -4.1 .5 .8 .5 -1.4 .5 .2 .5 1 .5 .3 .5 -.6 .5 3.1" stroke="#004aa6"/><path d="M225.3 719.1l.5 -2.2 .5 .4 .5 -6.6 .5 14.1 .5 -2.1 .5 -4.8 .5 3.7 .5 -1.5 .5 -2.7 .5 5.1 .5 -4.2 .5 .1 .5 -1.5 .5 4.2 .5 -1.7 .5 2.2 .5 -3.8 .5 2.5 .5 -3.2 .5 5.8 .5 -2.1 .5 .5 .5 .4 .5 -4.6 .5 6 .5 4.2 .5 -12.1 .5 -.2 .5 .8 .5 7.8 .5 -2.2 .5 3.2 .5 -1.1 .5 -1.6 .5 .3 .5 -1.4 .5 3.5 .5 -6.5 .5 2.4 .5 2.2 .5 5.3 .5 -8.4 .5 -1 .5 1.8 .5 5.1 .5 -3.9 .5 5.3 .5 -10.5 .5 10 .5 -.3 .5 -8 .5 5.3 .5 3.6 .5 -3.7 .5 3.1 .5 4.6 .5 -6.8 .5 -1.8 .5 -1.5 .5 4.7 .5 -2.7 .5 .2 .5 .3 .5 2.6 .5 -5.6 .5 -1.5 .5 -2.9 .5 12.1 .5 -3.6 .5 4.8 .5 -5 .5 -2.3 .5 4.1 .5 -1.8 .5 -3.8 .5 1.3 .5 8.9 .5 -4.6 .5 .3 .5 -2.3 .5 -1.2 .5 5.3 .5 -3.3 .5 -2 .5 2.1 .5 -2.5 .5 3.7 .5 3.2 .5 -6.4 .5 7.6 .5 -6.9 .5 2.8 .5 -3.2 .5 2.1 .5 1 .5 -1.5 .5 -.9 .5 .2 .5 -.4 .5 -2.4 .5 4.4 .5 2.3 .5 1.7 .5 -.8 .5 6.1 .5 -7 .5 -2.5 .5 7.8 .5 -9.6 .5 6.8 .5 -6.3 .5 4.4 .5 -7.6 .5 9.5 .5 -3.4 .5 -2.6 .5 8.8 .5 -2.9 .5 -2.3 .5 -2.5 .5 2.4 .5 -.4 .5 3.1 .5 .3 .5 -4.8 .5 .5 .5 .1 .5 -2.6 .5 2.6 .5 1.7 .5 2.6 .5 2.2 .5 -7 .5 4.6 .5 -3.2 .5 8.4 .5 -6.9 .5 1.8 .5 -4.6 .5 .5 .5 3.4 .5 -1.9 .5 2.5 .5 -6.2 .5 7.4 .5 -5.1 .5 8.8 .5 -6.6 .5 4.6 .5 -8.1 .5 6.1 .5 -4.3 .5 1.4 .5 1.8 .5 -1.1 .5 2 .5 1.7 .5 -.3 .5 -2.3 .5 -4.2 .5 1.9 .5 2.1 .5 -6.3 .5 9.6 .5 -3.2 .5 0 .5 4.1 .5 -.9 .5 -1.4 .5 -3.9 .5 4.4 .5 .2 .5 -4 .5 6.4 .5 -1.7 .5 -8.1 .5 7 .5 -4.5 .5 8 .5 -1 .5 -6.3 .5 .8 .5 3.4 .5 -1.1 .5 5.9 .5 -2.5 .5 -3.3 .5 2.9 .5 -8.6 .5 7.9 .5 1.9 .5 -3.4 .5 -1.7 .5 4.3 .5 4.7 .5 -5.8 .5 -4.3 .5 8.6 .5 -10.9 .5 7.9 .5 -3.5 .5 5.1 .5 -5.8 .5 7.2 .5 -3.3 .5 -6.6 .5 -.8 .5 5.6 .5 5.4 .5 -3.8 .5 -.1 .5 -1 .5 3.3 .5 -1.1 .5 -.3 .5 -4.1 .5 7.3 .5 .6 .5 -8.7 .5 12 .5 -5.2 .5 -3.9 .5 -4.6 .5 8.5 .5 -.2 .5 -3.8 .5 -3.9 .5 9.7 .5 -5.6 .5 .5 .5 11 .5 -2.3 .5 -3.8 .5 -4.6 .5 3.8 .5 -9.7 .5 8 .5 -2.8 .5 -1.7 .5 -.9 .5 7.1 .5 -1.4 .5 .3 .5 2.3 .5 -5.5 .5 -1.2 .5 -1.7 .5 4.8 .5 3.7 .5 -3 .5 2.7 .5 -5.9 .5 2.4 .5 -.9 .5 -1.6 .5 10.4 .5 -3.3 .5 -5.2 .5 0 .5 2.4 .5 -4.5 .5 6.3 .5 -5.7 .5 3.1 .5 -2.1 .5 1.9 .5 -2.7 .5 -.8 .5 2.1 .5 1 .5 1.4 .5 1.2 .5 4.9 .5 -2.3 .5 -3.4 .5 3.3 .5 -4.7 .5 7.2 .5 -2.9 .5 -6.3 .5 7.1 .5 .3 .5 -11.6 .5 6.5 .5 1 .5 -4.8 .5 2.9 .5 .5 .5 4.9 .5 -.6 .5 7.7 .5 -9.9 .5 5.2 .5 -3.5 .5 .7 .5 -4.7 .5 -2.4 .5 3.8 .5 5.2 .5 2.7 .5 -3.1 .5 -.3 .5 -4.4 .5 7.9 .5 -.5 .5 -6.2 .5 1.7 .5 -3.1 .5 8.2 .5 -3.4 .5 -1.6 .5 1.7 .5 .2 .5 -2.8 .5 -2.7 .5 -.1 .5 -1.4 .5 7.3 .5 5.9 .5 -12.9 .5 6.2 .5 .9 .5 -4.5 .5 4 .5 -4.3 .5 7.7 .5 -5.9 .5 2.4 .5 1.9 .5 -3.6 .5 -4.4 .5 4.2 .5 4.3 .5 -2.7 .5 1.1 .5 -4.3 .5 4.1 .5 2 .5 -2.2 .5 6.2 .5 -6.9 .5 -2.7 .5 -1.8 .5 9.2 .5 -4 .5 3.6 .5 -1.7 .5 3.9 .5 -1.2 .5 -5.3 .5 2.2 .5 2.7 .5 -7.6 .5 8.9 .5 -.7 .5 -.7 .5 -3.9 .5 1.8 .5 -4.7 .5 4 .5 -2.1 .5 2.3 .5 -1.9 .5 2.6 .5 3 .5 -8.1 .5 7.4 .5 -9.6 .5 -.5 .5 6.8 .5 .5 .5 1.5 .5 -6.9 .5 5.3 .5 .7 .5 3.8 .5 -4.5 .5 2.2 .5 -4.9 .5 2.6 .5 -.8 .5 3.9 .5 -5.6 .5 .6 .5 4.7 .5 4.1 .5 -4.6 .5 -.2 .5 -2.1 .5 4.8 .5 -1.8 .5 4 .5 -4.6 .5 -4.2 .5 1.3 .5 -1.3 .5 -.8 .5 8.3 .5 -1.4 .5 -6.7 .5 10 .5 -5 .5 -4 .5 4.5 .5 -1.4 .5 -2.3 .5 -3.8 .5 6.6 .5 .9 .5 -9.5 .5 10.4 .5 .3 .5 -3.6 .5 2 .5 -1.3 .5 -1.8 .5 1.7 .5 5.7 .5 -9.2 .5 5.6 .5 -.1 .5 -3 .5 1 .5 -3.2 .5 1.9 .5 2.9 .5 1.1 .5 -4 .5 13.1 .5 -11.9 .5 2.3 .5 -1.1 .5 -.6 .5 5.7 .5 -5.8 .5 6 .5 -.6 .5 -7.2 .5 6.9 .5 -5.5 .5 11.3 .5 -10.3 .5 -1.8 .5 -3.2 .5 2.1 .5 2.4 .5 -1.4 .5 -.7 .5 1.8 .5 1.7 .5 5.5 .5 -10.4 .5 3.8 .5 -1.3 .5 -1.8 .5 .9 .5 1.2 .5 5.4 .5 -2.9 .5 -1.2 .5 3.9 .5 -1.1 .5 -1.6 .5 2 .5 -3.9 .5 4.8 .5 -.5 .5 -2.9 .5 -2.6 .5 9.1 .5 -4.7 .5 9.9 .5 -12.3 .5 5 .5 -4.2 .5 2.3 .5 2 .5 -5.4 .5 2.3 .5 .9 .5 -.1 .5 1.6 .5 1.5 .5 -.6 .5 -1.9 .5 -2 .5 -2.5 .5 1.3 .5 .7 .5 4.1 .5 -3.5 .5 -2.9 .5 6.3 .5 -4.7 .5 .1 .5 1.8 .5 2.4 .5 -9.6 .5 4.3 .5 4.4 .5 -1.8 .5 -1.6 .5 1.1 .5 6.4 .5 -6.1 .5 3.9 .5 .3 .5 -4.1 .5 3 .5 -3 .5 -.5 .5 -1.7 .5 6.7 .5 -4.2 .5 -.5 .5 -1.9 .5 9.8 .5 -3.5 .5 -2.9 .5 -1.9 .5 -2.7 .5 6 .5 .1 .5 -5.7 .5 8.6 .5 -1.3 .5 -5.7 .5 1.4 .5 .4 .5 2 .5 -1 .5 -5 .5 10.4 .5 -3.9 .5 3.2 .5 0 .5 -4.8 .5 1.8 .5 1.3 .5 .1 .5 -3 .5 -1.5 .5 2.1 .5 -2.7 .5 .8 .5 -4.9 .5 7.1 .5 -3.7 .5 1.6 .5 1.6 .5 1.3 .5 5.2 .5 -5.6 .5 -5.3 .5 5.1 .5 -2.4 .5 3.3 .5 -3.6 .5 -.1 .5 .7 .5 -.4 .5 -3.9 .5 3.8 .5 2.2 .5 4 .5 -4.9 .5 -.3 .5 3.2 .5 -.2 .5 3.6 .5 -3.4 .5 -2 .5 4.5 .5 0 .5 .6 .5 -6.6 .5 2.1 .5 -6.1 .5 4.4 .5 -1.8 .5 2.3 .5 -.9 .5 1 .5 .2 .5 2 .5 -.9 .5 -2.6 .5 -2.4 .5 8.4 .5 .6 .5 -6.3 .5 3.4 .5 -6.9 .5 -.2 .5 4.3 .5 5.8 .5 -8.4 .5 .7 .5 8.1 .5 -11.6 .5 8.4 .5 -.5 .5 -2.3 .5 1.3 .5 8.1 .5 -12.5 .5 2.7 .5 .2 .5 -1.5 .5 -2.2 .5 9.8 .5 -4.6 .5 -6.6 .5 3.5 .5 3.7 .5 -.1 .5 -6.1 .5 4.5 .5 1.1 .5 .4 .5 0 .5 -7.4 .5 12.2 .5 -5.4 .5 5.3 .5 3.5 .5 -10.1 .5 -3.6 .5 6.9 .5 -3.5 .5 -.9 .5 -1.9 .5 9 .5 -7.1 .5 -3.2 .5 3.1 .5 -2.4 .5 4.4 .5 -2 .5 -2.1 .5 5.5 .5 -4.2 .5 4.5 .5 1.8 .5 -5.4 .5 -1 .5 2.8 .5 2.3 .5 -3.1 .5 .5 .5 -.6 .5 1.1 .5 1 .5 -4.5 .5 .8 .5 1.7 .5 -2.4 .5 2.6 .5 1.3 .5 -1.9 .5 -2 .5 -.6 .5 8.4 .5 -2.9 .5 -6.7 .5 .9 .5 9 .5 -1.3 .5 -4.6 .5 3.4 .5 -8.9 .5 4.9 .5 2.4 .5 -8.7 .5 3.6 .5 5.1 .5 1.2 .5 -5.8 .5 2.9 .5 4.3 .5 -6.7 .5 -3.2 .5 4.2 .5 -1.2 .5 5.6 .5 -3.8 .5 -3.3 .5 10.7 .5 -9.8 .5 3.2 .5 .6 .5 .3 .5 -2.1 .5 1.4 .5 -2.3 .5 -4.6 .5 4 .5 0 .5 0 .5 1 .5 -2.6 .5 6.4 .5 .8 .5 -12.7 .5 7.4 .5 -2.5 .5 -6.4 .5 10 .5 -3.5 .5 .7 .5 -1 .5 5.8 .5 .4 .5 -3.3 .5 1.4 .5 -2.8 .5 .8 .5 -3.1 .5 2.5 .5 -2.5 .5 3.5 .5 1.5 .5 -1.8 .5 2.8 .5 5 .5 -16.2 .5 7 .5 -2 .5 .3 .5 -3.1 .5 4.6 .5 -1.1 .5 -1.4 .5 1.2 .5 -1.2 .5 -6 .5 11.4 .5 -4.7 .5 -2.3 .5 4.1 .5 -3.3 .5 -5.2 .5 10.2 .5 -8.8 .5 4.8 .5 1.1 .5 4 .5 -.6 .5 -3.6 .5 -3.2 .5 1 .5 5 .5 2.2 .5 -4.3 .5 -4.1 .5 5.5 .5 -4.9 .5 -.2 .5 .3 .5 2.8 .5 -1.2 .5 2.3 .5 .9 .5 -2.8 .5 -9.7 .5 2 .5 6.1 .5 -.9 .5 7.4 .5 -7.5 .5 -.6 .5 3.6 .5 .2 .5 -4.5 .5 2.2 .5 -5.6 .5 .5 .5 7.2 .5 -9.1 .5 7.7 .5 -1 .5 .2 .5 .3 .5 -1.4 .5 -9.4 .5 3.7 .5 1.2 .5 5 .5 -7.2 .5 1.3 .5 .9 .5 5.6 .5 -9.6 .5 0 .5 6.6 .5 -9.6 .5 8.1 .5 -2.9 .5 -4 .5 3.7 .5 -2.2 .5 3.7 .5 .5 .5 3.6 .5 -5.4 .5 .1 .5 -2.6 .5 1.6 .5 3.5 .5 -10.6 .5 8.7 .5 -4.5 .5 1.9 .5 .5 .5 1.5 .5 -2.4 .5 -2.5 .5 2.1 .5 -1.4 .5 -1.1 .5 1.1 .5 2 .5 -3 .5 -.3 .5 -5.4 .5 3.7 .5 -6.5 .5 8.6 .5 -6.2 .5 7.4 .5 5.5 .5 -12.4 .5 5.6 .5 -3.7 .5 -3.9 .5 -1.5 .5 4.5 .5 2.4 .5 -4.3 .5 -7.1 .5 1 .5 2.3 .5 5.1 .5 -4.5 .5 -.5 .5 2.5 .5 -5.8 .5 -.3 .5 -1 .5 -6.6 .5 7.3 .5 -1 .5 1.2 .5 -8.7 .5 .4 .5 5.5 .5 -3.2 .5 2.8 .5 -9.2 .5 2.8 .5 -4.4 .5 2.5 .5 -4.2 .5 2.6 .5 .7 .5 -2.9 .5 -10.8 .5 8.9 .5 -3.5 .5 -7.3 .5 -1.1 .5 1.6 .5 .3 .5 -5.9 .5 -6.7 .5 5.3 .5 -2.8 .5 6.6 .5 -17.3 .5 12.5 .5 -5.9 .5 -8.8 .5 2.4 .5 -9.7 .5 .1 .5 -10.9 .5 -.6 .5 -9 .5 -7 .5 .7 .5 -6.9 .5 -.1 .5 -2.9 .5 -12.8 .5 -5.9 .5 -6.8 .5 -16.8 .5 .5 .5 -10.6 .5 -10.5 .5 -16.4 .5 -16.6 .5 -4.5 .5 -11.5 .5 -10.4 .5 -18.6 .3 -9.4 .1 -3.9 .1 -4 0 -.2 .1 -9.6 .1 -4.2 .1 -4.2 .1 -4.3 .1 -4.5 0 -.2 .1 -.1 .1 -4.6 .1 -4.7 .1 -4.8 .1 -4.9 0 -.3 .1 -11.9 .1 -5.1 .1 -5.2 .1 -5.3 .1 -5.5 0 -.2 .1 -.9 .1 -5.7 .1 -5.8 .1 -5.9 .1 -6.1 0 -.3 .1 -4.2 .1 -6.4 .1 -6.4 .1 -6.6 .1 -6.8 0 -.3 .1 2.7 .1 -7.1 .1 -7.2 .1 -7.3 .1 -7.6 0 -.4 .1 -20.2 .1 -7.9 .1 -8.1 .1 -8.2 .1 -8.5 0 -.4 .1 -16.2 .1 -8.9 .1 -9 .1 -9.3 .1 -9.4 0 -.5 .1 4.8 .1 -9.9 .1 -10.1 .1 -10.4 .1 -10.6 0 -.6 .1 -21.7 .1 -11.1 .1 -11.4 .1 -11.6 .1 -11.9 0 -.6 .1 -7.7 .1 -12.4 .1 -12.7 .1 -13.1 .1 -13.2 0 -.7 .1 -14.2 .1 -13.9 .1 -14.2 .1 -14.5 .1 -14.8 0 -.8 .1 -6.9 .1 0 .1 0 .1 0 .1 0 .1 0 .1 0 .1 0 .1 0 .1 0 .1 0 .1 0 .1 0 .1 0 .1 0 .1 0 .1 0 .1 0 .1 0 .1 0 .1 0 .1 0 .1 0 .1 0 .1 0 .1 0 .1 0 .1 0 .1 0 .1 0 .1 0 .1 0 .1 0 .1 0 .1 0 .1 0 .1 0 .1 0 .1 0 .1 0 .1 0 .1 0 .1 0 .1 0 .1 0 .1 0 .1 0 .1 0 .1 0 .1 0 .1 0 .1 0 .1 0 .1 0 .1 0 .1 0 .1 0 .1 0 .1 0 .1 0 .1 0 .1 0 .1 0 .1 0 .1 0 .1 0 .1 0 .1 0 .1 0 .1 0 .1 0 .1 0 .1 0 .1 0 .1 0 .1 0 .1 0 .1 0 .1 0 .1 0 .1 0 .1 0 .1 0 .1 0 .1 0 .1 0 .1 0 .1 0 .1 0 .1 0 .1 0 .1 0 .1 0 .1 0 .1 0 .1 0 .1 0 .1 0 .1 0 .1 0 .1 0 .1 0 .1 0 .1 0 .1 0 .1 0 .1 0 .1 0 .1 0 .1 0 .1 0 .1 0 .1 0 .1 0 .1 0 .1 0 .1 9.7 .1 14.5 .1 14.2 .1 13.9 0 .7 .1 26.6 .1 13.3 .1 12.9 .1 12.7 .1 12.4 0 .6 .1 10.5 .1 11.8 .1 11.6 .1 11.3 .1 11.1 0 .6 .1 11.8 .1 10.6 .1 10.3 .1 10.1 .1 9.9 0 .5 .1 14.1 .1 9.5 .1 9.2 .1 9 .1 8.8 0 .4 .1 -4.8 .1 8.5 .1 8.2 .1 8 .1 7.9 0 .4 .1 18.8 .1 7.5 .1 7.4 .1 7.2 .1 7 0 .3 .1 -8 .1 6.7 .1 6.6 .1 6.4 .1 6.3 0 .3 .1 14.8 .1 6 .1 5.9 .1 5.8 .1 5.6 0 .3 .1 7 .1 5.4 .1 5.3 .1 5.2 .1 5 0 .3 .1 14.7 .1 4.9 .1 4.7 .1 4.7 .1 4.6 0 .2 .1 -11.5 .1 4.4 .1 4.2 .1 4.3 .1 4.1 0 .2 .1 -1.4 .1 3.9 .3 11.6 .5 30.2 .5 8.8 .5 26.1 .5 1.6 .5 11.3 .5 21.6 .5 4.5 .5 13.7 .5 -2.9 .5 22.4 .5 -3 .5 13.2 .5 -1.9 .5 3.5 .5 11.2 .5 7 .5 10.8 .5 -.9 .5 5.7 .5 3.6 .5 13.9 .5 -12.9 .5 11.7 .5 -2.7 .5 4.5 .5 -.6 .5 9.4 .5 -7.2 .5 2 .5 6.6 .5 -1.7 .5 9.2 .5 2.6 .5 -4.7 .5 7.6 .5 -4 .5 3.8 .5 1.6 .5 8.5 .5 -5.8 .5 -2.3 .5 1.2 .5 9.1 .5 -9.7 .5 5.5 .5 1.3 .5 -6.7 .5 8.2 .5 6.3 .5 -2 .5 -3.4 .5 6.6 .5 .1 .5 6.2 .5 -9.4 .5 1.9 .5 2.2 .5 -.1 .5 1.4 .5 -.2 .5 -1.5 .5 -2.8 .5 4.2 .5 -2.5 .5 1.7 .5 2.3 .5 4.1 .5 1.7 .5 -6.4 .5 6.9 .5 -2.6 .5 -5.3 .5 -1.5 .5 10.7 .5 .8 .5 -2 .5 -4.4 .5 9.1 .5 -.5 .5 -4.2 .5 -.4 .5 -5.8 .5 9.7 .5 -8 .5 8.3 .5 .3 .5 -2 .5 5.4 .5 -6.4 .5 3.4 .5 .9 .5 -1.8 .5 -2.1 .5 5.9 .5 -2.6 .5 -2 .5 .2 .5 1.2 .5 7.6 .5 -7.4 .5 -1 .5 -2.8 .5 -.4 .5 -2.2 .5 7.5 .5 -.6 .5 -3.5 .5 -1.5 .5 4.1 .5 -.6 .5 -2.7 .5 5.8 .5 -.5 .5 -.6 .5 3 .5 -4.9 .5 7.1 .5 -8.1 .5 5.3 .5 .5 .5 -3 .5 2.2 .5 -5.6 .5 -.7 .5 4.6 .5 -1.8 .5 4.6 .5 -1.9 .5 2.1 .5 -1 .5 -.3 .5 -.3 .5 -1.6 .5 -.3 .5 8.7 .5 -13 .5 5.4 .5 4.2 .5 -2 .5 3.4 .5 -2.9 .5 -6.2 .5 3.2 .5 -3.6 .5 8.2 .5 1.6 .5 -6.5 .5 3.4 .5 -3.2 .5 -3.6 .5 3.5 .5 -3.9 .5 3.5 .5 2.6 .5 1.8 .5 2 .5 -5.6 .5 1.9 .5 .6 .5 .5 .5 -11.7 .5 7.1 .5 5.4 .5 -6.6 .5 4.6 .5 2 .5 -9.4 .5 5.8 .5 1.5 .5 -.9 .5 -5.3 .5 6.4 .5 -3.2 .5 4.7 .5 -1.4 .5 -3.4 .5 2.4 .5 -3.1 .5 -.1 .5 -3.1 .5 4.5 .5 3.6 .5 -2.5 .5 -.6 .5 -2.3 .5 .3 .5 4.3 .5 -7.9 .5 12.2 .5 -7.6 .5 7.7 .5 -3.7 .5 -5.7 .5 3.9 .5 -1.9 .5 .5 .5 1 .5 -4.9 .5 -.5 .5 .5 .5 -3.6 .5 3.6 .5 1.5 .5 -.2 .5 -.5 .5 -2.4 .5 3.9 .5 -10.4 .5 5.5 .5 -.1 .5 4 .5 -1.3 .5 .1 .5 -3.2 .5 2.8 .5 -7.4 .5 3.3 .5 -8.4 .5 13.2 .5 -1 .5 -8.5 .5 -1.6 .5 -5.2 .5 1.4 .5 5.2 .5 -1.8 .5 -5.6 .5 2.7 .5 -1.5 .5 3.2 .5 -.1 .5 -4.5 .5 .1 .5 -1.6 .5 -9.1 .5 7.2 .5 -2.3 .5 1.6 .5 -11.4 .5 8.3 .5 -7.2 .5 1.6 .5 1.7 .5 -12.5 .5 -1.6 .5 6.7 .5 -11 .5 -2 .5 3.4 .5 -6.4 .5 .7 .5 -5.4 .5 -5.1 .5 .2 .5 .8 .5 -14.4 .5 1.8 .5 -6.8 .5 -10.2 .5 -4.7 .5 -13.1 .5 -5.8 .5 -3.8 .5 -10.1 .4 -7.3 .1 4.5 .1 -1.9 .1 -2 .1 -2 .1 -2 .1 -14.6 .1 -2.1 .1 -2.2 .1 -2.2 .1 -2.2 .1 2.7 .1 -2.3 .1 -2.3 .1 -2.4 .1 -2.4 .1 -4.1 .1 -2.5 .1 -2.5 .1 -2.6 .1 -2.6 .1 -.2 .1 -2.6 .1 -2.8 .1 -2.7 .1 -2.8 .1 4 .1 -2.9 .1 -2.9 .1 -3 .1 -3 .1 -15.6 .1 -3.1 .1 -3.2 .1 -3.2 .1 -3.3 .1 7.6 .1 -3.4 .1 -3.4 .1 -3.5 .1 -3.5 .1 -11.2 .1 -3.6 .1 -3.7 .1 -3.7 .1 -3.8 .1 -2.4 .1 -3.9 .1 -4 .1 -4 .1 -4 .1 2.9 .1 -4.2 .1 -4.2 .1 -4.2 .1 -4.3 .1 -11.1 .1 -4.4 .1 -4.4 .1 -4.5 .1 -4.6 .1 .5 .1 -4.6 .1 -4.7 .1 -4.7 .1 -4.8 .1 -7.7 .1 -4.8 .1 -4.8 .1 -4.9 .1 -4.9 .1 -6.4 .1 -5 .1 -5 .1 -4.9 .1 -5 .1 -6 .1 -5 .1 -5 .1 -5 .1 -5 .1 -12.3 .1 -4.9 .1 -5 .1 -4.9 .1 -4.9 .1 .4 .1 -4.8 .1 -4.8 .1 -4.7 .1 -4.6 .1 .2 .1 -4.5 .1 -4.4 .1 -4.3 .1 -4.2 .1 -4 .1 -4 .1 -3.9 .1 -3.8 .1 -3.7 .1 -12.5 .1 -3.4 .1 -3.2 .1 -3.1 .1 -3 .1 10.4 .1 -2.6 .1 -2.5 .1 -2.2 .1 -2.1 .1 -4.2 .1 -1.7 .1 -1.5 .1 -1.3 .1 -1.1 .1 -10.8 .1 -.7 .1 -.5 .1 -.3 .1 -.1 .1 1.5 .1 .4 .1 .5 .1 .8 .1 .9 .1 9.4 .1 1.4 .1 1.5 .1 1.8 .1 1.9 .1 -9.8 .1 2.3 .1 2.5 .1 2.7 .1 2.8 .1 8.4 .1 3.2 .1 3.3 .1 3.4 .1 3.6 .1 7.4 .1 3.8 .1 4 .1 4.1 .1 4.2 .1 3.9 .1 4.4 .1 4.4 .1 4.6 .1 4.6 .1 5.1 .1 4.7 .1 4.8 .1 4.9 .1 4.9 .1 7.3 .1 5 .1 5 .1 5 .1 5 .1 -1.2 .1 5.1 .1 5 .1 5.1 .1 5.1 .1 6.7 .1 5 .1 5 .1 5 .1 5 .1 18.4 .1 4.9 .1 4.9 .1 4.9 .1 4.8 .1 -13.4 .1 4.7 .1 4.7 .1 4.7 .1 4.6 .1 9.7 .1 4.5 .1 4.5 .1 4.5 .1 4.4 .1 7.3 .1 4.3 .1 4.2 .1 4.2 .1 4.2 .1 .1 .1 4 .1 4 .1 3.9 .1 3.9 .1 13.7 .1 3.8 .1 3.8 .1 3.6 .1 3.7 .1 -2.5 .1 3.5 .1 3.5 .1 3.4 .1 3.4 .1 6.9 .1 3.3 .1 3.2 .1 3.2 .1 3.1 .1 -14.7 .1 3.1 .1 3.1 .1 3 .1 2.9 .1 22.6 .1 2.8 .1 2.7 .1 2.7 .1 2.7 .1 2.4 .1 2.6 .1 2.5 .1 2.5 .1 2.5 .1 -7.1 .1 2.5 .1 2.3 .1 2.4 .1 2.3 .1 12.4 .1 2.2 .1 2.1 .1 2.2 .1 2.1 .1 -3 .1 2.1 .1 2 .1 2 .2 7 .5 13.3 .5 .6 .5 2.8 .5 11.9 .5 1.2 .5 8.5 .5 6.1 .5 5.8 .5 13.1 .5 3.3 .5 -2.7 .5 12.6 .5 -7.6 .5 7.9 .5 5.5 .5 8.6 .5 1.2 .5 1.8 .5 6.1 .5 .2 .5 5 .5 -6 .5 -1.3 .5 7 .5 6.7 .5 -.3 .5 4.2 .5 1 .5 .9 .5 2.7 .5 -4.3 .5 8.2 .5 -6.5 .5 4.6 .5 -3.5 .5 8.2 .5 -6.3 .5 11.8 .5 -8.9 .5 6.8 .5 -.4 .5 -1.7 .5 8.5 .5 -5.1 .5 7.6 .5 -8.1 .5 1.6 .5 -3.5 .5 9.8 .5 2 .5 -1.7 .5 -.7 .5 -2 .5 12.2 .5 -5.1 .5 -8.5 .5 6 .5 -7.6 .5 15.3 .5 1.9 .5 -1.3 .5 -4.7 .5 -1.4 .5 -2.4 .5 7.3 .5 -4 .5 1.7 .5 -.5 .5 1.6 .5 4.6 .5 3.2 .5 -5 .5 0 .5 -3.6 .5 0 .5 1 .5 7.1 .5 -1.9 .5 2.9 .5 -1.6 .5 -2.5 .5 -2.5 .5 3.3 .5 -3.3 .5 12.1 .5 -5.7 .5 -1.9 .5 8.5 .5 -7.9 .5 3.5 .5 -2.2 .5 2.1 .5 -2.2 .5 3.2 .5 3.4 .5 -8.9 .5 -3 .5 12.5 .5 -3.8 .5 2.6 .5 -3.7 .5 6.5 .5 1.2 .5 -10 .5 6.5 .5 -4.2 .5 -3.2 .5 4.7 .5 3.2 .5 -6.4 .5 .5 .5 8.8 .5 -3.9 .5 1.5 .5 -5.1 .5 1.8 .5 2.9 .5 .4 .5 0 .5 5.1 .5 -4.6 .5 -5.7 .5 2.5 .5 2.9 .5 4.7 .5 -6.5 .5 1.2 .5 1.4 .5 -2.2 .5 -.2 .5 2.1 .5 4.4 .5 -1.6 .5 -2.5 .5 2.5 .5 -5.6 .5 8 .5 -.8 .5 -1.3 .5 -6.4 .5 12.6 .5 -16.7 .5 6.7 .5 .4 .5 5.6 .5 -7.3 .5 6 .5 -1.2 .5 -.3 .5 4 .5 2.1 .5 -3.4 .5 -2.1 .5 -6.7 .5 12.9 .5 -5.9 .5 -5.1 .5 6.9 .5 4.5 .5 -5.3 .5 -3.3 .5 11.7 .5 -5.4 .5 -.8 .5 2.4 .5 -10.7 .5 7.2 .5 -.2 .5 8.4 .5 -9.5 .5 .1 .5 -2.7 .5 2 .5 2.2 .5 1.7 .5 -1.4 .5 7.5 .5 -5 .5 .6 .5 2.6 .5 -2.4 .5 -3.8 .5 -3.4 .5 6.6 .5 -4 .5 7.4 .5 -7 .5 -4.8 .5 7.8 .5 3.5 .5 -4.2 .5 1.4 .5 0 .5 5.4 .5 -4.7 .5 -1.1 .5 -1.9 .5 -3.4 .5 10.4 .5 -.8 .5 -7 .5 5.4 .5 -.9 .5 -2.3 .5 .3 .5 3.6 .5 -6.5 .5 2.4 .5 1.5 .5 .4 .5 -.7 .5 1.6 .5 1.1 .5 -4.8 .5 3.4 .5 -2 .5 7 .5 -9.8 .5 4 .5 3.2 .5 -3.2 .5 -.1 .5 -.7 .5 3 .5 -4.9 .5 3.7 .5 0 .5 -4.6 .5 6 .5 -2.5 .5 2.7 .5 1.9 .5 -1.6 .5 -5.1 .5 5.1 .5 -6.4 .5 2.8 .5 8.3 .5 -5.5 .5 5.3 .5 -5.8 .5 .6 .5 -3.7 .5 7 .5 -3.8 .5 2.8 .5 -.5 .5 .3 .5 -.6 .5 -1.2 .5 .2 .5 -2.3 .5 -4.8 .5 8.9 .5 5.4 .5 -3.3 .5 4.3 .5 -6.2 .5 -4.8 .5 0 .5 5.8 .5 -1.3 .5 -1.6 .5 3.1 .5 -5.4 .5 4.7 .5 -2.6 .5 1.5 .5 3.5 .5 -4.4 .5 5.1 .5 -.1 .5 -7 .5 10.4 .5 -11.9 .5 3.8 .5 2.9 .5 -10.1 .5 11.1 .5 .4 .5 -4.1 .5 1.3 .5 -.2 .5 -1.4 .5 4.4 .5 -4.9 .5 1.2 .5 1.4 .5 1.6 .5 .9 .5 -8.6 .5 -1.9 .5 6.4 .5 .3 .5 -3.4 .5 4.7 .5 1.1 .5 -.8 .5 4.3 .5 -9 .5 3.5 .5 6.5 .5 -4.2 .5 -6 .5 4.4 .5 3.3 .5 3.1 .5 -4.8 .5 1.8 .5 -7.7 .5 2.9 .5 4.9 .5 -7.2 .5 3 .5 -6.1 .5 11.3 .5 -5.4 .5 2.4 .5 -7 .5 .7 .5 10.5 .5 -7.2 .5 -.7 .5 3.6 .5 .1 .5 -8.4 .5 3.3 .5 3.5 .5 -.1 .5 1.1 .5 -2.6 .5 .5 .5 1.7 .5 -3 .5 -.5 .5 1 .5 1.8 .5 -.5 .5 -1.1 .5 .8 .5 .7 .5 1.2 .5 .2 .5 -5.5 .5 7.6 .5 -8.7 .5 7.2 .5 -4.2 .5 4.4 .5 1.6 .5 -9.9 .5 8.4 .5 -1.1 .5 -2.5 .5 2.8 .5 -2.9 .5 2.1 .5 -4 .5 6.2 .5 -.7 .5 .6 .5 -4.7 .5 8.3 .5 .5 .5 -6.9 .5 -1.1 .5 0 .5 3.7 .5 1.2 .5 -6 .5 -4.3 .5 8.3 .5 -1.6 .5 .7 .5 1.2 .5 -5.5 .5 3.9 .5 -1.2 .5 2.3 .5 2.8 .5 -4.1 .5 -2.8 .5 7 .5 -1.8 .5 -3.1 .5 -5.3 .5 3.1 .5 3.4 .5 1.3 .5 -3.6 .5 3.2 .5 -3.5 .5 .7 .5 3.1 .5 -2.6 .5 1.3 .5 2.5 .5 .8 .5 -5.7 .5 1.1 .5 -3.6 .5 .1 .5 5.3 .5 -2.7 .5 -4.5 .5 8 .5 -4.6 .5 1.8 .5 2.4 .5 -.1 .5 -1.5 .5 -6.4 .5 8.5 .5 -3.9 .5 -2.7 .5 -2.7 .5 11.8 .5 -3.9 .5 -.1 .5 1.6 .5 -2.3 .5 -4.6 .5 7.1 .5 1.1 .5 -1.6 .5 3.4 .5 1.2 .5 -9 .5 1.2 .5 4.4 .5 -2.3 .5 .1 .5 2.4 .5 -.7 .5 -3.9 .5 1.9 .5 -2.8 .5 1.7 .5 -3 .5 -2.9 .5 4.9 .5 -.3 .5 4.9 .5 2.3 .5 -5.2 .5 1.5 .5 -3.7 .5 -.9 .5 2.1 .5 0 .5 1.9 .5 -.6 .5 5.2 .5 -6.3 .5 -4.7 .5 5.8 .5 -2.5 .5 2.8 .5 3.1 .5 -5.9 .5 1.9 .5 2 .5 -4.9 .5 3.9 .5 1 .5 .9 .5 1 .5 -1.8 .5 -.6 .5 -5.9 .5 -4.2 .5 5.6 .5 8 .5 -4.4 .5 -7.8 .5 6 .5 2.6 .5 -7.3 .5 8 .5 -5.7 .5 7.3 .5 -3.4 .5 10.2 .5 -14.7 .5 5.4 .5 -5.8 .5 8.7 .5 -3.4 .5 2.6 .5 -2.7 .5 -4.2 .5 1.7 .5 -1.9 .5 .6 .5 3.9 .5 3.1 .5 -.7 .5 -1.1 .5 -3.6 .5 3.5 .5 -4.5 .5 3.5 .5 2.1 .5 -3.4 .5 -.9 .5 .1 .5 3.5 .5 -3.1 .5 -3.6 .5 3.3 .5 -2.2 .5 8.5 .5 -4.9 .5 -4.9 .5 5.7 .5 1.5 .5 -1.1 .5 -2.4 .5 1.7 .5 .4 .5 2.4 .5 -2.1 .5 6.3 .5 -8.2 .5 5.7 .5 -5 .5 -5.6 .5 1.7 .5 -2.1 .5 .3 .5 9.7 .5 -6.2 .5 4.2 .5 -4.9 .5 2.9 .5 -3.5 .5 6.4 .5 -3.7 .5 -.7 .5 1 .5 7.7 .5 -5.7 .5 1.3 .5 -6.9 .5 2 .5 3.1 .5 -7.1 .5 10.5 .5 -3.5 .5 -.9 .5 -.6 .5 -.1 .5 -.9 .5 6.2 .5 -2.3 .5 1.9 .5 -5.1 .5 -1.9 .5 7.3 .5 -8.5 .5 2.1 .5 4.3 .5 1.3 .5 -8 .5 3.5 .5 1 .5 -.6 .5 -2.3 .5 5 .5 -3.9 .5 .9 .5 -6.6 .5 7 .5 -6 .5 8.7 .5 -.7 .5 -3.3 .5 2.3 .5 -.2 .5 -.9 .5 1.7 .5 -1.6 .5 -1.1 .5 -1.1 .5 8.2 .5 -4.9 .5 -.7 .5 2.4 .5 -3.6 .5 0 .5 3.5 .5 1.2 .5 -1.2 .5 -7.1 .5 5.1 .5 -.3 .5 1.6 .5 -4.4 .5 -.5 .5 3 .5 -2.5 .5 -.6 .5 3.3 .5 3.3 .5 -2.6 .5 3.2 .5 -6.9 .5 5.6 .5 -2.4 .5 -2.8 .5 1.5 .5 -1.5 .5 2.2 .5 -1.8 .5 6.6 .5 -5.3 .5 -3.5 .5 4 .5 2 .5 -2.3 .5 3.8 .5 -5.8 .5 .2 .5 8.1 .5 -5.3 .5 1.8 .5 -.1 .5 .2 .5 -1.7 .5 -.8 .5 4.2 .5 -5.2 .5 2 .5 1.9 .5 -3.5 .5 -3.7 .5 6.5 .5 2 .5 -2.7 .5 -6.3 .5 7.6 .5 4.3 .5 -11.4 .5 -3.8 .5 8 .5 1.1 .5 2.3 .5 .1 .5 -2.3 .5 1.4 .5 -.6 .5 -.7 .5 -.6 .5 -.3 .5 2.8 .5 -1 .5 -2.7 .5 4.9 .5 -5.9 .5 1.7 .5 1.1 .5 -6.6 .5 5 .5 4 .5 -.1 .5 -6.5 .5 1.1 .5 -.8 .5 2.8 .5 .5 .5 -4.9 .5 6.2 .5 -.8 .5 -.5 .5 -1.9 .5 1.6 .5 -5.2 .5 6.5 .5 0 .5 -1.1 .5 -3.4 .5 7.9 .5 -.5 .5 -9.7 .5 7.4 .5 -.8 .5 -8.8 .5 10 .5 .4 .5 .2 .5 -1.8 .5 -2.6 .5 .5 .5 3.3 .5 2.1 .5 -5.4 .5 .7 .5 3.2 .5 -9.2 .5 8.4 .5 -2.2 .5 -6.4 .5 9.6 .5 -5.4 .5 5.5 .5 1.9 .5 -8.5 .5 .2 .5 3.8 .5 -5.6 .5 8 .5 -1.7 .5 2.5 .5 -9.1 .5 6.6 .5 .9 .5 -7.3 .5 8.7 .5 -7.4 .5 5.1 .5 -4.9 .5 6.8 .5 3 .5 -5.3 .5 -.1 .5 4.1 .5 -5.6 .5 1.6 .5 2.5 .5 -1.3 .5 3.7 .5 -1.2 .5 2.4 .5 -6.3 .5 3.7 .5 -6.2 .5 5.6 .5 2.7 .5 2 .5 -11.7 .5 3.5 .5 2.9 .5 -5.2 .5 4.7 .5 0 .5 -3.4 .5 -.1 .5 -1.3 .5 4 .5 3.1 .5 -3.2 .5 8.1 .5 -13.8 .5 2.9 .5 4.1 .5 -5.9 .5 4.8 .5 1.5 .5 -2.1 .5 -1.3 .5 3.8 .5 -1.7 .5 1 .5 -.6 .5 -4 .5 -1.4 .5 2.4 .5 1.8 .5 -1.2 .5 3.7 .5 -2.3 .5 2.3 .5 -2.8 .5 -2.7 .5 5.1 .5 -1.2 .5 -4.4 .5 1.4 .5 10.5 .5 -20.2 .5 14.7 .5 -3.5 .5 -.5 .5 -.7 .5 -.7 .5 9.4 .5 -9.3 .5 .5 .5 3.6 .5 -1.4 .5 -1.9 .5 -.4 .5 -3.4 .5 7.9 .5 -7.1 .5 -4.5 .5 11.4 .5 -1 .5 -1.4 .5 -2.8 .5 5.6 .5 -7.5 .5 -3.7 .5 7.7 .5 2.1 .5 -.6 .5 4.8 .5 -4.1 .5 -3.6 .5 .1 .5 3.6 .5 -3.2 .5 -.3 .5 -5.4 .5 4.8 .5 -3.3 .5 5 .5 -.3 .5 1.9 .5 3.5 .5 -6.5 .5 5.3 .5 -8.6 .5 4.3 .5 2.6 .5 3.3 .5 -10.2 .5 2.8 .5 1.3 .5 -.9 .5 -2.8 .5 -2.3 .5 1.3 .5 3.8 .5 -4.3 .5 10.4 .5 -1.9 .5 -10.5 .5 4.7 .5 6 .5 .4 .5 -1.2 .5 -8.5 .5 3.5 .5 5.4 .5 -3.9 .5 -2 .5 3.2 .5 1.6 .5 -2.9 .5 .3 .5 2.7 .5 -5.5 .5 -1.3 .5 5.6 .5 -6.6 .5 5.6 .5 -4.2 .5 5.2 .5 -6.9 .5 7.8 .5 -3 .5 -2 .5 -1.9 .5 2.3 .5 -2.7 .5 -1 .5 7.6 .5 -1.7 .5 2 .5 -8.8 .5 -2 .5 1.1 .5 7.4 .5 .5 .5 -9.1 .5 9.6 .5 -5 .5 -2.7 .5 3.7 .5 2.1 .5 -2.8 .5 0 .5 -2.3 .5 -2.1 .5 3.4 .5 -4.3 .5 7.4 .5 -5.1 .5 7.2 .5 -9.9 .5 10 .5 -7.9 .5 -.2 .5 3.9 .5 1.9 .5 -3.4 .5 -1.2 .5 7.9 .5 -5.3 .5 -6 .5 3 .5 6.6 .5 -4.9 .5 1.5 .5 4 .5 -9.3 .5 3.2 .5 -3.8 .5 2 .5 1.7 .5 -6.7 .5 4.8 .5 -.2 .5 2.9 .5 -6 .5 -2.6 .5 5.5 .5 -5.6 .5 4.2 .5 1.1 .5 -5.4 .5 2.3 .5 -3.5 .5 -6.7 .5 4.5 .5 -2.6 .5 6.9 .5 -4.2 .5 2.8 .5 -.1 .5 3.5 .5 -5.5 .5 -.6 .5 2.7 .5 3.4 .5 -6.6 .5 1 .5 -2.5 .5 -2.4 .5 -3.7 .5 4.6 .5 -1.4 .5 -.7 .5 7.3 .5 -9.1 .5 1.6 .5 -3.3 .5 4.7 .5 -6.3 .5 6.9 .5 -8.8 .5 2.8 .5 -.2 .5 -5.8 .5 2.8 .5 -4.2 .5 -4.4 .5 -1.1 .5 2.3 .5 4 .5 -10.3 .5 2.3 .5 -7 .5 2.2 .5 -8 .5 -.1 .5 .8 .5 -5.3 .5 -.6 .5 2.5 .5 -7.2 .5 -5.3 .5 -5.2 .5 -.4 .5 3.5 .5 -8.7 .5 -4 .5 -.4 .5 -3.7 .5 -3.8 .5 -10.5 .4 -4.4 .1 -3.1 0 -.4 .1 -1 .1 -1 .1 -1.1 .1 -1.1 .1 -4 0 -.4 .1 -1.1 .1 -1.1 .1 -1.1 .1 -1.1 .1 3.6 0 -.4 .1 -1.1 .1 -1.2 .1 -1.1 .1 -1.2 .1 .7 0 -.5 .1 -1.2 .1 -1.2 .1 -1.2 .1 -1.2 .1 4.2 0 -.4 .1 -1.3 .1 -1.2 .1 -1.3 .1 -1.2 .1 -2.7 0 -.5 .1 -1.3 .1 -1.3 .1 -1.3 .1 -1.3 .1 -5 0 -.5 .1 -1.3 .1 -1.4 .1 -1.3 .1 -1.4 .1 5.9 0 -.5 .1 -1.4 .1 -1.3 .1 -1.4 .1 -1.4 .1 -11.1 0 -.5 .1 -1.5 .1 -1.4 .1 -1.5 .1 -1.4 .1 .1 0 -.6 .1 -1.5 .1 -1.4 .1 -1.5 .1 -1.5 .1 -1.5 0 -.6 .1 -1.5 .1 -1.5 .1 -1.5 .1 -1.5 .1 -.5 0 -.6 .1 -1.5 .1 -1.5 .1 -1.5 .1 -1.5 .1 3.3 0 -.6 .1 -1.5 .1 -1.5 .1 -1.5 .1 -1.5 .1 -3.8 0 -.6 .1 -1.5 .1 -1.5 .1 -1.4 .1 -1.5 .1 -.4 0 -.6 .1 -1.4 .1 -1.5 .1 -1.4 .1 -1.4 .1 9.9 0 -.5 .1 -1.4 .1 -1.3 .1 -1.3 .1 -1.4 .1 -15.3 0 -.5 .1 -1.3 .1 -1.3 .1 -1.2 .1 -1.3 .1 1.5 0 -.4 .1 -1.2 .1 -1.2 .1 -1.2 .1 -1.1 .1 3.5 0 -.4 .1 -1.1 .1 -1 .1 -1 .1 -1 .1 3 0 -.3 .1 -1 .1 -.8 .1 -.9 .1 -.8 .1 -.3 0 -.3 .1 -.7 .1 -.7 .1 -.7 .1 -.6 .1 -4.4 0 -.2 .1 -.6 .1 -.5 .1 -.5 .1 -.4 .1 -.8 0 -.1 .1 -.4 .1 -.3 .1 -.3 .1 -.2 .1 .4 0 -.1 .1 -.1 .1 -.1 .1 -.1 .1 0 .1 5.3 .1 .1 .1 .1 .1 .1 .1 .2 .1 -8.6 0 .1 .1 .3 .1 .3 .1 .3 .1 .4 .1 -7.3 0 .2 .1 .5 .1 .5 .1 .6 .1 .6 .1 13.8 0 .2 .1 .7 .1 .7 .1 .7 .1 .8 .1 -6.6 0 .3 .1 .8 .1 .9 .1 .9 .1 1 .1 6.4 0 .4 .1 1 .1 1 .1 1.1 .1 1.1 .1 8.3 0 .4 .1 1.1 .1 1.2 .1 1.2 .1 1.2 .1 -6 0 .5 .1 1.2 .1 1.3 .1 1.3 .1 1.3 .1 9.8 0 .5 .1 1.3 .1 1.3 .1 1.4 .1 1.4 .1 -16.7 0 .5 .1 1.5 .1 1.4 .1 1.4 .1 1.5 .1 10.2 0 .5 .1 1.5 .1 1.4 .1 1.5 .1 1.4 .1 1.7 0 .6 .1 1.5 .1 1.4 .1 1.5 .1 1.5 .1 3.1 0 .6 .1 1.4 .1 1.5 .1 1.5 .1 1.5 .1 -6.7 0 .5 .1 1.5 .1 1.5 .1 1.5 .1 1.5 .1 5.2 0 .6 .1 1.4 .1 1.5 .1 1.4 .1 1.5 .1 .7 0 .5 .1 1.5 .1 1.4 .1 1.4 .1 1.4 .1 .8 0 .5 .1 1.4 .1 1.4 .1 1.4 .1 1.4 .1 -6 0 .5 .1 1.4 .1 1.3 .1 1.4 .1 1.3 .1 -.8 0 .5 .1 1.4 .1 1.3 .1 1.3 .1 1.3 .1 11.2 0 .4 .1 1.3 .1 1.2 .1 1.3 .1 1.2 .1 -.1 0 .4 .1 1.2 .1 1.2 .1 1.2 .1 1.2 .1 -.7 0 .5 .1 1.1 .1 1.2 .1 1.1 .1 1.1 .1 3.4 0 .4 .1 1.1 .1 1.1 .1 1.1 .1 1 .1 2.6 0 .4 .1 1.1 .1 1 .1 1 .2 -8.1 .5 13.3 .5 7.7 .5 2.4 .5 2.3 .5 4.4 .5 -5.1 .5 7.5 .5 9.6 .5 5 .5 -1.1 .5 -.8 .5 3.9 .5 6.5 .5 7 .5 -2.6 .5 -2.9 .5 6.5 .5 1.3 .5 9.3 .5 -5.1 .5 -.4 .5 1.1 .5 -2.8 .5 2.2 .5 3.5 .5 .1 .5 4.9 .5 .9 .5 4.2 .5 3.2 .5 -3.9 .5 -.3 .5 -5.1 .5 9 .5 1.9 .5 -4.3 .5 2.1 .5 -.3 .5 7 .5 -.8 .5 2.8 .5 -8 .5 14.3 .5 -11.8 .5 -.1 .5 4.9 .5 -2.1 .5 8.9 .5 -7.4 .5 -.5 .5 6.3 .5 1.3 .5 -6.8 .5 1.7 .5 .8 .5 1.1 .5 6.8 .5 -1.2 .5 -.3 .5 1 .5 -4 .5 3.3 .5 -3 .5 -2.1 .5 8.7 .5 -11.6 .5 6.3 .5 -1.7 .5 -3.5 .5 4.7 .5 1.7 .5 1.6 .5 -4.2 .5 5.6 .5 -1.3 .5 1.9 .5 -9.2 .5 5.3 .5 -.4 .5 4.2 .5 -4.3 .5 1 .5 -2 .5 -.1 .5 1.1 .5 6.6 .5 -6.8 .5 -4.5 .5 9.4 .5 -2.4 .5 3.6 .5 0 .5 -2.7 .5 -.3 .5 -.3 .5 1.9 .5 -2.4 .5 3.4 .5 4.1 .5 -6.9 .5 .3 .5 0 .5 4.4 .5 .2 .5 2.7 .5 -2.3 .5 -1.9 .5 1.2 .5 -5.9 .5 6.4 .5 -1.2 .5 6.5 .5 -2.3 .5 -7.3 .5 .9 .5 4.9 .5 -9.8 .5 3.9 .5 4.4 .5 1 .5 -1.5 .5 3.4 .5 -4.8 .5 1.3 .5 -.9 .5 -3 .5 3.9 .5 -2 .5 2.2 .5 -9 .5 9.2 .5 -2.1 .5 -.2 .5 2.2 .5 -1.7 .5 4.8 .5 1.1 .5 -1.2 .5 .3 .5 -2 .5 -1 .5 -4.4 .5 3.1 .5 5.3 .5 -1.5 .5 -4.1 .5 2 .5 3.2 .5 -4 .5 6 .5 -8 .5 5.2 .5 -.3 .5 -1.7 .5 .5 .5 .8 .5 -9.4 .5 9.2 .5 2.3 .5 -2.5 .5 2.5 .5 -7.7 .5 3.7 .5 1.4 .5 -2 .5 4.9 .5 -2.4 .5 -3.3 .5 4.5 .5 0 .5 -4.2 .5 3.6 .5 -.8 .5 -.1 .5 -5.3 .5 8.4 .5 -2.1 .5 -2.2 .5 1.2 .5 0 .5 -2.1 .5 -.9 .5 2.3 .5 -2.4 .5 .4 .5 -2.2 .5 2.9 .5 4.3 .5 -2.6 .5 -.6 .5 -1.2 .5 -.3 .5 -3.6 .5 10.5 .5 -7.9 .5 -2.6 .5 6.3 .5 -.4 .5 -2.6 .5 -3.2 .5 .3 .5 9.9 .5 -5.7 .5 -1.7 .5 8.3 .5 -8 .5 -1.2 .5 4.9 .5 -.6 .5 4 .5 -10.5 .5 6.2 .5 -6.6 .5 7.2 .5 -3.7 .5 .6 .5 -.9 .5 5.2 .5 2.7 .5 -5.7 .5 -.6 .5 -.8 .5 3.4 .5 -5.2 .5 15.2 .5 -12.6 .5 6.5 .5 -5.2 .5 -5.1 .5 -.6 .5 3.8 .5 -1 .5 1.6 .5 -3.1 .5 11.7 .5 -.7 .5 -13.2 .5 7.7 .5 2.4 .5 -5.2 .5 .4 .5 4.4 .5 -1.9 .5 -5.8 .5 8.1 .5 -5.7 .5 7.8 .5 -9.4 .5 -4.5 .5 8 .5 3.7 .5 -2.3 .5 -1.2 .5 -3.7 .5 6.2 .5 -9.3 .5 8.8 .5 -6.7 .5 2.1 .5 -2.5 .5 1.4 .5 8 .5 -8.9 .5 4.5 .5 -3.3 .5 6.1 .5 -8 .5 4.6 .5 3 .5 4.5 .5 -11.6 .5 1 .5 2.8 .5 5.2 .5 -8.5 .5 6.2 .5 -4.9 .5 -1.4 .5 -1.8 .5 5.8 .5 2.8 .5 -3.7 .5 -6.8 .5 5.3 .5 5.1 .5 -.3 .5 -2 .5 4 .5 -9.3 .5 .1 .5 12.2 .5 -5.8 .5 -2.9 .5 -1 .5 -7.1 .5 11.6 .5 -9.9 .5 .4 .5 6.4 .5 5.3 .5 -6.4 .5 2.5 .5 -2.7 .5 2.8 .5 -7 .5 12.8 .5 -10.4 .5 5.1 .5 -8.8 .5 12.9 .5 -4.5 .5 5.3 .5 -9 .5 5.7 .5 -4.1 .5 .4 .5 4.6 .5 -7.5 .5 5.6 .5 4.1 .5 -.7 .5 -2.3 .5 -2.5 .5 -4.4 .5 8.1 .5 -7.2 .5 6.4 .5 -5.2 .5 1.2 .5 -.1 .5 2.1 .5 -3.6 .5 2.1 .5 -2.4 .5 3.6 .5 -.8 .5 .4 .5 -4.3 .5 4 .5 -1 .5 1.8 .5 -1.8 .5 -3.5 .5 5.8 .5 -4.8 .5 3.3 .5 -8.1 .5 8.8 .5 .5 .5 -5.4 .5 5.1 .5 -3.2 .5 5.9 .5 -2.4 .5 -6.5 .5 3.5 .5 -5.3 .5 4.9 .5 2.9 .5 1 .5 -3.2 .5 -.5 .5 1.4 .5 -2.6 .5 3.1 .5 2.7 .5 -3.1 .5 2.2 .5 -5.5 .5 .9 .5 2.8 .5 5.8 .5 -3.5 .5 2.4 .5 -5.6 .5 4 .5 -9.9 .5 7.5 .5 -8.9 .5 11.3 .5 -2.6 .5 2.3 .5 -2.6 .5 -3 .5 -.9 .5 3.2 .5 4.4 .5 -2.9 .5 -4 .5 -.1 .5 -.5 .5 1.7 .5 .4 .5 -1.3 .5 1.6 .5 -5.4 .5 10.7 .5 -4.5 .5 4.3 .5 -4.2 .5 -1.6 .5 .9 .5 .5 .5 -3 .5 .9 .5 7.8 .5 -3.3 .5 -5 .5 3.5 .5 -4.6 .5 7.6 .5 -8.2 .5 6.5 .5 -3 .5 0 .5 -2.9 .5 1.9 .5 -1.7 .5 -.4 .5 4.5 .5 6.9 .5 -9.7 .5 4.6 .5 -3.5 .5 -2.4 .5 7 .5 -2.4 .5 1.7 .5 -3.5 .5 .1 .5 -3.3 .5 1.8 .5 6.6 .5 -13.4 .5 9 .5 3.7 .5 -2.3 .5 .2 .5 -3.9 .5 4.7 .5 .1 .5 -4 .5 5.7 .5 -7.3 .5 -6.8 .5 8.4 .5 -.4 .5 -2.5 .5 1.3 .5 -.3 .5 -4.4 .5 10.3 .5 -4.2 .5 9.1 .5 -9.2 .5 1.4 .5 -6.5 .5 8.5 .5 -7.2 .5 5.5 .5 1.3 .5 -.6 .5 -5.4 .5 .1 .5 5.2 .5 1.4 .5 .9 .5 -5.1 .5 -.3 .5 6.5 .5 -8.2 .5 4.6 .5 -3.7 .5 -3.9 .5 1 .5 5.3 .5 -.8 .5 .9 .5 -3 .5 -.5 .5 2.6 .5 -1.6 .5 -4.9 .5 3.9 .5 7.2 .5 -8.5 .5 4.5 .5 -2.3 .5 2.7 .5 -5.5 .5 -1.5 .5 5.9 .5 -4 .5 2.2 .5 -1.1 .5 4.3 .5 -2.5 .5 -.5 .5 -3.8 .5 -2.2 .5 2.4 .5 5.7 .5 -.6 .5 -.5 .5 -3.5 .5 -2.2 .5 7.3 .5 -3.4 .5 1.1 .5 -5.2 .5 .8 .5 4.5 .5 .2 .5 -6.1 .5 4.2 .5 -5.1 .5 8.1 .5 -2.1 .5 5.4 .5 -2.8 .5 -7.6 .5 2.8 .5 -2.5 .5 2 .5 2 .5 -2.9 .5 .1 .5 -5.1 .5 6.5 .5 -2.3 .5 2 .5 1.3 .5 -3.8 .5 2.1 .5 -4.7 .5 5.1 .5 -3.6 .5 -2.2 .5 1 .5 -4.4 .5 2.4 .5 .4 .5 1.3 .5 -.7 .5 -2.2 .5 1.2 .5 -7.2 .5 7.5 .5 1.3 .5 .4 .5 .7 .5 -5 .5 .1 .5 -1.9 .5 -.4 .5 1.7 .5 3.8 .5 -11.2 .5 3.7 .5 2.2 .5 -5.1 .5 4.5 .5 -7 .5 3.1 .5 -5.3 .5 6.3 .5 -4.5 .5 4.4 .5 -4.1 .5 -3.1 .5 1.1 .5 1.2 .5 -1.3 .5 -1.8 .5 -1.2 .5 .4 .5 2.1 .5 -6.3 .5 2.7 .5 -7.6 .5 7.2 .5 -3.2 .5 -3.9 .5 -1.2 .5 -6.5 .5 5.3 .5 -2.7 .5 -5.9 .5 2.1 .5 2.3 .5 -3.2 .5 -1.4 .5 -5.1 .5 3.6 .5 -5.4 .5 1.3 .5 3.3 .5 -19.1 .5 3.6 .5 -.4 .5 -5.6 .5 4.5 .5 -8.4 .5 5.4 .5 -6.7 .5 -4.6 .5 -5.1 .5 .3 .5 -5 .5 .5 .5 -8.3 .5 -1.2 .5 -6.7 .5 -4.5 .3 -2.6 .1 -.9 .1 -.8 0 -8.5 .1 -.8 .1 -.9 .1 -.9 .1 -.9 .1 -.9 0 7 .1 -.9 .1 -.9 .1 -.9 .1 -.9 .1 -.9 0 1.7 .1 -.9 .1 -.9 .1 -.9 .1 -.9 .1 -1 0 -7.1 .1 -.9 .1 -1 .1 -.9 .1 -1 .1 -.9 0 -1 .1 -1 .1 -1 .1 -.9 .1 -1 .1 -1 0 5.1 .1 -1 .1 -1 .1 -.9 .1 -1 .1 -1 0 2.8 .1 -.9 .1 -1 .1 -1 .1 -.9 .1 -1 0 -9.4 .1 -1 .1 -1 .1 -.9 .1 -1 .1 -1 0 9.6 .1 -1 .1 -1 .1 -.9 .1 -1 .1 -.9 0 3.1 .1 -1 .1 -.9 .1 -1 .1 -.9 .1 -1 0 -5.8 .1 -.9 .1 -1 .1 -.9 .1 -.9 .1 -1 0 2.4 .1 -.9 .1 -.9 .1 -.9 .1 -.9 .1 -.9 0 1.1 .1 -.9 .1 -.9 .1 -.8 .1 -.9 .1 -.9 0 -5.5 .1 -.9 .1 -.8 .1 -.8 .1 -.9 .1 -.8 0 6.4 .1 -.8 .1 -.8 .1 -.8 .1 -.8 .1 -.7 0 -.9 .1 -.7 .1 -.7 .1 -.8 .1 -.7 .1 -.7 0 -8.4 .1 -.7 .1 -.7 .1 -.7 .1 -.6 .1 -.6 0 8.8 .1 -.6 .1 -.6 .1 -.6 .1 -.5 .1 -.6 0 1.8 .1 -.5 .1 -.5 .1 -.5 .1 -.5 .1 -.4 0 -9.9 .1 -.5 .1 -.4 .1 -.4 .1 -.4 .1 -.4 0 9.9 .1 -.3 .1 -.4 .1 -.3 .1 -.3 .1 -.2 0 -5.8 .1 -.3 .1 -.2 .1 -.2 .1 -.2 .1 -.2 0 -5.5 .1 -.1 .1 -.2 .1 -.1 .1 -.1 .1 0 0 1.5 .1 0 .1 -.1 .1 0 .1 0 .1 .1 0 .8 .1 0 .1 .1 .1 .1 .1 .1 .1 .2 0 7.2 .1 .2 .1 .2 .1 .2 .1 .2 .1 .2 0 -5.2 .1 .3 .1 .3 .1 .3 .1 .3 .1 .3 0 .5 .1 .4 .1 .3 .1 .4 .1 .5 .1 .4 0 -4.4 .1 .4 .1 .5 .1 .5 .1 .5 .1 .5 0 6.5 .1 .6 .1 .5 .1 .6 .1 .6 .1 .6 0 -6.4 .1 .6 .1 .7 .1 .6 .1 .7 .1 .7 0 2.9 .1 .7 .1 .7 .1 .7 .1 .7 .1 .8 0 6.4 .1 .7 .1 .8 .1 .8 .1 .8 .1 .8 0 .2 .1 .8 .1 .8 .1 .9 .1 .8 .1 .9 0 -5.9 .1 .8 .1 .9 .1 .9 .1 .8 .1 .9 0 2.4 .1 .9 .1 .9 .1 .9 .1 .9 .1 1 0 2.8 .1 .9 .1 .9 .1 1 .1 .9 .1 1 0 -2.7 .1 1 .1 .9 .1 1 .1 1 .1 .9 0 5.9 .1 .9 .1 1 .1 .9 .1 1 .1 1 0 .6 .1 1 .1 1 .1 .9 .1 1 .1 1 0 -6.8 .1 1 .1 1 .1 .9 .1 1 .1 1 0 -5.4 .1 1 .1 1 .1 1 .1 1 .1 .9 0 5.1 .1 .9 .1 1 .1 1 .1 .9 .1 1 0 6.9 .1 1 .1 .9 .1 1 .1 .9 .1 .9 0 -1 .1 1 .1 .9 .1 .9 .1 1 .1 .9 0 .2 .1 1 .1 .9 .1 .9 .1 .9 .1 .9 0 -.3 .1 .9 .1 .9 .1 .9 .1 .8 .1 .9 0 -7.3 .1 .9 .1 .9 .3 6.1 .5 7.8 .5 .5 .5 6.7 .5 -4.3 .5 2.8 .5 17.5 .5 -1.9 .5 2.7 .5 6.7 .5 6.3 .5 5.6 .5 -18.9 .5 14.2 .5 5.2 .5 -9.4 .5 3 .5 8.8 .5 10.5 .5 -1.7 .5 6.9 .5 -5.5 .5 5 .5 3.6 .5 -2.4 .5 -.2 .5 2.1 .5 -13.1 .5 16.9 .5 -7 .5 5.4 .5 7.1 .5 .1 .5 -7.9 .5 10.7 .5 2 .5 -1 .5 2.8 .5 .6 .5 -7.6 .5 6.5 .5 .6 .5 -2.6 .5 5.2 .5 -2.1 .5 3.5 .5 -2.2 .5 7.7 .5 5 .5 -9.5 .5 2.8 .5 .7 .5 2 .5 -1.7 .5 -6.9 .5 9.9 .5 -1.3 .5 -2.9 .5 3.6 .5 -.7 .5 3.1 .5 -1.5 .5 .5 .5 1.8 .5 .8 .5 -.5 .5 4.5 .5 -3 .5 -3.3 .5 9.2 .5 -5.4 .5 5.4 .5 -9.1 .5 6 .5 4.4 .5 -1.4 .5 -3.9 .5 -2.2 .5 .1 .5 1.7 .5 -2.6 .5 .9 .5 -.7 .5 .1 .5 4.5 .5 -6.9 .5 6.9 .5 2 .5 -5.7 .5 .2 .5 3.4 .5 -.2 .5 3.6 .5 -10.3 .5 6.8 .5 5.2 .5 -4.6 .5 6 .5 1.4 .5 -9.6 .5 7.2 .5 -3.4 .5 -1.9 .5 -1 .5 .1 .5 -2.5 .5 2.6 .5 3.8 .5 1.1 .5 -5.9 .5 3.1 .5 -.3 .5 -10.2 .5 10.8 .5 -7.1 .5 .2 .5 6.8 .5 2.8 .5 -10.1 .5 .6 .5 -.4 .5 1.2 .5 .3 .5 -1.9 .5 -3.1 .5 11.8 .5 -8.4 .5 -1.3 .5 5.6 .5 -4.9 .5 4.8 .5 -1.4 .5 .3 .5 -5.4 .5 3.3 .5 -8.4 .5 .2 .5 4.7 .5 -1.9 .5 5.4 .5 -6.4 .5 -6 .5 6 .5 -2 .5 1.1 .5 -5.6 .5 .7 .5 2.3 .5 1.7 .5 -2 .5 .4 .5 -9 .5 3.7 .5 .7 .5 1.8 .5 -3.5 .5 -2.9 .5 -.6 .5 -1 .5 -6.1 .5 4.4 .5 1.8 .5 -1.5 .5 -11 .4 -1 .1 6.9 .1 -.3 .1 -.2 .1 -.3 .1 -.2 .1 -6 .1 -.3 .1 -.2 .1 -.3 .1 -.2 .1 9.8 .1 -.3 .1 -.2 .1 -.3 .1 -.2 .1 -2.4 .1 -.3 .1 -.2 .1 -.3 .1 -.2 .1 .4 .1 -.2 .1 -.3 .1 -.2 .1 -.3 .1 -5.5 0 -.1 .1 -.2 .1 -.3 .1 -.2 .1 -.3 .1 -5.1 .1 -.3 .1 -.2 .1 -.3 .1 -.2 .1 3.2 .1 -.2 .1 -.3 .1 -.2 .1 -.3 .1 2.5 .1 -.2 .1 -.3 .1 -.2 .1 -.3 .1 -4.7 .1 -.2 .1 -.3 .1 -.2 .1 -.2 .1 1.7 .1 -.2 .1 -.3 .1 -.2 .1 -.2 .1 10.7 .1 -.2 .1 -.2 .1 -.3 .1 -.2 .1 -12.3 .1 -.2 .1 -.3 .1 -.2 .1 -.2 .1 7.3 0 -.1 .1 -.1 .1 -.2 .1 -.2 .1 -.2 .1 -9.8 .1 -.2 .1 -.2 .1 -.1 .1 -.2 .1 8.3 0 -.1 .1 -.1 .1 -.2 .1 -.2 .1 -.1 .1 2.2 .1 -.2 .1 -.1 .1 -.2 .1 -.1 .1 -1.7 .1 -.2 .1 -.1 .1 -.1 .1 -.1 .1 2.9 .1 -.1 .1 -.2 .1 -.1 .1 -.1 .1 2.3 .1 -.1 .1 -.1 .1 -.1 .1 -.1 .1 -12.8 .1 -.1 .1 0 .1 -.1 .1 -.1 .1 6.6 .1 -.1 .1 0 .1 -.1 .1 0 .1 1 .1 -.1 .1 0 .1 0 .1 -.1 .1 -.3 0 -.1 .1 0 .1 0 .1 0 .1 0 .1 4.7 .1 0 .1 0 .1 .1 .1 0 .1 -5.3 .1 .1 .1 0 .1 0 .1 .1 .1 3.8 .1 0 .1 .1 .1 0 .1 .1 .1 -.1 .1 .1 .1 0 .1 .1 .1 .1 .1 -4 .1 .1 .1 .1 .1 .1 .1 .1 .1 1.8 .1 .1 .1 .1 .1 .1 .1 .1 .1 -5.1 .1 .2 .1 .1 .1 .1 .1 .2 .1 4.4 .1 .2 .1 .1 .1 .2 .1 .2 .1 -.4 .1 .2 .1 .2 .1 .1 .1 .2 .1 -1.2 0 .1 .1 .1 .1 .2 .1 .2 .1 .2 .1 -1.1 .1 .2 .1 .2 .1 .2 .1 .2 .1 5.9 .1 .2 .1 .2 .1 .2 .1 .2 .1 -4 .1 .2 .1 .2 .1 .3 .1 .2 .1 9.6 .1 .2 .1 .3 .1 .2 .1 .2 .1 -3.6 .1 .3 .1 .2 .1 .2 .1 .3 .1 -2 0 .1 .1 .2 .1 .2 .1 .3 .1 .2 .1 -5 .1 .3 .1 .2 .1 .3 .1 .2 .1 6 0 .1 .1 .2 .1 .2 .1 .3 .1 .2 .1 -2.7 .1 .3 .1 .2 .1 .3 .1 .2 .1 .1 .1 .2 .1 .3 .1 .2 .1 .3 .1 -4.3 .1 .2 .1 .3 .1 .2 .1 .3 .1 6.7 .1 .2 .1 .3 .1 .2 .1 .3 .1 -1.1 0 .1 .1 .2 .1 .3 .1 .2 .1 .3 .1 -2.5 .1 .3 .1 .2 .1 .3 .2 -.4 .5 2.8 .5 -2.8 .5 4.1 .5 8.4 .5 -6.4 .5 12.1 .5 -12.5 .5 10.1 .5 1 .5 1.3 .5 -1.3 .5 -7 .5 11 .5 .6 .5 -2.9 .5 -7.9 .5 13.3 .5 -6.5 .5 3.1 .5 6.2 .5 1 .5 -2.7 .5 -2.7 .5 8.7 .5 -1.4 .5 -4.1 .5 -2.3 .5 5 .5 -5.3 .5 11.6 .5 -4 .5 -2.6 .5 3.2 .5 -6.9 .5 6.1 .5 -1.6 .5 -2.9 .5 3.7 .5 3.8 .5 -5.9 .5 4.7 .5 -4.1 .5 6.1 .5 -6.5 .5 8.9 .5 .2 .5 .8 .5 3.7 .5 -5.4 .5 0 .5 2 .5 -3.5 .5 -4.7 .5 2.5 .5 .2 .5 5.1 .5 -2.6 .5 1 .5 3.5 .5 -1.1 .5 6.4 .5 -6.9 .5 -2.9 .5 7.8 .5 -5.6 .5 1.3 .5 3.8 .5 -2.7 .5 2 .5 -4.4 .5 1.2 .5 3.4 .5 -3.9 .5 .6 .5 1.3 .5 5.7 .5 -.2 .5 -4.2 .5 -.4 .5 -2.5 .5 7 .5 -3 .5 1.9 .5 -7.9 .5 7.6 .5 -2.1 .5 2.1 .5 1.1 .5 -3.4 .5 -1.2 .5 3.6 .5 -6.3 .5 9 .5 -3.6 .5 -4.9 .5 8.2 .5 -1 .5 2 .5 -1.8 .5 -1.6 .5 -1.7 .5 -3.4 .5 6.1 .5 -.4 .5 -3.4 .5 3.5 .5 -5 .5 6.6 .5 -3 .5 .4 .5 -3.3 .5 5.7 .5 -2.6 .5 -2.4 .5 3.2 .5 -2 .5 4.3 .5 -8.6 .5 1.3 .5 10.7 .5 -8.5 .5 3.4 .5 -3 .5 2.1 .5 8.1 .5 -15.4 .5 8.5 .5 -1.7 .5 0 .5 -2.8 .5 -.5 .5 7.8 .5 -2.8 .5 -5.7 .5 4 .5 -4.5 .5 14.2 .5 -8.4 .5 -7.3 .5 9.2 .5 -1 .5 -1 .5 -.5 .5 -2.4 .5 1.2 .5 -6.1 .5 11.2 .5 2.3 .5 -5 .5 .4 .5 -6.6 .5 3.1 .5 -3.3 .5 .4 .5 6.2 .5 3 .5 -5 .5 8.6 .5 -5.6 .5 -10.3 .5 6.2 .5 5.8 .5 -3.9 .5 3 .5 -9.1 .5 9.9 .5 -8.2 .5 5.1 .5 6 .5 -6.9 .5 -1 .5 3.4 .5 -5.4 .5 -.4 .5 6.5 .5 -8.2 .5 .8 .5 10.1 .5 -10.1 .5 5.7 .5 2.2 .5 -3.9 .5 -3.3 .5 6.3 .5 -5.9 .5 10.2 .5 .4 .5 -10.9 .5 5.4 .5 -4.3 .5 3.7 .5 -2.1 .5 -2.5 .5 5.1 .5 -7.3 .5 6.6 .5 -1.6 .5 -2.1 .5 5.7 .5 -2.9 .5 -1.3 .5 .6 .5 -.1 .5 3.8 .5 -4 .5 -8.8 .5 -.6 .5 6.8 .5 -.6 .5 3.3 .5 -3.7 .5 1.9 .5 7.1 .5 -8.9 .5 7.4 .5 -3.3 .5 4.8 .5 -1.3 .5 -2.8 .5 3.4 .5 -2.8 .5 -4.5 .5 5.4 .5 .1 .5 -2.1 .5 1.3 .5 -2.3 .5 2.6 .5 -2 .5 -4.2 .5 4.2 .5 6.3 .5 -2.6 .5 2.3 .5 -5 .5 -1.3 .5 -2.2 .5 4 .5 3 .5 -.7 .5 -.3 .5 -4.1 .5 2.1 .5 -3 .5 5.4 .5 -.8 .5 -4.1 .5 2.6 .5 -8 .5 9.9 .5 -5 .5 1.5 .5 3.2 .5 .3 .5 -4.5 .5 7.5 .5 1.5 .5 -1.9 .5 -.5 .5 -4.1 .5 4.4 .5 -7.5 .5 -.8 .5 4.3 .5 .3 .5 -3.7 .5 8.8 .5 -10.8 .5 -2 .5 5.6 .5 6.8 .5 -3 .5 -1.3 .5 -.7 .5 1.4 .5 -.8 .5 -.7 .5 -.7 .5 -4.9 .5 8.5 .5 -4.6 .5 2.7 .5 .4 .5 1.8 .5 -6.1 .5 5.4 .5 .1 .5 -3.2 .5 .2 .5 .7 .5 -3.9 .5 1.9 .5 -2.2 .5 7.7 .5 -6.5 .5 -1 .5 4.1 .5 1.3 .5 -3 .5 -1.9 .5 4.5 .5 1.5 .5 -8.3 .5 8.5 .5 -8.9 .5 8.1 .5 -3.6 .5 .6 .5 3.2 .5 2.5 .5 2.1 .5 -2.4 .5 -2.2 .5 -6.7 .5 3.1 .5 1.8 .5 -2.4 .5 3.9 .5 -2.7 .5 6.7 .5 -6.5 .5 -3.6 .5 2.5 .5 -.6 .5 4.7 .5 2.3 .5 -1.2 .5 0 .5 -5.7 .5 -1.3 .5 1 .5 2.8 .5 -1.2 .5 2.1 .5 2.4 .5 -3.1 .5 5.4 .5 -8.2 .5 4.7 .5 -2.3 .5 3.6 .5 -3.4 .5 -1.7 .5 1.4 .5 -2.5 .5 -.7 .5 6.3 .5 -4.7 .5 6.1 .5 4.3 .5 -9.6 .5 4.2 .5 -3.2 .5 -6 .5 6 .5 5.2 .5 -8.9" stroke="#004aa6"/><path d="M225.3 1146.5l.5 .7 .5 -1.4 .5 -1.5 .5 1.1 .5 -1.3 .5 2.6 .5 3.2 .5 -4.6 .5 -.3 .5 2.8 .5 -.3 .5 -.6 .5 -2.6 .5 2.3 .5 1.8 .5 -5 .5 2.2 .5 -3.6 .5 1.6 .5 -1.4 .5 4 .5 -2.5 .5 3.9 .5 -.3 .5 -.8 .5 -5.8 .5 4.9 .5 1.3 .5 .4 .5 -4.1 .5 2.7 .5 -1.3 .5 .5 .5 4.7 .5 -4.6 .5 1.9 .5 2.3 .5 -3.6 .5 1.2 .5 .6 .5 -.1 .5 -3.2 .5 3.3 .5 3.2 .5 -7.2 .5 6 .5 -1.8 .5 -1.9 .5 6.7 .5 -3.1 .5 -4.9 .5 3.2 .5 1.3 .5 -1.9 .5 2.2 .5 -1.8 .5 1.9 .5 1.9 .5 -5.2 .5 2.2 .5 -1.6 .5 1.5 .5 -3.3 .5 1.6 .5 .9 .5 2.8 .5 .7 .5 -6.2 .5 1.4 .5 3.6 .5 -6.5 .5 3.8 .5 1 .5 3.4 .5 -1.4 .5 -2.5 .5 -.1 .5 .3 .5 4.5 .5 -4.8 .5 .3 .5 1.7 .5 -1.2 .5 -.1 .5 -2.3 .5 2.8 .5 -1 .5 4 .5 -1.2 .5 -1.7 .5 1.8 .5 -2.5 .5 3.5 .5 -2.6 .5 1.5 .5 -4.6 .5 4.1 .5 -5 .5 -.9 .5 4.4 .5 -1.4 .5 2.7 .5 5.2 .5 -7.7 .5 .6 .5 2.1 .5 .8 .5 -1.7 .5 0 .5 2.3 .5 -.4 .5 -3.8 .5 2.4 .5 .3 .5 -2.6 .5 3.3 .5 -2.8 .5 4.7 .5 -1.9 .5 -.2 .5 -1.7 .5 1.2 .5 -4.6 .5 2.2 .5 3.8 .5 -6.2 .5 7.5 .5 -6.5 .5 6.4 .5 -4 .5 4.1 .5 -1.6 .5 -4.1 .5 7 .5 .6 .5 -3.8 .5 -.4 .5 .3 .5 -2 .5 5.3 .5 -4.1 .5 1.3 .5 -1.8 .5 .5 .5 -1.6 .5 6.4 .5 -3.5 .5 2.9 .5 -2.4 .5 -1.7 .5 1 .5 -.5 .5 1.4 .5 -.9 .5 .3 .5 -2.7 .5 1.5 .5 6.2 .5 -5.7 .5 -.9 .5 3.5 .5 2.7 .5 -7.1 .5 3.2 .5 -1 .5 -2.8 .5 6.3 .5 -1.8 .5 .3 .5 -2 .5 3 .5 -2.4 .5 1.1 .5 -2.4 .5 -.2 .5 6.4 .5 -4.5 .5 2 .5 -.7 .5 -1 .5 -.1 .5 2.9 .5 -2.3 .5 .5 .5 .5 .5 2.9 .5 -1.2 .5 -.7 .5 -2.3 .5 -2 .5 5.9 .5 .1 .5 -2.7 .5 1.8 .5 .6 .5 .2 .5 .3 .5 -3.4 .5 5 .5 -6.9 .5 5.4 .5 -.9 .5 1 .5 2.6 .5 -.9 .5 -6.5 .5 -1.3 .5 6.3 .5 -4.5 .5 2.5 .5 2.2 .5 -6.1 .5 -1.1 .5 5.9 .5 -.4 .5 -.7 .5 .8 .5 -2.2 .5 -1.6 .5 3.5 .5 -2 .5 -1.6 .5 5.4 .5 -1.3 .5 1.2 .5 -3.4 .5 .9 .5 -.8 .5 .3 .5 2.8 .5 -2.4 .5 2.9 .5 .1 .5 4.2 .5 -8.4 .5 5.7 .5 -2.4 .5 .3 .5 -3.5 .5 2.5 .5 3.1 .5 -2 .5 .5 .5 -.9 .5 3.7 .5 -2.9 .5 -5.4 .5 3.9 .5 -3.2 .5 -3.1 .5 6.9 .5 4.7 .5 -3.2 .5 -3 .5 .7 .5 5.2 .5 -2.3 .5 -.2 .5 -.2 .5 .3 .5 1.9 .5 -.5 .5 -.8 .5 -3.1 .5 4 .5 -3 .5 4.5 .5 -5.8 .5 2.9 .5 .4 .5 -3.3 .5 7.7 .5 -.6 .5 -4.7 .5 3.1 .5 -.9 .5 -7.4 .5 7.2 .5 -.7 .5 .4 .5 -2.8 .5 2.1 .5 .2 .5 3.5 .5 -2.1 .5 -.7 .5 3.8 .5 -5.1 .5 .5 .5 -3.5 .5 8.5 .5 -1.5 .5 0 .5 -.6 .5 -1.3 .5 .3 .5 -1.1 .5 .1 .5 .7 .5 3.7 .5 -2.3 .5 -1.5 .5 -1.2 .5 -.1 .5 5.6 .5 -2.6 .5 -1.1 .5 -1 .5 -1.8 .5 2.6 .5 2.4 .5 -3.1 .5 .5 .5 .1 .5 .9 .5 -4.2 .5 3.4 .5 -1.5 .5 4.4 .5 -4.1 .5 3.4 .5 2.5 .5 -4.6 .5 -.6 .5 2 .5 -.4 .5 -2.5 .5 3.7 .5 4 .5 -5.7 .5 .2 .5 -2 .5 3.4 .5 -3.8 .5 .4 .5 6 .5 -5.4 .5 5 .5 1.2 .5 -3.2 .5 .8 .5 3.6 .5 -5.3 .5 -1 .5 -1.8 .5 3.5 .5 3.7 .5 -1.3 .5 -4.7 .5 .3 .5 .9 .5 2 .5 -1.2 .5 1.1 .5 .3 .5 -1.4 .5 .6 .5 .7 .5 -.7 .5 1.6 .5 3.4 .5 -3.1 .5 -1.3 .5 -4.3 .5 5.2 .5 -5.8 .5 1.4 .5 5.7 .5 -.3 .5 -2.1 .5 -3.9 .5 3.4 .5 -.7 .5 3.4 .5 4.1 .5 -5.1 .5 -2.4 .5 -1 .5 2.9 .5 -.3 .5 -2.4 .5 3.2 .5 -3.1 .5 5.7 .5 -.1 .5 .1 .5 -3.8 .5 2.5 .5 -1.6 .5 -.6 .5 .2 .5 -2.4 .5 -.3 .5 5.6 .5 -2.4 .5 1.1 .5 2 .5 -6.8 .5 2.4 .5 2.5 .5 .5 .5 -1.8 .5 3.5 .5 -2 .5 -3.5 .5 .7 .5 4.4 .5 -.8 .5 -5.8 .5 8.1 .5 -1.8 .5 1.9 .5 -4.3 .5 .3 .5 -2.1 .5 9.2 .5 -6.7 .5 4.4 .5 -5.5 .5 2.1 .5 -4.6 .5 3.3 .5 3.4 .5 -5.5 .5 5.8 .5 -1.8 .5 -3.4 .5 1.4 .5 .2 .5 1 .5 -1.1 .5 -.7 .5 1.3 .5 -1.8 .5 -.6 .5 3.2 .5 2.3 .5 -6 .5 3.9 .5 -1.6 .5 -.8 .5 4.7 .5 -3.4 .5 5.1 .5 -5.7 .5 2.9 .5 -1.4 .5 -1.3 .5 3.4 .5 -1.9 .5 2 .5 -1.6 .5 -2.6 .5 2.5 .5 .4 .5 2.3 .5 -4.6 .5 2.2 .5 -4.1 .5 5.9 .5 -4.3 .5 -1.7 .5 4.4 .5 2.9 .5 -6.5 .5 1.1 .5 .9 .5 -.9 .5 3.8 .5 -3 .5 .3 .5 3.3 .5 -3.3 .5 3 .5 -3.5 .5 -.6 .5 -1.5 .5 9.3 .5 -5.4 .5 1.4 .5 -.7 .5 .6 .5 -.3 .5 4.7 .5 -7.3 .5 -1.3 .5 1.4 .5 -.8 .5 5.2 .5 .3 .5 -4.5 .5 -1 .5 2.6 .5 4.4 .5 -10.5 .5 8.4 .5 -4 .5 5.4 .5 -5.3 .5 2 .5 -3 .5 1.3 .5 6 .5 -1.4 .5 -3 .5 -1.2 .5 -2.5 .5 3.8 .5 .9 .5 -.1 .5 0 .5 -2.5 .5 2.7 .5 .1 .5 3.3 .5 1.5 .5 -5 .5 -1.5 .5 1.8 .5 -1.4 .5 -.3 .5 1.8 .5 -2.4 .5 4.1 .5 -1.7 .5 .9 .5 -1.1 .5 -1.3 .5 -.5 .5 1.8 .5 -.7 .5 1.9 .5 -.5 .5 -3.4 .5 3.6 .5 -3.5 .5 1.9 .5 .8 .5 -4.4 .5 5.4 .5 .2 .5 -.7 .5 -.7 .5 .2 .5 -1.5 .5 1.8 .5 -.7 .5 1.7 .5 -3.2 .5 3.6 .5 -.2 .5 -.7 .5 -.7 .5 2.5 .5 -5.5 .5 5.3 .5 -.5 .5 .1 .5 .3 .5 -2.6 .5 1 .5 2.3 .5 -.5 .5 -.5 .5 -4.3 .5 5.2 .5 1.6 .5 -.4 .5 -1.9 .5 -4.5 .5 6.3 .5 -2.7 .5 -6 .5 0 .5 7.3 .5 -4.6 .5 .5 .5 1.6 .5 4.8 .5 -4.1 .5 1.6 .5 3.7 .5 -.3 .5 -4.3 .5 -.3 .5 -2.5 .5 1.4 .5 2.8 .5 -.1 .5 -.7 .5 2.2 .5 -4.4 .5 1.8 .5 2 .5 -.4 .5 1.3 .5 -1.7 .5 -1.8 .5 1.7 .5 -3.4 .5 -1.6 .5 5.5 .5 -1.5 .5 .9 .5 -5 .5 3.3 .5 -.6 .5 -.7 .5 -3.4 .5 4.8 .5 3 .5 -1.2 .5 -2.5 .5 1.5 .5 1.9 .5 -8.8 .5 6.6 .5 1.7 .5 .3 .5 2.6 .5 -1.5 .5 -2 .5 0 .5 1.2 .5 -3.3 .5 1.2 .5 2.4 .5 2.6 .5 -5.3 .5 .3 .5 .6 .5 2.9 .5 -3.5 .5 3.8 .5 -6.1 .5 1.9 .5 0 .5 2.5 .5 .6 .5 -6.4 .5 1.5 .5 3.1 .5 -2.4 .5 -2.2 .5 6.4 .5 -1.4 .5 0 .5 -2.4 .5 3.8 .5 -3.2 .5 3.3 .5 -5 .5 .2 .5 2.6 .5 -2.3 .5 3.5 .5 -1 .5 -3 .5 2.5 .5 -1.1 .5 3.2 .5 -3.9 .5 .5 .5 4.1 .5 2.6 .5 -.6 .5 -4.8 .5 .3 .5 3.3 .5 -4.1 .5 -2.1 .5 2.7 .5 .8 .5 -3.2 .5 -2 .5 .5 .5 5.3 .5 -3.6 .5 1.5 .5 .9 .5 1 .5 -2.3 .5 2 .5 -3.4 .5 1.3 .5 -1.7 .5 5.4 .5 -2.9 .5 -1.8 .5 1 .5 .3 .5 2.3 .5 -5.7 .5 1.4 .5 1.6 .5 7.3 .5 -4 .5 -2.6 .5 2 .5 3.3 .5 -5.7 .5 -.3 .5 3.9 .5 -1.8 .5 .4 .5 -3 .5 6.1 .5 -.6 .5 -2.9 .5 .3 .5 -6.9 .5 6.7 .5 -2.2 .5 1.6 .5 .5 .5 -2.6 .5 -3.4 .5 5.1 .5 -2.8 .5 .9 .5 -.7 .5 .6 .5 -5 .5 8.8 .5 -2.5 .5 2.1 .5 2.1 .5 -5 .5 -4.6 .5 2.2 .5 -.8 .5 1.7 .5 1.4 .5 -5.3 .5 5.8 .5 -4.7 .5 4.5 .5 -1.1 .5 -.5 .5 .5 .5 -1.2 .5 -.2 .5 -2.8 .5 4.1 .5 4.7 .5 .3 .5 -1.7 .5 -1.6 .5 -3.5 .5 5.3 .5 -3.8 .5 -.1 .5 -.6 .5 1 .5 -1.4 .5 .9 .5 -2.6 .5 1.8 .5 6.6 .5 -5.9 .5 -.5 .5 1.9 .5 .5 .5 -4.6 .5 2.2 .5 2.8 .5 -1.6 .5 -.4 .5 3.6 .5 -5.7 .5 1.9 .5 -1.5 .5 5 .5 -8.6 .5 3.1 .5 .4 .5 2.9 .5 -.1 .5 1.9 .5 -7.5 .5 5.8 .5 -2.6 .5 -1 .5 2.9 .5 -3.6 .5 -3 .5 4.2 .5 -2.9 .5 2.1 .5 2.5 .5 -.2 .5 3.1 .5 -4.6 .5 -3.4 .5 1.9 .5 -.5 .5 -.9 .5 4.1 .5 -2.8 .5 -3.5 .5 6.6 .5 -2.1 .5 1 .5 -.7 .5 1.1 .5 -1.6 .5 2.9 .5 -2.2 .5 -.2 .5 -.1 .5 -4.8 .5 3.1 .5 -.4 .5 1 .5 -4 .5 7.3 .5 -4 .5 -3.4 .5 -1.4 .5 3.4 .5 .3 .5 -1.7 .5 1.8 .5 -2 .5 2.8 .5 -3.3 .5 1.5 .5 2.4 .5 3.8 .5 -9.1 .5 1.2 .5 -1.1 .5 3.9 .5 -5 .5 1.4 .5 1 .5 -2.6 .5 -.1 .5 1 .5 -4.2 .5 1.4 .5 2.4 .5 1.2 .5 -1 .5 -4.2 .5 3.1 .5 3 .5 -.9 .5 -1.8 .5 -2.2 .5 3.6 .5 -3.2 .5 -1.7 .5 .7 .5 5.4 .5 -3.3 .5 2.1 .5 -4.3 .5 3.3 .5 -4.1 .5 .8 .5 6.4 .5 -4.5 .5 -3.5 .5 .8 .5 .8 .5 1.9 .5 -4.5 .5 -3.4 .5 3.4 .5 .5 .5 -.1 .5 2.8 .5 -2.8 .5 .9 .5 -5.1 .5 4.7 .5 2.7 .5 -3.6 .5 -1.6 .5 -.5 .5 3.8 .5 -7.1 .5 1.7 .5 1.1 .5 .4 .5 -3.2 .5 1.5 .5 -1.8 .5 .7 .5 -.9 .5 -2.9 .5 2.5 .5 2 .5 -5 .5 1.5 .5 2 .5 -4.7 .5 2.9 .5 -3.4 .5 5.1 .5 2.7 .5 -1 .5 -6 .5 2.1 .5 -1.8 .5 -.4 .5 3.4 .5 -7.5 .5 5.6 .5 -3 .5 3.3 .5 -3.3 .5 -2.5 .5 2.1 .5 .9 .5 -2.1 .5 .8 .5 -2.8 .5 -4.3 .5 7.3 .5 -.8 .5 -1.7 .5 -.5 .5 2.1 .5 -4 .5 -.9 .5 1 .5 3.1 .5 -6.8 .5 6.2 .5 -4.9 .5 -1.5 .5 5.6 .5 -3.7 .5 -3.3 .5 2.1 .5 2.9 .5 .3 .5 -4.3 .5 1.7 .5 .5 .5 -3.7 .5 2.2 .5 -1.3 .5 -1.6 .5 -.2 .5 1.1 .5 -.4 .5 -1.8 .5 0 .5 3.5 .5 -2.6 .5 1.4 .5 .4 .5 -1.8 .5 3.8 .5 -8 .5 3.7 .5 -3.1 .5 5.1 .5 -.8 .5 -9.5 .5 2.1 .5 3.8 .5 -.1 .5 -.5 .5 -2.4 .5 .9 .5 .1 .5 -2.2 .5 2.3 .5 -8.6 .5 6.8 .5 -4.6 .5 4.5 .5 -3.5 .5 -2.1 .5 2.7 .5 -3.7 .5 -.5 .5 -2.2 .5 3.3 .5 .8 .5 .8 .5 -3.5 .5 2.4 .5 -3.1 .5 -.8 .5 1.1 .5 .6 .5 -4 .5 -.3 .5 -.4 .5 .1 .5 -3 .5 4.3 .5 -4.1 .5 1.7 .5 -3.7 .5 2.5 .5 -.3 .5 -2.5 .5 5.7 .5 -4.5 .5 3.2 .5 -2.3 .5 -4.4 .5 .4 .5 1.8 .5 -1.1 .5 -.2 .5 -1.1 .5 -3.9 .5 3.8 .5 -5.1 .5 6.4 .5 -2.8 .5 0 .5 1.2 .5 1.3 .5 -4.3 .5 -.7 .5 1.7 .5 .3 .5 6.5 .5 -6.5 .5 4.4 .5 -5 .5 4.3 .5 -1.4 .5 .8 .5 1.7 .5 3.1 .5 -3.8 .5 0 .5 -2.6 .5 4 .5 -1.9 .5 2.9 .5 -2.1 .5 4.6 .5 -9.1 .5 4.3 .5 3.1 .5 -2.9 .5 -.9 .5 1.4 .5 -2.6 .5 3.9 .5 5.9 .5 -3 .5 -5.5 .5 .7 .5 1.3 .5 3.7 .5 -4.4 .5 .4 .5 4.1 .5 .1 .5 -2.9 .5 -1.8 .5 -.9 .5 2.3 .5 -3.7 .5 7.6 .5 -3.3 .5 2.9 .5 3.6 .5 -1.6 .5 -5.6 .5 5.1 .5 .9 .5 -4.6 .5 -.4 .5 2.3 .5 -3.6 .5 7.9 .5 -9.6 .5 3.4 .5 2.3 .5 .3 .5 1.1 .5 .5 .5 -1.1 .5 3.6 .5 -8 .5 5.5 .5 -1.6 .5 2.3 .5 .4 .5 -2.6 .5 .8 .5 3.8 .5 -.9 .5 -2.3 .5 7 .5 .9 .5 -9.3 .5 4.7 .5 5.7 .5 -4.1 .5 -1.2 .5 -.8 .5 -.6 .5 1 .5 -.6 .5 3.5 .5 -2.6 .5 .1 .5 -1.7 .5 3.1 .5 -1.8 .5 2 .5 3.3 .5 -1.5 .5 .6 .5 -.2 .5 -.5 .5 -.2 .5 -.3 .5 2.9 .5 -4.4 .5 6.3 .5 -3 .5 -1.8 .5 .9 .5 -.3 .5 2.3 .5 -2 .5 4.8 .5 -4.6 .5 -3.5 .5 4 .5 -3 .5 5.1 .5 2.9 .5 -.9 .5 -4.7 .5 1.6 .5 6.5 .5 -3.5 .5 -.6 .5 2.8 .5 3.6 .5 -2.7 .5 -2.7 .5 .7 .5 .8 .5 -2.9 .5 -1 .5 3 .5 -2.4 .5 2.4 .5 .6 .5 5.8 .5 -7.9 .5 2 .5 .1 .5 1.7 .5 1.7 .5 -3.7 .5 -.6 .5 -1.9 .5 2 .5 3.8 .5 -1 .5 -2.5 .5 1.8 .5 1.2 .5 1.4 .5 -2.5 .5 1 .5 -3.7 .5 1.9 .5 7.1 .5 -9.3 .5 4.9 .5 1.6 .5 -1.3 .5 -.9 .5 2.1 .5 .4 .5 0 .5 -4.3 .5 4.6 .5 -1.5 .5 1 .5 2.1 .5 1.3 .5 .9 .5 -3.3 .5 3.8 .5 .9 .5 .1 .5 .9 .5 -3.6 .5 .2 .5 2.8 .5 -5.3 .5 4.2 .5 -1.6 .5 .7 .5 -3.2 .5 2.4 .5 2.4 .5 2.6 .5 .5 .5 -2.4 .5 0 .5 -1.4 .5 3.4 .5 -1.4 .5 2.5 .5 3.1 .5 -4.2 .5 -3.4 .5 1.9 .5 -1.2 .5 1 .5 6.5 .5 -2.4 .5 -4 .5 5.7 .5 1.9 .5 -3.8 .5 -.4 .5 1.1 .5 1.9 .5 1.2 .5 1.7 .5 .4 .5 .3 .5 .8 .5 -1.4 .5 -5.2 .5 3.8 .5 1.5 .5 -1.4 .5 3.5 .5 -2.9 .5 -1.1 .5 6.3 .5 -1.7 .5 -.8 .5 2.1 .5 .6 .5 -1.5 .5 -6.7 .5 4.7 .5 .8 .5 -1.1 .5 3.2 .5 2.7 .5 -3.9 .5 -1.4 .5 8.1 .5 -6 .5 -1.8 .5 3.9 .5 .7 .5 -2.7 .5 3.9 .5 -3 .5 -.9 .5 2.9 .5 1.6 .5 -3.3 .5 2.5 .5 -.9 .5 7.5 .5 -8.7 .5 5.4 .5 -3.5 .5 0 .5 2.2 .5 .6 .5 1.1 .5 -2.3 .5 -2.1 .5 .2 .5 2.8 .5 .3 .5 2.2 .5 -2.3 .5 1.7 .5 1.3 .5 -3.3 .5 -4 .5 .9 .5 -.5 .5 7.7 .5 -6 .5 5.4 .5 -1.5 .5 2.9 .5 -1.6 .5 -2.6 .5 -.1 .5 .8 .5 .4 .5 -1.7 .5 1.4 .5 4.2 .5 -8.1 .5 5 .5 -2.7 .5 2.8 .5 1.8 .5 -2.1 .5 2.2 .5 -5.8 .5 6.9 .5 -4.1 .5 3.2 .5 -1 .5 -6.8 .5 4.7 .5 2.6 .5 3.5 .5 -3.1 .5 .1 .5 -4.1 .5 7.3 .5 1 .5 -4.3 .5 -.5 .5 -3.4 .5 6.4 .5 4.7 .5 -4.8 .5 1.4 .5 -1.6 .5 -3.7 .5 5.9 .5 -6.3 .5 2.6 .5 1.4 .5 1.6 .5 -1.1 .5 .1 .5 -2.8 .5 -1.2 .5 3.5 .5 -1.8 .5 -1.4 .5 .2 .5 2 .5 -3.3 .5 1.4 .5 -.6 .5 4.6 .5 .7 .5 4.1 .5 -8.7 .5 2.1 .5 4.1 .5 -2.7 .5 -.2 .5 5.2 .5 -5 .5 -2 .5 -.3 .5 4.2 .5 0 .5 -4.1 .5 1.1 .5 3.9 .5 .2 .5 -3 .5 3.3 .5 -.1 .5 -5.8 .5 3.8 .5 1.9 .5 -2.4 .5 -3.8 .5 4.7 .5 2.7 .5 2.1 .5 -9.3 .5 12.1 .5 -9.3 .5 5.3 .5 .8 .5 -.6 .5 -2 .5 -3.2 .5 4.6 .5 -3.3 .5 -4.4 .5 13.4 .5 -5.2 .5 2.8 .5 -6.7 .5 6 .5 .4 .5 0 .5 -3.9 .5 -2.9 .5 2.7 .5 -5 .5 1.3 .5 4.6 .5 -2.7 .5 2.2 .5 .2 .5 5.2 .5 -1.6 .5 -3.2 .5 3.2 .5 -4.9 .5 1.1 .5 3.2 .5 -5.3 .5 2.5 .5 -2.6 .5 3.7 .5 3.9 .5 -5.9 .5 2.5 .5 -2.8 .5 -.5 .5 -.2 .5 6.8 .5 2.3 .5 -4.6 .5 -2.9 .5 3.6 .5 -2.6 .5 2.9 .5 -1.2 .5 0 .5 .9 .5 -2.9 .5 .5 .5 -3.2 .5 3.2 .5 -2.4 .5 3.3 .5 -2 .5 2.7 .5 .9 .5 -4.6 .5 1.6 .5 -.3 .5 4.3 .5 2.4 .5 -2.1 .5 -2.9 .5 4.6 .5 -7.4 .5 7.5 .5 -5.3 .5 -5.3 .5 13.7 .5 -2.7 .5 -6.4 .5 3 .5 -.9 .5 .8 .5 -3.9 .5 2.1 .5 2.9 .5 -.6 .5 2.5 .5 -2.7 .5 5.7 .5 -7.6 .5 2.5 .5 -5.4 .5 1.7 .5 6.5 .5 -5.7 .5 3.8 .5 -1.5 .5 -2.4 .5 1.8 .5 -.4 .5 .1 .5 3.2 .5 -.2 .5 -3.1 .5 -.7 .5 3 .5 -.9 .5 2.8 .5 4.1 .5 -4.5 .5 -2.1 .5 -.3 .5 -1.7 .5 -.1 .5 -.2 .5 1.6 .5 0 .5 2.9 .5 -2.8 .5 .5 .5 -2.5 .5 7.2 .5 -2.8 .5 3.3 .5 -2.5 .5 1.8 .5 -4.3 .5 2.4 .5 5 .5 -9.8 .5 6.1 .5 1.3 .5 -3.1 .5 .9 .5 1.3 .5 -4.9 .5 2.8 .5 -3.3 .5 .6 .5 .1 .5 1.3 .5 .8 .5 .8 .5 -4.8 .5 8.7 .5 -2 .5 -1.1 .5 -2.8 .5 .8 .5 1.6 .5 -.3 .5 -5.3 .5 6.2 .5 5.6 .5 -12.2 .5 7.3 .5 -1.6 .5 -1.2 .5 3.8 .5 -6.5 .5 3.5 .5 3.4 .5 -4.3 .5 -.5 .5 1.4 .5 -1.5 .5 5.2 .5 -6.3 .5 4.6 .5 -5.5 .5 5 .5 -2 .5 -6.3 .5 6.6 .5 -2.7 .5 1.6 .5 5.1 .5 -6.8 .5 .2 .5 6.4 .5 -3.4 .5 3.7 .5 -3.1 .5 -3.1 .5 2.1 .5 3.3 .5 -.7 .5 -2.4 .5 .2 .5 -.5 .5 -1.1 .5 6.4 .5 -4.9 .5 -2.9 .5 1.7 .5 3.1 .5 -.2 .5 -2 .5 -1.4 .5 1.8 .5 -4.3 .5 .9 .5 5.4 .5 -3.2 .5 2.2 .5 2.1 .5 -1.4 .5 -1.6 .5 5.4 .5 -3.7 .5 -2.7 .5 2.8 .5 -.8 .5 -3.2 .5 2.4 .5 -.6 .5 -4.6 .5 4.6 .5 -.3 .5 -.4 .5 -3.1 .5 3.3 .5 .9 .5 .3 .5 -3.1 .5 4.5 .5 -4.7 .5 2.5 .5 4 .5 -5.1 .5 .4 .5 4.1 .5 -3.7 .5 .2 .5 1.4 .5 2.1 .5 -8.3 .5 3.5 .5 -.5 .5 -.1 .5 .6 .5 0 .5 3 .5 -3.1 .5 2.6 .5 .7 .5 -2.8 .5 2.2 .5 3.9 .5 -3.4 .5 -2.4 .5 1.4 .5 -2.1 .5 3 .5 1.6 .5 -4.3 .5 1.5 .5 3.4 .5 -4.1 .5 1.8 .5 -3.1 .5 .6 .5 .8 .5 6.7 .5 -6.4 .5 -.3 .5 0 .5 1 .5 2.1 .5 -1.2 .5 4.7 .5 -4.6 .5 3.1 .5 -2.9 .5 .9 .5 -5.1 .5 3.3 .5 .2 .5 -.4 .5 -4.8 .5 7.7 .5 -3.2 .5 -.1 .5 .5 .5 .1 .5 1.6 .5 -4.1 .5 .9 .5 3.1 .5 -.4 .5 -1.2 .5 -.5 .5 -.6 .5 2 .5 3.1 .5 -5.5 .5 6.5 .5 -1.7 .5 -3.2 .5 3.2 .5 -5.6 .5 -.6 .5 1.1 .5 2.3 .5 .2 .5 -.4 .5 1.6 .5 -5.6 .5 6.6 .5 -4.7 .5 1.9 .5 .7 .5 -1.8 .5 -.5 .5 1 .5 2.5 .5 1.5 .5 0 .5 -3.8 .5 .5 .5 -.2 .5 3.4 .5 -6.1 .5 8.2 .5 -4.3 .5 -.7 .5 2.9 .5 1.7 .5 -1.6 .5 1.8 .5 -2.3 .5 2.8 .5 .1 .5 -3.3 .5 3.9 .5 -3.2 .5 -.1 .5 -2.5 .5 1.6 .5 2.7 .5 -5.2 .5 5 .5 -.8 .5 -.1 .5 -6.2 .5 5.3 .5 1.9 .5 -3.5 .5 2.2 .5 -6.1 .5 7.6 .5 -3.3 .5 3.9 .5 -6.8 .5 6.4 .5 -2.3 .5 2.6 .5 -4.3 .5 .8 .5 7.2 .5 -7.7 .5 .4 .5 1.1 .5 -1.9 .5 5.6 .5 1.3 .5 -6 .5 -2.5 .5 7.2 .5 -.1 .5 -.7 .5 .8 .5 -5 .5 1.8 .5 -3.1 .5 0 .5 6 .5 -4.1 .5 7.4 .5 -5.5 .5 -1.8 .5 3.6 .5 2.5 .5 -3.2 .5 -4.3 .5 4 .5 2.6 .5 -4.7 .5 -.7 .5 4.5 .5 -2.2 .5 -3.1 .5 1.9 .5 -1 .5 2.7 .5 -.5 .5 2.7 .5 -1.1 .5 -5.7 .5 4.9 .5 1.3 .5 -1.1 .5 1.4 .5 -3.9 .5 -1 .5 4.7 .5 -4.9 .5 -2.8 .5 8 .5 -4.3 .5 1 .5 -2.7 .5 .2 .5 .4 .5 2 .5 1.9 .5 -6.7 .5 7.7 .5 -4.9 .5 .3 .5 4.4 .5 -1.9 .5 -3.6 .5 8.5 .5 -6.8 .5 2.8 .5 -.1 .5 3 .5 -4.6 .5 3.6 .5 -4.3 .5 4.6 .5 -4.7 .5 1 .5 5.7 .5 -3.9 .5 -.5 .5 5.3 .5 -4.7 .5 -2.9 .5 3.8 .5 -4.7 .5 5.7 .5 .2 .5 -4.4 .5 -.1 .5 2 .5 -.4 .5 -2.5 .5 3.9 .5 -6.5 .5 4 .5 .1 .5 .3 .5 1.4 .5 -3.8 .5 4.6 .5 -2 .5 -1.1 .5 -1.8 .5 .4 .5 3.9 .5 -3.3 .5 2.6 .5 2.5 .5 -.1 .5 1.3 .5 -4.6 .5 -2 .5 5.3 .5 -1.8 .5 2 .5 -2.8 .5 3 .5 -.9 .5 -.3 .5 -.5 .5 -.3 .5 -.4 .5 0 .5 1.9 .5 -3.8 .5 5.6 .5 -4.6 .5 2.8 .5 -2.7 .5 -.4 .5 5.7 .5 -5.9 .5 -2.4 .5 1.4 .5 1 .5 6.2 .5 -4.9 .5 1.8 .5 -4.8 .5 3.4 .5 .8 .5 2.8 .5 -6.2 .5 3.2 .5 -.7 .5 -3.4 .5 2.6 .5 -.7 .5 -5.1 .5 7.3 .5 -.1 .5 -2.5 .5 -2.2 .5 7 .5 -3 .5 1.8 .5 1 .5 -4.8 .5 3.3 .5 -2.6 .5 .4 .5 0 .5 .2 .5 2.8 .5 -2.5 .5 -.7 .5 -.3 .5 1.6 .5 -3.1 .5 .9 .5 1.2 .5 -1.3 .5 1.1 .5 -1.2 .5 6.5 .5 -1.7 .5 -2.2 .5 -1.2 .5 5.6 .5 -4.7 .5 -1 .5 1 .5 0 .5 2.7 .5 -3.5 .5 5.2 .5 -7.4 .5 3.9 .5 -4.2 .5 7 .5 -5.3 .5 .7 .5 2.4 .5 .8 .5 -5.9 .5 1.9 .5 -2.6 .5 3.8 .5 -.6 .5 -.6 .5 -.8 .5 .7 .5 -.9 .5 3.2 .5 2.5 .5 -8.6 .5 4.5 .5 -.8 .5 2.3 .5 -3.6 .5 2 .5 -2.2 .5 4.3 .5 -1.5 .5 -.6 .5 1.3 .5 -1.6 .5 -3.2 .5 5.3 .5 -.8 .5 -1.1 .5 2.9 .5 .6 .5 -5.8 .5 .7 .5 5.8 .5 -.3 .5 -5.4 .5 -1.1 .5 1.3 .5 .4 .5 -2.7 .5 4 .5 -3.3 .5 .2 .5 5.3 .5 -4 .5 1.5 .5 1.7 .5 .5 .5 -2.9 .5 .9 .5 -2.2 .5 6.4 .5 -2.7 .5 -4.4 .5 2.7 .5 1.8 .5 -.6 .5 3.4 .5 -1.2 .5 -4.8 .5 1.1 .5 -3 .5 3.8 .5 -.2 .5 6.3 .5 -6.5 .5 -5.5 .5 3.6 .5 1.9 .5 -3.4 .5 .9 .5 1.3 .5 1.7 .5 -1.3 .5 -1.8 .5 4.2 .5 -3.3 .5 0 .5 -2.2 .5 1.5 .5 3.6 .5 -5.7 .5 3.8 .5 2 .5 -2.8 .5 1.6 .5 -3.4 .5 6 .5 -.5 .5 -2.2 .5 -5 .5 1.8 .5 5 .5 1.8 .5 -3.5 .5 2.3 .5 -4.6 .5 1 .5 .5 .5 1 .5 -4.9 .5 6.2 .5 .9 .5 -6.2 .5 -.5 .5 4.2 .5 -2.5 .5 -4.3 .5 7.9 .5 -1.6 .5 -1.6 .5 6.5 .5 -5 .5 -2.2 .5 2.1 .5 -2.9 .5 .7 .5 2.9 .5 -2.4 .5 .3 .5 5.2 .5 -2 .5 -.1 .5 -.7 .5 -.2 .5 2.5 .5 -3.7 .5 4.6 .5 -7 .5 1.7 .5 -2.8 .5 2.6 .5 2.1 .5 2.3 .5 -5.3 .5 1.7 .5 -.9 .5 -1 .5 -1.1 .5 3.1 .5 -4.5 .5 4.6 .5 -.2 .5 -1.7 .5 -.9 .5 -1 .5 8.1 .5 -8 .5 7.2 .5 -2.4 .5 -2.4 .5 -2 .5 5.5 .5 1.7 .5 -6.7 .5 1.6 .5 3.4 .5 -1.8 .5 4.1 .5 -6.4 .5 2.8 .5 -4.5 .5 8.3 .5 -7.1 .5 -3.7 .5 5.2 .5 0 .5 5.1 .5 -5.6 .5 .8 .5 1.5 .5 2.4 .5 -4.1 .5 2.7 .5 -1.3 .5 -2 .5 .9 .5 -.1 .5 -2.4 .5 5.3 .5 -6.5 .5 6.4 .5 -.6 .5 -2.6 .5 -1.7 .5 1.3 .5 1.8 .5 .6 .5 -1.1 .5 1.7 .5 -3.9 .5 2 .5 -4.5 .5 5.8 .5 -1.5 .5 -1.5 .5 4 .5 -1.2 .5 -8.8 .5 7.1 .5 -3.7 .5 6.3 .5 3.5 .5 -7.5 .5 1.4 .5 -.8 .5 1.5 .5 .7 .5 1.6 .5 -5.7 .5 6.4 .5 -6.3 .5 3 .5 2.2 .5 -1.1 .5 -4.1 .5 .5 .5 .6 .5 1 .5 3 .5 -6.1 .5 4.4 .5 .3 .5 -.1 .5 -.3 .5 2.6 .5 -2.5 .5 .9 .5 -.8 .5 3.1 .5 -9.3 .5 8 .5 -3.9 .5 -.1 .5 -1.7 .5 -2.3 .5 3.7 .5 -.8 .5 3 .5 -5 .5 7.3 .5 -2.9 .5 -1.4 .5 -1.1 .5 -.2 .5 -.9 .5 1.4 .5 1.4 .5 -.5 .5 -3.1 .5 2.9 .5 -1.6 .5 2.6 .5 4.2 .5 -3.1 .5 -2.3 .5 -3.3 .5 .5 .5 -.7 .5 6 .5 -3.8 .5 2.1 .5 -1.7 .5 1.7 .5 3.3 .5 -5.2 .5 .8 .5 -1.2 .5 4.2 .5 -4.7 .5 -.3 .5 -.7 .5 0 .5 4.6 .5 5.3 .5 -8.9 .5 4.8 .5 -1.8 .5 -3.3 .5 2 .5 .1 .5 -1.2 .5 6.6 .5 -9.6 .5 5.7 .5 -.1 .5 -2.3 .5 1.8 .5 1.8 .5 -1.8 .5 .6 .5 .7 .5 -6.8 .5 8.8 .5 2 .5 -3.3 .5 .1 .5 -6.1 .5 3.2 .5 -1.7 .5 .6 .5 3.8 .5 -4.4 .5 1.7 .5 -4.4 .5 4.3 .5 .7 .5 -2 .5 -.1 .5 6.6 .5 -7.8 .5 .4 .5 .6 .5 5.1 .5 2.2 .5 -4.4 .5 -2.6 .5 .7 .5 3.8 .5 -5 .5 5.9 .5 0 .5 -3.4 .5 1.5 .5 .2 .5 2.1 .5 -6.5 .5 5.6 .5 -3.9 .5 -1 .5 2.2 .5 -.8 .5 -1.9 .5 -1.5 .5 1.6 .5 6.1 .5 1.2 .5 -3.2 .5 1.3 .5 -4.2 .5 1.1 .5 .9 .5 -3.4 .5 .3 .5 2.7 .5 -1 .5 -1.9 .5 3.6 .5 -1.6 .5 3.3 .5 -2.6 .5 -.7 .5 1 .5 -.7 .5 -1.2 .5 .6 .5 2.9 .5 -.2 .5 1.6 .5 -7.5 .5 3.3 .5 -.1 .5 1.5 .5 -1.6 .5 -.1 .5 3.2 .5 -1.5 .5 -3.3 .5 6.2 .5 -.8 .5 -4 .5 3.5 .5 -3.9 .5 4.7 .5 -3.4 .5 -1.5 .5 1.1 .5 -1 .5 2.4 .5 0 .5 -.4 .5 -1.5 .5 -7.7 .5 9.3 .5 -4.9 .5 5.3 .5 2.2 .5 -2.1 .5 -1.7 .5 .5 .5 .1 .5 -1 .5 -.1 .5 -.9 .5 5.3 .5 -3 .5 2.4 .5 -3 .5 .8 .5 -.7 .5 1.6 .5 .9 .5 -1.5 .5 -2.3 .5 -.2 .5 6 .5 -4.8 .5 -.1 .5 4.4 .5 -.9 .5 -1.4 .5 -2.4 .5 6.9 .5 -4.9 .5 .3 .5 -1.8 .5 -3.1 .5 .2 .5 4.3 .5 0 .5 -1.6 .5 -2.4 .5 -.7 .5 2.8 .5 -2.8 .5 5.8 .5 .7 .5 4.1 .5 -4.9 .5 -3.7 .5 -.7 .5 -6.4 .5 7.1 .5 1 .5 2.9 .5 -1 .5 0 .5 -1 .5 1.1 .5 2 .5 -6.3 .5 1.5 .5 -2.4 .5 7.5 .5 -.8 .5 -1.4 .5 -4.9 .5 3.4 .5 -1 .5 .7 .5 -.7 .5 1.8 .5 -2.3 .5 3.1 .5 -1.6 .5 -1.3 .5 .4 .5 -.8 .5 3.1 .5 -2.8 .5 1.4 .5 -1.7 .5 -2.8 .5 6 .5 -4.9 .5 4.3 .5 -.7 .5 -5.2 .5 1.8 .5 1 .5 -.8 .5 -.9 .5 4.8 .5 -2.5 .5 1.5 .5 -2 .5 1.8 .5 -2.7 .5 1.8 .5 1.5 .5 -1.4 .5 -1.2 .5 -1.6 .5 3.1 .5 .4 .5 -1.5 .5 -1.3 .5 3.2 .5 4.8 .5 -7 .5 1.6 .5 .1 .5 -7.4 .5 6.7 .5 -2.1 .5 5.2 .5 -4.1 .5 -1.3 .5 1.3 .5 1 .5 -1.9 .5 1.3 .5 -3.3 .5 2.8 .5 2.5 .5 2.9 .5 -3.2 .5 -1.1 .5 2.3 .5 -.5 .5 1.6 .5 -1.5 .5 -3 .5 .9 .5 -.2 .5 .3 .5 -.3 .5 -2.5 .5 -3.3 .5 3.5 .5 -3.4 .5 5.2 .5 -.1 .5 -4.3 .5 5.9 .5 .4 .5 -1.9 .5 3.9 .5 .5 .5 -7.8 .5 5.6 .5 -1.5 .5 -.1 .5 1.3 .5 -4.2 .5 .3 .5 -.6 .5 .2 .5 1.6 .5 -3.4 .5 .9 .5 4.1 .5 -1.7 .5 1.1 .5 -5.7 .5 2.7 .5 .6 .5 1.4 .5 -1.6 .5 3.8 .5 -2.5 .5 .1 .5 0 .5 1.7 .5 -3 .5 4 .5 -1.7 .5 -.8 .5 -.4 .5 1.2 .5 1.2 .5 -.2 .5 -1.5 .5 1.2 .5 -1.9 .5 2.8 .5 -3.3 .5 -5.1 .5 8.5 .5 -3.2 .5 -3.2 .5 2.4 .5 -1.8 .5 7.4 .5 -4 .5 -5.3 .5 5.3 .5 -2.4 .5 5.7 .5 -7.5 .5 -3 .5 5.7 .5 -1.1 .5 -.2 .5 -4.3 .5 6.3 .5 3.1 .5 -9 .5 7.6 .5 -4.4 .5 7.3 .5 -4.9 .5 -1.6 .5 3.2 .5 -1.5 .5 -2.9 .5 3.2 .5 -3.1 .5 -3.2 .5 9.5 .5 -6 .5 -.7 .5 2.3 .5 -4.8 .5 .5 .5 2.1 .5 -.1 .5 1.4 .5 2.6 .5 -4.1 .5 2.4 .5 .2 .5 -4.2 .5 3.2 .5 -3 .5 5 .5 -1.6 .5 -1.1 .5 -3.5 .5 3.6 .5 -2.2 .5 3.6 .5 -2.1 .5 -1.7 .5 4.3 .5 -.6 .5 -3.3 .5 4.3 .5 -3.6 .5 -.1 .5 1 .5 -2.2 .5 .8 .5 .6 .5 4.2 .5 -.1 .5 -4.4 .5 4.6 .5 -4.1 .5 1 .5 1.3 .5 -1.5 .5 5.2 .5 -5.4 .5 -3.6 .5 6.2 .5 -4.3 .5 .3 .5 -6.8 .5 10 .5 -.5 .5 0 .5 .4 .5 1.8 .5 -4.4 .5 2.5 .5 -4.2 .5 1 .5 3.5 .5 -1.7 .5 -4.3 .5 4.2 .5 -1.3 .5 -1.6 .5 3.1 .5 -2.1 .5 -2.9 .5 1.2 .5 7.2 .5 -8.2 .5 4.4 .5 .9 .5 .1 .5 -4.6 .5 2.2 .5 1.2 .5 1.7 .5 -3.6 .5 -1.3 .5 5.4 .5 .3 .5 -1.8 .5 -2.5 .5 2.6 .5 -.7 .5 1.8 .5 -5.2 .5 3.4 .5 -.7 .5 -2.3 .5 3.3 .5 -.4 .5 -1.1 .5 2 .5 -4.5 .5 3.4 .5 1.3 .5 -.4 .5 2 .5 -5.7 .5 -.7 .5 4.4 .5 .5 .5 4.2 .5 -3.7 .5 -3.7 .5 4.2 .5 -4.1 .5 -1.6 .5 10.3 .5 -5.7 .5 1 .5 -.4 .5 3.1 .5 -3.8 .5 2.4 .5 -5.6 .5 -.9 .5 7.1 .5 .1 .5 -2.4 .5 -.7 .5 -.1 .5 -2.2 .5 5.6 .5 -2.2 .5 -.3 .5 -.3 .5 1.7 .5 -1.4 .5 .6 .5 -4.7 .5 4.2 .5 4.2 .5 -6.8 .5 1 .5 2.6 .5 .2 .5 -.8 .5 -5.6 .5 5.3 .5 -4.2 .5 .9 .5 3.5 .5 -2.1 .5 2.7 .5 5.9 .5 -5.9 .5 -.1 .5 -4 .5 .6 .5 -1 .5 1.3 .5 -1.4 .5 1.1 .5 1.2 .5 -2 .5 -1 .5 .1 .5 4.6 .5 -1 .5 2.5 .5 0 .5 -3.4 .5 2.5 .5 -5.2 .5 9.3 .5 -2.7 .5 -3.5 .5 -2.4 .5 3.9 .5 -5.6 .5 2.7 .5 3.9 .5 -1.7 .5 -1.4 .5 3.6 .5 -4.9 .5 3.3 .5 -2 .5 -.8 .5 3.3 .5 -3.7 .5 7.3 .5 -6.2 .5 6.4 .5 -7.7 .5 4.3 .5 -4.5 .5 -.3 .5 3.7 .5 1.3 .5 -4.8 .5 6.1 .5 -4.9 .5 2.3 .5 .6 .5 .6 .5 -6 .5 8.6 .5 -2.7 .5 -2.4 .5 -1.5 .5 -1.7 .5 .8 .5 4.8 .5 -2.2 .5 -2 .5 1.5 .5 5.3 .5 -4.8 .5 -.6 .5 4.8 .5 -2.2 .5 -1 .5 -1.6 .5 -2.4 .5 .9 .5 1.8 .5 .6 .5 1.5 .5 .4 .5 -.8 .5 0 .5 -3.1 .5 -2.8 .5 4 .5 -1.1 .5 .8 .5 .9 .5 -2.4 .5 .3 .5 2.5 .5 .6 .5 -2 .5 2.9 .5 -1.8 .5 -2 .5 2.6 .5 4.6 .5 -6.4 .5 4.6 .5 .5 .5 .3 .5 -5.8 .5 7 .5 -4.7 .5 -1 .5 .1 .5 2 .5 -1.4 .5 -.5 .5 3.6 .5 -5 .5 -.9 .5 4.6 .5 -.2 .5 .9 .5 -5.4 .5 5.4 .5 -1.6 .5 3.2 .5 -7.5 .5 3.6 .5 -1.2 .5 -3.3 .5 2.1 .5 4.6 .5 -4 .5 -.6 .5 3.9 .5 .3 .5 0 .5 -4.5 .5 1.8 .5 2.7 .5 -4.2 .5 -.3 .5 4 .5 1.8 .5 -6.8 .5 -3.6 .5 2.8 .5 1.1 .5 2.2 .5 1.8 .5 -1.9 .5 -1.4 .5 2.1 .5 -2.8 .5 2.3 .5 -1.5 .5 8.3 .5 -4.7 .5 -4.1 .5 -.4 .5 1.4 .5 -3 .5 2.2 .5 0 .5 4.1 .5 -3.3 .5 -.9 .5 -1.4 .5 .4 .5 2.8 .5 -.4 .5 3.4 .5 -4.4 .5 4.2 .5 -2 .5 -.7 .5 -5 .5 1.8 .5 5.1 .5 1.7 .5 -3 .5 1.4 .5 -2.9 .5 .1 .5 -.7 .5 4.1 .5 -1.6 .5 -1.4 .5 -.2 .5 2.2 .5 -.6 .5 -2.8 .5 6.4 .5 -3.7 .5 -.6 .5 3.7 .5 -1.1 .5 -2.8 .5 1.6 .5 -4 .5 1.1 .5 -4 .5 8.7 .5 -7.7 .5 6.4 .5 -3.7 .5 -.3 .5 1.9 .5 1.2 .5 .9 .5 2.9 .5 -3.5 .5 1.4 .5 -3.7 .5 3.3 .5 -1.3 .5 -1.6 .5 1 .5 .1 .5 .7 .5 .5 .5 -2.2 .5 -.6 .5 3.8 .5 -6.1 .5 2.8 .5 5.4 .5 -10.6 .5 5.1 .5 3.5 .5 -5.9 .5 10.7 .5 -12.9 .5 10.1 .5 .3 .5 -1.6 .5 -2.8 .5 1.5 .5 -3.1 .5 4.3 .5 -4.8 .5 2.1 .5 3.3 .5 -5.3 .5 1.9 .5 1.4 .5 -3.8 .5 6.3 .5 -2 .5 -4.6 .5 3.7 .5 -1.8 .5 .3 .5 1.9 .5 -2 .5 4.3 .5 -4.2 .5 4.3 .5 -2.6 .5 2.3 .5 -3.5 .5 .1 .5 -1.6 .5 4.4 .5 .9 .5 3 .5 -2 .5 -2.6 .5 -1.1 .5 1.5 .5 -1 .5 3.7 .5 -1.3 .5 -4.4 .5 .4 .5 5.2 .5 -2.7 .5 -1.3 .5 3.6 .5 -3.9 .5 .3 .5 -.5 .5 -3.7 .5 7.1 .5 -5.2 .5 1.7 .5 -.5 .5 3.7 .5 -1.9 .5 .2 .5 -4.2 .5 4 .5 -3.4 .5 4.4 .5 .2 .5 -.9 .5 5.2 .5 -3.8 .5 .2 .5 -1.1 .5 -.8 .5 2.9 .5 .3 .5 -5.9 .5 5.9 .5 -1.3 .5 1.1 .5 -1.2 .5 -4.3 .5 .2 .5 7.5 .5 -3.9 .5 -4.1 .5 4.4 .5 -1.7 .5 -3.7 .5 -1.1 .5 1.7 .5 4.8 .5 -.8 .5 -.5 .5 1.4 .5 .8 .5 -6.8 .5 4.6 .5 -1.3 .5 -1 .5 1.7 .5 1.1 .5 -.4 .5 -2.9 .5 2.4 .5 6.3 .5 -7.6 .5 -1.6 .5 4.9 .5 .8 .5 -.3 .5 -3.9 .5 5.3 .5 -4.4 .5 -.9 .5 1.3 .5 1.3 .5 2.1 .5 -.2 .5 -1.6 .5 2.4 .5 -2.1 .5 2 .5 -5.7 .5 -.4 .5 5.9 .5 -5.4 .5 2.7 .5 .5 .5 -.9 .5 .1 .5 4.6 .5 -9.8 .5 8.5 .5 3.6 .5 -5.7 .5 -.1 .5 1.9 .5 2.8 .5 -7.6 .5 3.2 .5 -.7 .5 1.9 .5 -1 .5 1.3 .5 -2.7 .5 1.2 .5 -1.8 .5 0 .5 1.3 .5 0 .5 -2.6 .5 6.9 .5 -4.3 .5 -3.1 .5 6.2 .5 -4.6 .5 3.2 .5 -1.4 .5 .7 .5 -.2 .5 -1.8 .5 1.5 .5 5 .5 -10.7 .5 5.8 .5 .9 .5 -3.7 .5 -.8 .5 8.8 .5 -6.3 .5 6.1 .5 -3.9 .5 -1.1 .5 1 .5 .4 .5 1.3 .5 -1.8 .5 -.7 .5 0 .5 3 .5 -1.4 .5 -4.5 .5 .9 .5 2.4 .5 -2.4 .5 .7 .5 -1.5 .5 1.7 .5 1.8 .5 1.4 .5 -2.5 .5 5.2 .5 -5.4 .5 8.2 .5 -5.5 .5 -1.3 .5 -2.4 .5 -5.9 .5 6.7 .5 .8 .5 4.4 .5 -8.2 .5 8.2 .5 -5.4 .5 2.4 .5 -8.1 .5 6.6 .5 -1.2 .5 2.6 .5 -1.5 .5 -3.1 .5 5.3 .5 -.7 .5 -.2 .5 1 .5 .3 .5 -2.9 .5 -3.3 .5 -.1 .5 6.9 .5 -1.6 .5 -1.5 .5 -1.4 .5 1.2 .5 0 .5 -.9 .5 -.9 .5 7.1 .5 -4.8 .5 -2.1 .5 -1.8 .5 1.5 .5 3.6 .5 .1 .5 -2.4 .5 .6 .5 -.9 .5 -2 .5 6.1 .5 -2.4 .5 5.3 .5 -8.1 .5 1.6 .5 2.5 .5 -2.8 .5 -2.9 .5 1.1 .5 2.7 .5 .6 .5 -1.1 .5 2.7 .5 0 .5 -1.7 .5 -.7 .5 -.7 .5 2 .5 .9 .5 -2.1 .5 .9 .5 -1.9 .5 -2.7 .5 1 .5 4.4 .5 -.8 .5 2.9 .5 -3.9 .5 2.1 .5 1.1 .5 -.8 .5 -4 .5 1 .5 .8 .5 -2.8 .5 3.7 .5 1.4 .5 -3.8 .5 6.1 .5 -5.6 .5 .2 .5 -.1 .5 -1.2 .5 2.8 .5 -.9 .5 4.1 .5 -2.7 .5 -.2 .5 -1.9 .5 -2.9 .5 3.3 .5 -1.9 .5 4.5 .5 -2.5 .5 4.3 .5 -2.4 .5 .3 .5 -1.5 .5 -.1 .5 1.1 .5 .7 .5 -4.1 .5 3 .5 5.4 .5 -6.8 .5 -.4 .5 -1.1 .5 -1.9 .5 6.6 .5 -2.8 .5 .5 .5 3.9 .5 1.7 .5 -8.5 .5 4.8 .5 -1 .5 -.6 .5 .2 .5 -1.3 .5 4.1 .5 -2.5 .5 -.6 .5 2.2 .5 -.9 .5 -1 .5 -.4 .5 3.6 .5 -3.1 .5 -1.5 .5 -1.9 .5 1.2 .5 -1.7 .5 2.9 .5 .3 .5 -5.7 .5 5.2 .5 1.5 .5 -1.2 .5 -2.8 .5 5.6 .5 -4.9 .5 -1.4 .5 .4 .5 2.7 .5 2.5 .5 .4 .5 -2.4 .5 -3.5 .5 1.4 .5 -.6 .5 1.8 .5 -4 .5 4.7 .5 1.3 .5 -2 .5 1.6 .5 -3.5 .5 -1.3 .5 2 .5 4.5 .5 -.3 .5 -3.7 .5 4.1 .5 -3.8 .5 4.6 .5 -2.6 .5 -2.3 .5 3.1 .5 -3.9 .5 -.4 .5 -1.3 .5 4.2 .5 -.7 .5 -.1 .5 -.8 .5 4.6 .5 -4.7 .5 -.7 .5 4.9 .5 .5 .5 -2.8 .5 -5.2 .5 2.9 .5 3 .5 -1.5 .5 3.9 .5 -7.3 .5 5.1 .5 -3.3 .5 4.9 .5 -3.5 .5 2.8 .5 -4.2 .5 -1.9 .5 .7 .5 1.3 .5 -1.1 .5 5.6 .5 .3 .5 -2.6 .5 -3.3 .5 2.3 .5 -1.4 .5 5.3 .5 -2.8 .5 .4 .5 -2.2 .5 -4 .5 3.1 .5 -.9 .5 3.7 .5 -.7 .5 -2.2 .5 1 .5 4.9 .5 -6.3 .5 .1 .5 1.7 .5 -1.1 .5 .6 .5 2.4 .5 3 .5 -8.7 .5 4.4 .5 .1 .5 -.3 .5 -.3 .5 -.4 .5 3.4 .5 -3.7 .5 .9 .5 .3 .5 .3 .5 -.7 .5 2.9 .5 -2.5 .5 .4 .5 -.5 .5 -2.4 .5 .4 .5 -.5 .5 3.1 .5 -2.3 .5 -.9 .5 3.3 .5 .7 .5 -5.7 .5 8.6 .5 -4.1 .5 -.4 .5 3 .5 -2.5 .5 -1.7 .5 7 .5 -8.2 .5 2.5 .5 2.3 .5 -4.8 .5 2.4 .5 1.3 .5 5 .5 -8.2 .5 2.1 .5 1.7 .5 -1.4 .5 -3.2 .5 4 .5 -.7 .5 .8 .5 1.7 .5 -.3 .5 -1.5 .5 -.2 .5 -3.5 .5 2.4 .5 .9 .5 -1.6 .5 1.2 .5 -2.3 .5 5.9 .5 1.6 .5 -6.4 .5 2 .5 -1.6 .5 3.8 .5 -2.1 .5 -.9 .5 -.8 .5 .9 .5 -2.8 .5 4.2 .5 -3.5 .5 3.1 .5 -1 .5 2.4 .5 -2.7 .5 2.6 .5 -4.9 .5 3.8 .5 -2.1 .5 1.1 .5 -.3 .5 2.1 .5 -7.3 .5 5.8 .5 -4.5 .5 6.7 .5 -7.9 .5 2.4 .5 -1.7 .5 8.3 .5 -7.3 .5 3.5 .5 -1.6 .5 -3.2 .5 3.7 .5 2.5 .5 -2.2 .5 2.9 .5 -3.3 .5 .9 .5 -1 .5 1.9 .5 3.8 .5 -3.8 .5 -.4 .5 -2 .5 -.4 .5 5.6 .5 -6.5 .5 .5 .5 2.1 .5 -.9 .5 6 .5 -10.8 .5 6.8 .5 .9 .5 -4.6 .5 1.2 .5 2.7 .5 3 .5 -6.4 .5 -1.6 .5 6.3 .5 1.4 .5 -4.6 .5 -4.7 .5 9.1 .5 -4.1 .5 3.3 .5 -2.9 .5 -.8 .5 -.2 .5 4.8 .5 -.1 .5 -8.9 .5 3 .5 6.7 .5 -5.3 .5 -2.5 .5 3.4 .5 -.3 .5 .1 .5 -1 .5 .4 .5 -.3 .5 1.9 .5 -2.8 .5 1.3 .5 .3 .5 3.7 .5 -2.4 .5 -1.2 .5 1.6 .5 -.3 .5 1.7 .5 -1.4 .5 3.2 .5 -1.1 .5 -3.5 .5 -.9 .5 3.2 .5 -.9 .5 -1.5 .5 -3.5 .5 -.9 .5 5.5 .5 1 .5 .1 .5 -5.2 .5 5.8 .5 -3.9 .5 2.3 .5 0 .5 -3 .5 .5 .5 -3.7 .5 2.9 .5 -2.2 .5 5.6 .5 -.9 .5 2.1 .5 -1.4 .5 -2.5 .5 2.5 .5 -1.9 .5 2.5 .5 -.7 .5 -3.3 .5 2.5 .5 .1 .5 -.9 .5 3 .5 2.1 .5 -5.2 .5 0 .5 -4.7 .5 5.3 .5 -.8 .5 -4.3 .5 6.1 .5 .8 .5 -3.3 .5 .9 .5 -1.5 .5 4.3 .5 -5.7 .5 3 .5 5.7 .5 -4.8 .5 1.1 .5 -1.6 .5 -2.5 .5 2.8 .5 1.1 .5 -3.6 .5 3.5 .5 2.2 .5 -.4 .5 -6.7 .5 1.6" stroke="#ff0012"/><path d="M225.3 858.0l.5 -15.1 .5 9.8 .5 -3.1 .5 .4 .5 .9 .5 -5.9 .5 5.9 .5 -2 .5 13.9 .5 -10.2 .5 -1.8 .5 .3 .5 -1.2 .5 -1.2 .5 2.2 .5 3 .5 -2.3 .5 4 .5 -3.8 .5 .8 .5 5.1 .5 -3.2 .5 -3.4 .5 1.1 .5 2.5 .5 4.6 .5 -7.2 .5 .2 .5 4.1 .5 -6.1 .5 2 .5 4 .5 -1 .5 -1.5 .5 1.9 .5 -11.4 .5 12.7 .5 -6.4 .5 -2.3 .5 6.5 .5 1.4 .5 -3.7 .5 -2 .5 3.7 .5 -.2 .5 4.9 .5 -2.1 .5 -1.8 .5 3.1 .5 -4.3 .5 -2.3 .5 5.1 .5 0 .5 -2.5 .5 -1.8 .5 3.4 .5 -9 .5 10.6 .5 -.6 .5 -6.9 .5 5.6 .5 -3.3 .5 5.8 .5 -9.2 .5 3.8 .5 5.4 .5 1.6 .5 -10.9 .5 5.5 .5 2.8 .5 -3 .5 7.3 .5 -9.1 .5 5.2 .5 -4.6 .5 8.2 .5 -4.7 .5 -1.1 .5 -4.4 .5 11.3 .5 -3 .5 .1 .5 1.3 .5 -2.5 .5 -3.2 .5 -.5 .5 .1 .5 7.2 .5 -9.2 .5 2.9 .5 .9 .5 1.9 .5 1.2 .5 -5.9 .5 -1.5 .5 5.7 .5 4.1 .5 -1.4 .5 -1.8 .5 -1.6 .5 2 .5 -1.7 .5 3.6 .5 -5.3 .5 3.2 .5 -.8 .5 2.3 .5 -1 .5 7.7 .5 -3.4 .5 .1 .5 -11.6 .5 5.6 .5 -.8 .5 3.8 .5 -9.2 .5 11.5 .5 -.3 .5 -7.8 .5 1.2 .5 .6 .5 2.9 .5 2 .5 4.7 .5 -7.3 .5 3.2 .5 -1.9 .5 5.4 .5 -3.3 .5 2.1 .5 -8 .5 3 .5 -2 .5 7.7 .5 -2.7 .5 -3.1 .5 -.5 .5 3.2 .5 -3.8 .5 -.7 .5 4.7 .5 6.6 .5 -8.9 .5 -.9 .5 -2 .5 -.5 .5 6.2 .5 1.2 .5 -2.7 .5 1.1 .5 -.7 .5 .2 .5 -5.4 .5 3.5 .5 2 .5 -2.9 .5 1.1 .5 -1.1 .5 1.7 .5 4 .5 -4.1 .5 .9 .5 3.2 .5 -.4 .5 3.5 .5 -12.5 .5 9.9 .5 -4.4 .5 2.1 .5 2.4 .5 .9 .5 -.1 .5 -2.9 .5 4.9 .5 -6.2 .5 .6 .5 3.1 .5 -4.4 .5 9.1 .5 -3.7 .5 3.8 .5 -7.2 .5 -1.1 .5 1.9 .5 1.9 .5 -4.3 .5 3.3 .5 -1.2 .5 5.4 .5 -7.4 .5 5.7 .5 -5.5 .5 -1 .5 .9 .5 -1.6 .5 4.5 .5 3 .5 -2.8 .5 1.6 .5 3.4 .5 -4.4 .5 -.2 .5 -1.5 .5 -4.3 .5 7.9 .5 -8.3 .5 8 .5 -2.1 .5 3.8 .5 -3.8 .5 -2.5 .5 4 .5 -3 .5 1.4 .5 .8 .5 -.6 .5 -.1 .5 -2 .5 2.2 .5 -6.4 .5 6.6 .5 -3.4 .5 7.8 .5 .5 .5 -10.6 .5 7 .5 -.8 .5 -3 .5 5.3 .5 -3.2 .5 -4.3 .5 5.1 .5 .4 .5 .9 .5 -4.3 .5 6.2 .5 .4 .5 -6.1 .5 1.6 .5 2 .5 -1.5 .5 7.7 .5 -5 .5 -4 .5 .8 .5 2.5 .5 7.8 .5 -8.1 .5 1.1 .5 1.4 .5 -1.8 .5 7.7 .5 -9.2 .5 4.3 .5 -1.9 .5 1.6 .5 -5.9 .5 9.8 .5 -6.1 .5 .5 .5 -3.1 .5 .8 .5 4.3 .5 1.5 .5 -.7 .5 1.5 .5 -1.5 .5 -2.2 .5 2.7 .5 -.7 .5 -2.3 .5 2.8 .5 2 .5 -3.4 .5 -1.9 .5 3.6 .5 4 .5 -6.9 .5 .4 .5 -.1 .5 4.6 .5 -10.1 .5 7.4 .5 2.8 .5 -6.6 .5 7.7 .5 -3.1 .5 -3.5 .5 2.6 .5 -5.7 .5 3.3 .5 7.9 .5 -8.9 .5 9.1 .5 -6.3 .5 3.7 .5 -3.1 .5 -7.5 .5 5.6 .5 2.6 .5 -4.4 .5 -.6 .5 5.8 .5 -3.3 .5 -3.4 .5 3.4 .5 5.2 .5 -4.4 .5 4.7 .5 2.1 .5 -4.9 .5 -3.8 .5 -.5 .5 4.3 .5 3.1 .5 -2 .5 1 .5 -3.2 .5 2.5 .5 -2.5 .5 .6 .5 -3.1 .5 -.9 .5 3.7 .5 -2 .5 .5 .5 5.5 .5 -2.5 .5 10.1 .5 -6.6 .5 -5 .5 4.7 .5 -1.3 .5 -3.4 .5 6 .5 -6.2 .5 -7.5 .5 12.9 .5 -4.6 .5 7 .5 -7 .5 -1.7 .5 9.1 .5 -8.6 .5 4.3 .5 4.2 .5 -4.4 .5 -.6 .5 .7 .5 2.5 .5 -5.4 .5 4.8 .5 -.1 .5 5.9 .5 -8.7 .5 -1.9 .5 5.5 .5 -3.6 .5 2.3 .5 -.5 .5 3.5 .5 -5.9 .5 1.9 .5 -8.1 .5 5.6 .5 8.1 .5 -7.3 .5 0 .5 -1.6 .5 6 .5 -1.3 .5 -4.4 .5 6.2 .5 -1.3 .5 1.7 .5 -4.6 .5 8 .5 -4.3 .5 -1.7 .5 -1.3 .5 1 .5 3.7 .5 -3.7 .5 4.6 .5 -1.6 .5 2.6 .5 -1.7 .5 -2.9 .5 -6 .5 7.4 .5 1.6 .5 -2 .5 1.4 .5 -3.3 .5 .3 .5 -1.8 .5 7.7 .5 -3.9 .5 -2.1 .5 -2.7 .5 4 .5 5.3 .5 -3.2 .5 -3.8 .5 7.1 .5 .1 .5 -1.4 .5 -.6 .5 1.3 .5 -2 .5 .8 .5 -5 .5 7.6 .5 -4.2 .5 6 .5 -13.4 .5 9.2 .5 .9 .5 -4.3 .5 2.7 .5 1.1 .5 -.6 .5 -3.6 .5 1.4 .5 3.9 .5 .9 .5 -3.8 .5 -.1 .5 .5 .5 2.8 .5 -6.8 .5 -.9 .5 4.9 .5 -4 .5 1.7 .5 2.3 .5 1.4 .5 -5.1 .5 6.3 .5 -8.5 .5 7.7 .5 -6.9 .5 1 .5 6.4 .5 -3.4 .5 -1.2 .5 1.2 .5 3 .5 -1.6 .5 .1 .5 3.6 .5 -5.8 .5 .9 .5 -.1 .5 5.6 .5 -.5 .5 1 .5 -4.3 .5 -.3 .5 3.3 .5 -4 .5 4.1 .5 -.3 .5 -4.7 .5 2.1 .5 -.1 .5 6.2 .5 2.9 .5 -8.9 .5 .5 .5 -7.6 .5 8.3 .5 -.7 .5 -3.4 .5 6.1 .5 -7.7 .5 4.5 .5 1.2 .5 -4.5 .5 7 .5 .7 .5 -8 .5 0 .5 6.6 .5 -2 .5 -3.9 .5 3.1 .5 .7 .5 -.1 .5 3.3 .5 -1.5 .5 4.7 .5 -1.3 .5 -2.3 .5 1.4 .5 .8 .5 -2 .5 -6.3 .5 6.9 .5 -2.5 .5 5.1 .5 -5 .5 1.5 .5 -.6 .5 4.5 .5 -5 .5 -1.4 .5 1.9 .5 -2.4 .5 2 .5 -.5 .5 1 .5 5.5 .5 -7.7 .5 1.5 .5 -.8 .5 3 .5 -6.1 .5 1.6 .5 2.2 .5 2 .5 -2 .5 -1.4 .5 -1.2 .5 4.6 .5 3.1 .5 -3.7 .5 -.4 .5 .9 .5 -4.6 .5 2.1 .5 .2 .5 1.9 .5 -1.1 .5 -3.9 .5 7.8 .5 1.9 .5 -6.4 .5 2.2 .5 -.4 .5 1.7 .5 -7.5 .5 10.3 .5 -6.9 .5 5.8 .5 -3.9 .5 -1.5 .5 .8 .5 3.5 .5 -5.8 .5 1.6 .5 -.3 .5 -4.1 .5 10 .5 -2.4 .5 -1.9 .5 3.9 .5 -7 .5 2.9 .5 6 .5 -2.4 .5 -10.6 .5 -3.7 .5 7.6 .5 7 .5 -5.1 .5 .9 .5 2.7 .5 -4.9 .5 3.6 .5 2 .5 -1.1 .5 -.2 .5 0 .5 -3.3 .5 3.7 .5 -3.1 .5 5.7 .5 4.2 .5 -10.9 .5 -4.8 .5 5.8 .5 2.7 .5 2.2 .5 .1 .5 -6.2 .5 0 .5 6.9 .5 -7.9 .5 7.3 .5 -4.4 .5 3.3 .5 -.2 .5 .2 .5 .2 .5 -6 .5 4.2 .5 -.9 .5 1 .5 3 .5 -5 .5 -1.4 .5 -.1 .5 1.4 .5 3.5 .5 -5.2 .5 6.5 .5 -2.8 .5 -1.8 .5 -3.6 .5 5.2 .5 1.4 .5 -8.1 .5 9.8 .5 1.5 .5 -4.4 .5 .5 .5 6.4 .5 -4 .5 -7 .5 2.9 .5 -.5 .5 0 .5 -7.4 .5 10.4 .5 -4.7 .5 2.7 .5 -1 .5 3.3 .5 -3.9 .5 -1.7 .5 4.4 .5 2.9 .5 -5.8 .5 5.6 .5 -3.7 .5 -2.7 .5 6.8 .5 -7.8 .5 6.1 .5 -5.1 .5 3.2 .5 -5.7 .5 1.3 .5 6.3 .5 -2.9 .5 -.6 .5 -1.6 .5 2.9 .5 -6.1 .5 .9 .5 3.1 .5 -2.2 .5 .4 .5 2 .5 -.2 .5 -.4 .5 6.3 .5 -2.2 .5 .7 .5 -4.3 .5 -1.6 .5 -3.2 .5 3.7 .5 -5.9 .5 5 .5 4.4 .5 2.8 .5 -2.2 .5 -6.1 .5 4.4 .5 -4.3 .5 5.4 .5 -3.2 .5 3.2 .5 5.6 .5 -5.5 .5 4.6 .5 -7.2 .5 -1.7 .5 5.5 .5 1.2 .5 -7.6 .5 2 .5 -5.1 .5 4.1 .5 3.6 .5 -3.3 .5 -1.7 .5 -2.9 .5 5.9 .5 1.4 .5 -.8 .5 -1.2 .5 -5.1 .5 10 .5 -6.1 .5 -.3 .5 2.8 .5 -9.7 .5 6.9 .5 -.3 .5 1.7 .5 3.1 .5 -2.9 .5 -7.8 .5 4.9 .5 1.8 .5 -.3 .5 -4.8 .5 -1.4 .5 7.3 .5 -.7 .5 -1.3 .5 -5.8 .5 11.6 .5 -15.7 .5 8.4 .5 8.1 .5 -7.5 .5 1.2 .5 -4.8 .5 8.4 .5 -9 .5 5.1 .5 -.5 .5 -4 .5 6.4 .5 -7.8 .5 2.4 .5 2.1 .5 -1.4 .5 2.8 .5 1.5 .5 -4.2 .5 -.9 .5 0 .5 .4 .5 3.8 .5 -3.5 .5 2 .5 -1.8 .5 -2.6 .5 5.6 .5 -6.5 .5 3.4 .5 4.9 .5 -8.8 .5 3.4 .5 -5.2 .5 3.5 .5 -3.4 .5 3.6 .5 -.7 .5 2.2 .5 4.7 .5 -4.5 .5 1.2 .5 -2.5 .5 -.8 .5 -2.1 .5 -3.4 .5 6.2 .5 5.1 .5 -4 .5 -3.5 .5 7.2 .5 -7.1 .5 -.8 .5 -2.1 .5 .7 .5 2.3 .5 7.4 .5 -7.6 .5 -2.9 .5 1.3 .5 1.1 .5 -5.1 .5 6 .5 1.8 .5 -1.4 .5 .7 .5 -6.5 .5 -1.5 .5 9.9 .5 -.8 .5 -9.1 .5 5.7 .5 -.7 .5 1.5 .5 -1.3 .5 -2.6 .5 2.2 .5 -.3 .5 -.9 .5 -6.3 .5 -4 .5 7.2 .5 -3 .5 6.2 .5 1.4 .5 -1.8 .5 -2.3 .5 1.2 .5 3.5 .5 -6.6 .5 5.4 .5 -1 .5 -1.7 .5 3.8 .5 -7.6 .5 5.4 .5 -6.6 .5 .3 .5 -1.3 .5 4.9 .5 -5 .5 3.1 .5 -4.4 .5 7.3 .5 2.4 .5 -5.9 .5 4.6 .5 -4 .5 5.2 .5 -7.4 .5 -6.1 .5 10.2 .5 -5.9 .5 -3.5 .5 1 .5 -3.8 .5 4.7 .5 -3.5 .5 8.5 .5 -3.3 .5 -8.5 .5 .1 .5 2.9 .5 -5.2 .5 5.9 .5 -.3 .5 -3 .5 .3 .5 3.1 .5 2.7 .5 -.2 .5 -5.7 .5 2.3 .5 -6.2 .5 3.4 .5 -5.5 .5 5.4 .5 -7.7 .5 .3 .5 2.6 .5 1.3 .5 -7.9 .5 2.4 .5 1.6 .5 -.6 .5 -4.7 .5 2.4 .5 -2.3 .5 5.1 .5 -4.2 .5 -7.9 .5 -4.4 .5 7.2 .5 2.7 .5 -5 .5 1.2 .5 -6.5 .5 -4.8 .5 6.2 .5 -4.1 .5 .4 .5 -9.7 .5 4 .5 -5.2 .5 3.3 .5 -7.8 .5 -2.6 .5 -2.6 .5 4.5 .5 -7.9 .5 -6.4 .5 -4.5 .5 -3.9 .5 6.3 .5 -17.8 .5 -.6 .5 1.3 .5 -3.1 .5 -11.5 .5 -2.2 .5 -7 .5 -6.5 .5 -12.5 .5 -1.7 .5 -16.7 .5 -4.8 .5 -25 .5 -3.8 .5 -26.5 .5 -18.8 .1 7.1 .1 -3.8 .1 -3.9 .1 -4.1 .1 -4.1 0 -.5 .1 -10.8 .1 -4.3 .1 -4.5 .1 -4.6 .1 -4.8 0 -.5 .1 2.4 .1 -5.1 .1 -5.2 .1 -5.4 .1 -5.6 0 -.7 .1 -13.2 .1 -6 .1 -6.4 .1 -6.7 .1 -7 0 -.8 .1 7.5 .1 -8 .1 -8.6 .1 -9.3 .1 -10.2 0 -1.2 .1 -18.5 .1 -12.5 .1 -14.2 .1 -16.1 .1 -18.6 0 -2.3 .1 -25.2 .1 -25.2 .1 -29.6 .1 -35.2 .1 -41.9 0 -5.4 .1 -37.9 .1 -60.4 .1 -72.8 .1 -87.8 .1 -55.3 .1 0 .1 0 .1 0 .1 0 .1 0 .1 0 .1 0 .1 0 .1 0 .1 0 .1 0 .1 0 .1 0 .1 0 .1 0 .1 0 .1 0 .1 0 .1 0 .1 0 .1 0 .1 0 .1 0 .1 0 .1 0 .1 0 .1 0 .1 0 .1 0 .1 0 .1 0 .1 0 .1 0 .1 0 .1 0 .1 0 .1 0 .1 0 .1 0 .1 0 .1 0 .1 0 .1 0 .1 0 .1 0 .1 0 .1 0 .1 0 .1 0 .1 0 .1 0 .1 0 .1 0 .1 0 .1 0 .1 0 .1 0 .1 0 .1 0 .1 0 .1 0 .1 0 .1 0 .1 0 .1 0 .1 0 .1 0 .1 0 .1 0 .1 0 .1 0 .1 0 .1 0 .1 0 .1 0 .1 0 .1 0 .1 0 .1 0 .1 0 .1 0 .1 0 .1 0 .1 0 .1 0 .1 0 .1 0 .1 0 .1 0 .1 0 .1 0 .1 0 .1 0 .1 0 .1 0 .1 0 .1 0 .1 0 .1 0 .1 0 .1 0 .1 0 .1 0 .1 0 .1 0 .1 0 .1 0 .1 0 .1 0 .1 0 .1 0 .1 0 .1 0 .1 0 .1 0 .1 0 .1 0 .1 0 .1 0 .1 0 .1 0 .1 0 .1 0 .1 0 .1 0 .1 0 .1 0 .1 0 .1 0 .1 0 .1 0 .1 0 .1 0 .1 0 .1 0 .1 0 .1 0 .1 0 .1 0 .1 0 .1 0 .1 0 .1 0 .1 0 .1 0 .1 0 .1 0 .1 0 .1 0 .1 0 .1 0 .1 0 .1 0 .1 0 .1 0 .1 0 .1 0 .1 0 .1 0 .1 0 .1 0 .1 0 .1 51.8 .1 87.8 .1 72.8 0 7.5 .1 56.7 .1 50.2 .1 41.9 .1 35.1 .1 29.6 0 3.1 .1 20.9 .1 21.4 .1 18.5 .1 16.1 .1 14.2 0 1.5 .1 2.4 .1 11.2 .1 10.1 .1 9.3 .1 8.6 0 .9 .1 11.7 .1 7.4 .1 7 .1 6.6 .1 6.4 0 .7 .1 9.8 .1 5.7 .1 5.6 .1 5.4 .1 5.1 0 .6 .1 4.2 .1 4.9 .1 4.7 .1 4.6 .1 4.5 0 .5 .1 -1.6 .1 4.2 .1 4.1 .1 4 .1 3.9 0 .4 .5 18.3 .5 16.6 .5 9.5 .5 11.9 .5 25 .5 .9 .5 11.6 .5 4.5 .5 16.8 .5 8.8 .5 -2.3 .5 9 .5 -.1 .5 15.5 .5 1 .5 -3.1 .5 12.4 .5 0 .5 3.5 .5 2.9 .5 -1.2 .5 3.2 .5 7.1 .5 -.2 .5 -1.3 .5 13.6 .5 -6.7 .5 .5 .5 1.2 .5 6.9 .5 2.6 .5 -1.3 .5 3.7 .5 -7.5 .5 5.4 .5 .8 .5 2.9 .5 2.8 .5 -8.3 .5 19.9 .5 -13.7 .5 5.2 .5 2.6 .5 .8 .5 -1.4 .5 -10.7 .5 7.3 .5 7.2 .5 -5.4 .5 .1 .5 -4.1 .5 13.3 .5 -2 .5 -4.5 .5 3.2 .5 .5 .5 -3.2 .5 3.4 .5 2.3 .5 1.4 .5 2.9 .5 -4 .5 -1.4 .5 3.3 .5 -3.3 .5 -1.9 .5 8.7 .5 -5 .5 2 .5 2.1 .5 .2 .5 -.5 .5 -1.6 .5 1.9 .5 -3.8 .5 -4.8 .5 6.9 .5 -2 .5 6.3 .5 -1.9 .5 -2.6 .5 2.2 .5 4.7 .5 -.6 .5 -2.5 .5 .3 .5 -2.3 .5 .7 .5 2.6 .5 -2.3 .5 1.5 .5 -4.7 .5 -1.8 .5 0 .5 4.4 .5 6.2 .5 -.4 .5 -7.4 .5 -1.8 .5 8.1 .5 -1 .5 -6.2 .5 8.4 .5 -2.9 .5 4 .5 -3.3 .5 1.9 .5 -1.8 .5 -4.3 .5 2.5 .5 -1.4 .5 5.2 .5 -6.2 .5 -1.8 .5 7.6 .5 1.7 .5 1.1 .5 -1.2 .5 -8.8 .5 2.8 .5 .6 .5 1.8 .5 -7.2 .5 7.3 .5 1 .5 -4.1 .5 3.7 .5 3.7 .5 -3.9 .5 3.5 .5 -.1 .5 -2 .5 -.1 .5 -2.5 .5 5.5 .5 -5.8 .5 -.7 .5 4.8 .5 -4.9 .5 4 .5 2.1 .5 -3.3 .5 .1 .5 2.8 .5 -.5 .5 -7.8 .5 .8 .5 9 .5 -3.2 .5 -8.4 .5 2.5 .5 4.7 .5 -3.4 .5 5 .5 -1.4 .5 1.4 .5 -5.6 .5 6.1 .5 4.6 .5 -9.4 .5 7.2 .5 -1.2 .5 -1.1 .5 -2.5 .5 -3.7 .5 .9 .5 5.6 .5 .8 .5 .8 .5 -.9 .5 -.3 .5 -4.6 .5 -2.6 .5 4.8 .5 .9 .5 -1.4 .5 -5.6 .5 3.4 .5 -3.3 .5 5.5 .5 -4.2 .5 3 .5 1.6 .5 -.7 .5 4.2 .5 -8.6 .5 -3.8 .5 10.7 .5 1.5 .5 0 .5 -4.1 .5 .8 .5 -1.6 .5 -5 .5 2.4 .5 3.6 .5 -3.9 .5 8.5 .5 -12.1 .5 3.6 .5 5.2 .5 -6.1 .5 -2 .5 -1 .5 2 .5 7.5 .5 -4 .5 .1 .5 -3.9 .5 4.5 .5 -2.8 .5 -4 .5 1.4 .5 1.9 .5 3.1 .5 -4.7 .5 1.6 .5 5 .5 -10.4 .5 -2 .5 7.4 .5 -2.4 .5 -2.5 .5 .8 .5 -2.7 .5 2.4 .5 -3.7 .5 3.4 .5 -7.8 .5 .5 .5 2.6 .5 -2.9 .5 3.3 .5 -3.6 .5 -2.8 .5 1.7 .5 -3.8 .5 -5 .5 .3 .5 -.1 .5 -.1 .5 .6 .5 1.5 .5 -3 .5 2.9 .5 -3.8 .5 -7.7 .5 5 .5 -4.1 .5 -8.9 .5 .4 .5 .3 .5 -6.5 .5 -.1 .5 -6.1 .5 -2.5 .5 -8.3 .5 -1.6 .5 -7.9 .5 -.8 .5 -15.8 .5 2.6 .5 -2.6 .5 -10.2 .5 -10.6 .5 -6 .2 -3.7 .1 -1.9 .1 -1.9 .1 -8.5 .1 -2 .1 -2 .1 -2.1 .1 -2.1 .1 -2.1 .1 -2.2 .1 -2.3 .1 -2.3 .1 -2.3 .1 -.1 .1 -2.4 .1 -2.4 .1 -2.5 .1 -2.6 .1 -1.5 .1 -2.7 .1 -2.7 .1 -2.7 .1 -2.8 .1 2.8 .1 -2.9 .1 -2.9 .1 -3 .1 -3.1 .1 -12.7 .1 -3.2 .1 -3.2 .1 -3.4 .1 -3.4 .1 6.6 .1 -3.5 .1 -3.6 .1 -3.6 .1 -3.7 .1 -17.4 .1 -3.8 .1 -3.9 .1 -4 .1 -4 .1 0 .1 -4.2 .1 -4.3 .1 -4.4 .1 -4.4 .1 -.6 .1 -4.6 .1 -4.7 .1 -4.7 .1 -4.9 .1 1.4 .1 -5 .1 -5.1 .1 -5.2 .1 -5.3 .1 -14.7 .1 -5.4 .1 -5.5 .1 -5.6 .1 -5.7 .1 -13.8 .1 -5.9 .1 -5.9 .1 -6 .1 -6.1 .1 7.4 .1 -6.2 .1 -6.3 .1 -6.4 .1 -6.4 .1 -8.9 .1 -6.6 .1 -6.6 .1 -6.7 .1 -6.7 .1 -12.3 .1 -6.8 .1 -6.8 .1 -6.8 .1 -6.9 .1 -6.7 .1 -6.9 .1 -6.8 .1 -6.9 .1 -6.8 .1 -5 .1 -6.8 .1 -6.7 .1 -6.7 .1 -6.6 .1 -2.3 .1 -6.4 .1 -6.3 .1 -6.2 .1 -6.1 .1 -3 .1 -5.7 .1 -5.7 .1 -5.4 .1 -5.3 .1 -16.3 .1 -4.9 .1 -4.6 .1 -4.4 .1 -4.1 .1 16 .1 -3.6 .1 -3.3 .1 -3 .1 -2.7 .1 -14.7 .1 -2.2 .1 -1.8 .1 -1.4 .1 -1.2 .1 -2.5 .1 -.5 .1 -.2 .1 .2 .1 .6 .1 6.4 .1 1.2 .1 1.5 .1 1.8 .1 2.2 .1 -.5 .1 2.8 .1 3.1 .1 3.4 .1 3.6 .1 15.7 .1 4.2 .1 4.4 .1 4.7 .1 4.9 .1 -1.4 .1 5.3 .1 5.5 .1 5.6 .1 5.9 .1 -1.8 .1 6.2 .1 6.2 .1 6.4 .1 6.5 .1 6.4 .1 6.7 .1 6.7 .1 6.8 .1 6.8 .1 6.3 .1 6.9 .1 7 .1 6.9 .1 6.9 .1 7.8 .1 6.9 .1 6.9 .1 6.9 .1 6.8 .1 12.2 .1 6.8 .1 6.7 .1 6.7 .1 6.6 .1 -.4 .1 6.5 .1 6.4 .1 6.4 .1 6.3 .1 18.1 .1 6.1 .1 6.1 .1 6 .1 5.9 .1 -3.1 .1 5.7 .1 5.7 .1 5.5 .1 5.5 .1 5.1 .1 5.3 .1 5.2 .1 5.2 .1 5.1 .1 10.7 .1 4.9 .1 4.9 .1 4.7 .1 4.7 .1 -10.9 .1 4.5 .1 4.4 .1 4.3 .1 4.3 .1 9.7 .1 4.1 .1 4.1 .1 3.9 .1 3.9 .1 11.9 .1 3.8 .1 3.7 .1 3.6 .1 3.6 .1 .4 .1 3.4 .1 3.3 .1 3.3 .1 3.3 .1 3 .1 3.2 .1 3 .1 3 .1 3 .1 5 .1 2.8 .1 2.8 .1 2.7 .1 2.7 .1 -2.3 .1 2.6 .1 2.6 .1 2.5 .1 2.5 .1 4.5 .1 2.4 .1 2.3 .1 2.3 .1 2.2 .1 -3.4 .1 2.2 .1 2.1 .1 2.1 .1 2.1 .1 -.3 .1 2 .4 22.1 .5 -1.2 .5 9.1 .5 16.8 .5 5.2 .5 -.5 .5 5.8 .5 7.3 .5 1.4 .5 10.9 .5 2.7 .5 4 .5 6.2 .5 3.4 .5 7.7 .5 1.8 .5 -9.8 .5 12.9 .5 -5.2 .5 1.2 .5 10.5 .5 -3.2 .5 3.5 .5 7.2 .5 -4.7 .5 .9 .5 6.2 .5 4.9 .5 -1.1 .5 -6.2 .5 4.7 .5 3.1 .5 8.8 .5 -2.6 .5 1 .5 2.4 .5 -4.4 .5 3.8 .5 1 .5 -4.3 .5 4.4 .5 2.9 .5 -5 .5 7.5 .5 .6 .5 1.7 .5 -5.7 .5 3.9 .5 5.4 .5 -1.7 .5 -4.9 .5 4.2 .5 4.8 .5 -4.7 .5 2.2 .5 8.2 .5 -8.6 .5 .3 .5 -2.6 .5 1.7 .5 7.9 .5 -5.2 .5 -3.1 .5 1.3 .5 3.7 .5 3 .5 -4.7 .5 5.4 .5 -3.8 .5 3.3 .5 1 .5 .7 .5 -3.2 .5 1.2 .5 2.7 .5 -5.8 .5 5.3 .5 1.5 .5 2.2 .5 -3.4 .5 -.2 .5 1.4 .5 -2.7 .5 2.1 .5 2.4 .5 -.1 .5 -4.3 .5 2.8 .5 -5.8 .5 10.1 .5 -4.2 .5 2.9 .5 -4.3 .5 3.7 .5 2 .5 2.1 .5 -7.7 .5 7.7 .5 -3.2 .5 -1.8 .5 4.5 .5 -2.4 .5 .2 .5 -1.2 .5 3.4 .5 -.4 .5 -.5 .5 -2.4 .5 1.7 .5 3.3 .5 3.1 .5 -4.2 .5 5.1 .5 -4.6 .5 -3.5 .5 6 .5 -5.2 .5 4.8 .5 2.5 .5 -4.5 .5 .9 .5 8.8 .5 -7.3 .5 .3 .5 1.9 .5 -2.8 .5 .2 .5 1.7 .5 -9.1 .5 13 .5 -8.2 .5 .1 .5 5.6 .5 -1.6 .5 -4.1 .5 5.1 .5 -4.4 .5 1.6 .5 -2.5 .5 2.4 .5 4.2 .5 -.7 .5 .7 .5 2.2 .5 -3.1 .5 -1.9 .5 1.4 .5 6.6 .5 -5.3 .5 1.1 .5 -1.2 .5 1.3 .5 .7 .5 -1.3 .5 -.4 .5 -2 .5 -.1 .5 4.3 .5 1.3 .5 .7 .5 -2.8 .5 -2.8 .5 5 .5 0 .5 -6.9 .5 7.8 .5 -.6 .5 3.7 .5 -9.2 .5 -.4 .5 7 .5 -8.5 .5 3.6 .5 -1.1 .5 .4 .5 -2.9 .5 5.7 .5 4.1 .5 -1.6 .5 .1 .5 -2.6 .5 6.1 .5 -3 .5 1.9 .5 -8.6 .5 6.4 .5 -4.9 .5 5.1 .5 -.4 .5 -4.3 .5 4.4 .5 3.4 .5 -2.2 .5 .4 .5 -4.7 .5 .7 .5 -1.4 .5 4.2 .5 3.6 .5 -2.4 .5 -1.4 .5 -3.6 .5 5.3 .5 -2.2 .5 -5.5 .5 .7 .5 4.7 .5 -1.8 .5 8.5 .5 -5.3 .5 -3.5 .5 1.9 .5 7 .5 -8.4 .5 5.8 .5 -1 .5 3.5 .5 -3.1 .5 -3 .5 3.1 .5 -1.4 .5 3 .5 -3.3 .5 6.8 .5 -6.8 .5 1.8 .5 -3.6 .5 2.7 .5 -.3 .5 .5 .5 2.5 .5 -4.7 .5 -1 .5 6.6 .5 -4.6 .5 -1.2 .5 6.1 .5 -1.2 .5 -11.3 .5 7.6 .5 3.9 .5 .2 .5 -4.4 .5 6.9 .5 -7.8 .5 1.9 .5 1.3 .5 -.4 .5 2.7 .5 .8 .5 -3.5 .5 4.8 .5 -6.8 .5 1.6 .5 6.4 .5 -5.3 .5 3.2 .5 -4.9 .5 .6 .5 .6 .5 .9 .5 -1.6 .5 1.2 .5 2.2 .5 1.8 .5 -3.6 .5 1.8 .5 .9 .5 -6.5 .5 -1.6 .5 10.5 .5 -.9 .5 -4.1 .5 1 .5 -4.3 .5 -1.4 .5 5.6 .5 -5.9 .5 8 .5 -5.3 .5 3.3 .5 5.4 .5 -.1 .5 -7.1 .5 4.4 .5 -6.9 .5 1.5 .5 3.2 .5 3.4 .5 -6.5 .5 3.7 .5 -1.4 .5 -4.5 .5 3.8 .5 5.4 .5 -5.3 .5 2 .5 1.1 .5 -5.1 .5 6.5 .5 .9 .5 .3 .5 -.9 .5 -5.9 .5 -.3 .5 -.7 .5 -.4 .5 .4 .5 5.9 .5 1.6 .5 -6.9 .5 4.8 .5 -6.9 .5 3.1 .5 -2.2 .5 -2 .5 5.5 .5 .1 .5 -1.6 .5 -.3 .5 -1.6 .5 2.9 .5 -1.6 .5 2.8 .5 -4.8 .5 4.8 .5 .9 .5 2.5 .5 -.7 .5 -2.8 .5 -2.9 .5 -3.8 .5 6.1 .5 4.7 .5 .8 .5 -13.9 .5 5.9 .5 1.4 .5 -2.3 .5 4.1 .5 -.5 .5 -1.9 .5 1.6 .5 -5.1 .5 2 .5 .3 .5 5.9 .5 -8.3 .5 4.7 .5 3.3 .5 -2.8 .5 2.9 .5 -4.9 .5 3.6 .5 1.6 .5 4.4 .5 -5 .5 2.3 .5 -4.6 .5 .2 .5 4.9 .5 -3.2 .5 2.7 .5 -2.3 .5 4.7 .5 .8 .5 -10.6 .5 8.9 .5 -4.7 .5 .1 .5 -1.9 .5 2.7 .5 -6 .5 1.3 .5 -.2 .5 3.5 .5 2.1 .5 -.6 .5 -1.2 .5 -3.2 .5 -3.9 .5 7.2 .5 -.8 .5 .7 .5 3.5 .5 -5.3 .5 -.1 .5 -7 .5 9.5 .5 -2 .5 -2.3 .5 3.7 .5 -4.7 .5 1.7 .5 8.3 .5 -4.1 .5 .6 .5 -.6 .5 -.3 .5 -1.5 .5 6.9 .5 -7.8 .5 2.6 .5 -3.1 .5 -.5 .5 -6.9 .5 1.7 .5 11.5 .5 -.2 .5 -6.4 .5 1.4 .5 2.1 .5 -5.3 .5 9.1 .5 -9.3 .5 1 .5 -6.7 .5 14.1 .5 -4.8 .5 5.2 .5 -8.7 .5 4.4 .5 -.9 .5 .4 .5 6.2 .5 .7 .5 -3 .5 -5.9 .5 4.3 .5 1.5 .5 -2.6 .5 0 .5 -.3 .5 -4.6 .5 3.8 .5 4.5 .5 -8.6 .5 3.6 .5 2.5 .5 -7.3 .5 4 .5 -5.1 .5 3.6 .5 -2.7 .5 1.7 .5 1.3 .5 .7 .5 .3 .5 -7.3 .5 13.2 .5 -6.2 .5 -2.7 .5 1.5 .5 3.1 .5 -4.3 .5 1.9 .5 -.2 .5 3.4 .5 -4.3 .5 4 .5 -.4 .5 -1.6 .5 4.6 .5 -4.1 .5 -3.9 .5 4.8 .5 -.5 .5 -.6 .5 .9 .5 7 .5 -7 .5 .8 .5 -2.4 .5 5.2 .5 -4.5 .5 -2.5 .5 -1.4 .5 5.8 .5 .7 .5 -7.7 .5 2.8 .5 4.6 .5 1.2 .5 -7.7 .5 3 .5 4.1 .5 -4.5 .5 .2 .5 -.3 .5 -2.5 .5 4.5 .5 .8 .5 -5.6 .5 5 .5 3.3 .5 -3 .5 2.5 .5 -5 .5 6.4 .5 -7.2 .5 8.9 .5 -7.8 .5 -.8 .5 -.6 .5 1.6 .5 -.3 .5 -.6 .5 1.2 .5 3.3 .5 .7 .5 -4.1 .5 5.3 .5 -7.4 .5 -.1 .5 -.4 .5 5.8 .5 -7.2 .5 .6 .5 8.8 .5 1.5 .5 -1.3 .5 -9.3 .5 4.9 .5 2.8 .5 -2.5 .5 -5.7 .5 4.3 .5 -4.5 .5 1.5 .5 11.3 .5 -4.9 .5 -7.1 .5 -.1 .5 6.5 .5 -3.6 .5 4 .5 -4.1 .5 1.5 .5 1.5 .5 -4.2 .5 -3 .5 2.4 .5 1.7 .5 1.6 .5 .5 .5 0 .5 1.9 .5 -4.6 .5 7.5 .5 2.1 .5 -5.5 .5 -.5 .5 3.5 .5 -2 .5 -1.5 .5 -1.2 .5 -1.9 .5 -1.4 .5 6.1 .5 1.7 .5 -7.4 .5 3.3 .5 .9 .5 -2.1 .5 -1.1 .5 1.2 .5 -5.2 .5 6.4 .5 -.8 .5 8 .5 -3.9 .5 -4.2 .5 1.1 .5 5.7 .5 -.4 .5 -4.7 .5 -1 .5 -4.3 .5 3.7 .5 .5 .5 -1.9 .5 8.2 .5 -11.9 .5 5.8 .5 1.8 .5 .1 .5 4.1 .5 -10.2 .5 2.2 .5 2.8 .5 .1 .5 -1.7 .5 -1.2 .5 6.1 .5 -7.1 .5 1.6 .5 6.7 .5 1 .5 -2.9 .5 -5.7 .5 0 .5 -.1 .5 -.8 .5 2.4 .5 5.6 .5 -3.4 .5 -3.3 .5 0 .5 -1.4 .5 8 .5 -10.7 .5 7.6 .5 -5.7 .5 1.3 .5 -1.4 .5 8.1 .5 -3.5 .5 9.4 .5 -12.5 .5 -.2 .5 5.6 .5 -.1 .5 -2.8 .5 -5.7 .5 11.5 .5 -2.9 .5 -.6 .5 -3.3 .5 4.1 .5 -4 .5 2 .5 -.7 .5 4.8 .5 -5.7 .5 .4 .5 4.8 .5 -2.9 .5 -.8 .5 -.7 .5 3.9 .5 -5.3 .5 3.7 .5 5.2 .5 -5.4 .5 -3.9 .5 -1.4 .5 4.5 .5 -4.5 .5 -1.3 .5 2.8 .5 -1.1 .5 6.6 .5 -7.8 .5 10.1 .5 -7.7 .5 2.9 .5 1.8 .5 -1.5 .5 1.7 .5 -5.7 .5 -4.2 .5 6.9 .5 -4.9 .5 3.6 .5 5.1 .5 -3.8 .5 -1.3 .5 -1.8 .5 2.8 .5 .4 .5 -4.7 .5 6.3 .5 -4.6 .5 4.3 .5 -2.2 .5 4.8 .5 -.4 .5 -2.8 .5 -.4 .5 1.8 .5 3.2 .5 -1.1 .5 -3 .5 .6 .5 4.2 .5 -10.7 .5 7.3 .5 -4.8 .5 7.5 .5 -6.1 .5 1.3 .5 -3.2 .5 3.6 .5 2.6 .5 3 .5 -9.8 .5 2.8 .5 14.5 .5 -9.9 .5 -3.1 .5 1.8 .5 -10.6 .5 14.2 .5 -4.8 .5 -5.3 .5 8.7 .5 -6 .5 -1.3 .5 5.2 .5 -.4 .5 -2.9 .5 1.3 .5 -4.2 .5 -.4 .5 7.8 .5 1.4 .5 -2.9 .5 -.2 .5 -2.5 .5 .9 .5 -2.7 .5 8.9 .5 -7.7 .5 3.3 .5 -1.4 .5 -4.6 .5 11.1 .5 -7.7 .5 -1.3 .5 2.9 .5 -3.4 .5 3.1 .5 -3.3 .5 5.1 .5 -1.7 .5 -4.7 .5 8 .5 -2.8 .5 -4.3 .5 4.8 .5 .3 .5 4.7 .5 -9 .5 5.7 .5 -3.2 .5 2.4 .5 -2.9 .5 .7 .5 1.8 .5 -5.6 .5 -3 .5 6.9 .5 -1.4 .5 1.8 .5 1.8 .5 -2.9 .5 4.7 .5 -4.1 .5 .6 .5 2.4 .5 -.9 .5 -2.2 .5 .7 .5 -2.9 .5 .4 .5 2.4 .5 2.4 .5 -4.2 .5 4.3 .5 3.6 .5 .7 .5 -7 .5 3.4 .5 -1.5 .5 .6 .5 .2 .5 -1.1 .5 1 .5 -2.1 .5 -1.5 .5 1.7 .5 .8 .5 2.4 .5 -2.8 .5 1.2 .5 2.3 .5 -7.9 .5 2.2 .5 2.7 .5 -1.8 .5 -3.4 .5 6.6 .5 -3.5 .5 -3.1 .5 9.6 .5 -10.6 .5 4.2 .5 -2.2 .5 2.6 .5 1.5 .5 -4.7 .5 2.4 .5 -.1 .5 -3 .5 7.3 .5 -3.4 .5 -1.5 .5 -1.3 .5 1.1 .5 1.5 .5 -2 .5 5.7 .5 -12.7 .5 1.3 .5 6.3 .5 -5.4 .5 6 .5 -2 .5 4.1 .5 -.6 .5 3 .5 -1.4 .5 1.1 .5 -2.4 .5 1.7 .5 -1.9 .5 -3.7 .5 -2.2 .5 .1 .5 5.6 .5 -9.6 .5 8.5 .5 -3.1 .5 4.9 .5 -1.8 .5 -3.2 .5 2.5 .5 -7.7 .5 8.4 .5 .7 .5 -7.8 .5 9 .5 -3.3 .5 .9 .5 -5.4 .5 6.8 .5 -.2 .5 -2 .5 -3.3 .5 5.8 .5 1.6 .5 -2.9 .5 1.9 .5 -5.3 .5 2.4 .5 .7 .5 -.8 .5 8.9 .5 -8.1 .5 -3.4 .5 4.6 .5 -6.5 .5 4.9 .5 1.2 .5 -4.3 .5 .5 .5 -2.1 .5 3.5 .5 -2.8 .5 8.1 .5 -3.8 .5 -3 .5 -4.1 .5 11.6 .5 -2.6 .5 -2.9 .5 -1 .5 -.2 .5 -2.3 .5 7.9 .5 -5.8 .5 -5.7 .5 2.6 .5 -6.7 .5 10.9 .5 .2 .5 3.3 .5 1 .5 -9.9 .5 4.1 .5 1.7 .5 -.9 .5 -4.5 .5 4.3 .5 -1.2 .5 2.8 .5 -4.9 .5 -.9 .5 -1.1 .5 .3 .5 -1.6 .5 1.3 .5 2.7 .5 -.4 .5 2.8 .5 -1 .5 -1.8 .5 -6.3 .5 5.6 .5 1.8 .5 -8.7 .5 .4 .5 .3 .5 -.6 .5 2.3 .5 -2.5 .5 4.3 .5 -5.9 .5 3.4 .5 -1.6 .5 -1.9 .5 6.6 .5 -3.9 .5 1.4 .5 -3.4 .5 3.2 .5 -.7 .5 -3.1 .5 -6.1 .5 8.6 .5 -1 .5 -2.2 .5 -.3 .5 -1 .5 -.3 .5 -4.8 .5 2.7 .5 .7 .5 -4 .5 -1.9 .5 9.3 .5 -5.2 .5 -4 .5 -1.5 .5 -8.6 .5 3.5 .5 3.3 .5 4.5 .5 -13.1 .5 3.8 .5 8.4 .5 -5.7 .5 -2.2 .5 1.5 .5 -6.2 .5 -1.7 .5 1.8 .5 -1.1 .5 -9 .5 8 .5 -14.3 .5 1.9 .5 12.3 .5 -16 .5 2.1 .5 -9.1 .5 -.1 .5 -4.5 .5 -1.8 .5 1 .5 .9 .5 -7.2 .5 -1.1 .5 -12.8 .5 3.7 .5 -8.5 .5 -1.7 .5 -13.1 .1 -1.2 .1 -1.1 .1 -1.2 .1 -1.2 .1 -1.2 0 .8 .1 -1.2 .1 -1.2 .1 -1.2 .1 -1.3 .1 -1.3 0 7.1 .1 -1.3 .1 -1.2 .1 -1.3 .1 -1.4 .1 -1.3 0 -3.4 .1 -1.4 .1 -1.3 .1 -1.4 .1 -1.4 .1 -1.5 0 -2.3 .1 -1.4 .1 -1.5 .1 -1.5 .1 -1.5 .1 -1.5 0 -3.6 .1 -1.6 .1 -1.5 .1 -1.6 .1 -1.6 .1 -1.6 0 2.7 .1 -1.6 .1 -1.7 .1 -1.6 .1 -1.7 .1 -1.7 0 2.7 .1 -1.7 .1 -1.7 .1 -1.7 .1 -1.8 .1 -1.7 0 1.1 .1 -1.8 .1 -1.8 .1 -1.8 .1 -1.8 .1 -1.9 0 -6.2 .1 -1.9 .1 -1.9 .1 -1.9 .1 -1.9 .1 -2 0 1.1 .1 -2 .1 -1.9 .1 -2 .1 -2 .1 -2 0 3.8 .1 -2 .1 -2 .1 -2 .1 -2 .1 -2 0 -7.9 .1 -2 .1 -2.1 .1 -2.1 .1 -2.1 .1 -2 0 10.5 .1 -2.1 .1 -2 .1 -2.1 .1 -2.1 .1 -2 0 -5 .1 -2.1 .1 -2 .1 -2.1 .1 -2.1 .1 -2 0 -.7 .1 -2.1 .1 -2 .1 -2 .1 -2 .1 -2 0 -12.1 .1 -2 .1 -1.9 .1 -2 .1 -1.9 .1 -1.9 0 4.3 .1 -1.8 .1 -1.9 .1 -1.8 .1 -1.8 .1 -1.8 0 3 .1 -1.8 .1 -1.7 .1 -1.6 .1 -1.6 .1 -1.6 0 2.4 .1 -1.5 .1 -1.5 .1 -1.5 .1 -1.4 .1 -1.3 0 -2.8 .1 -1.2 .1 -1.3 .1 -1.2 .1 -1.1 .1 -1.1 0 7.8 .1 -1.1 .1 -.9 .1 -.9 .1 -.9 .1 -.8 0 -1.2 .1 -.7 .1 -.7 .1 -.6 .1 -.5 .1 -.4 0 -2.2 .1 -.3 .1 -.4 .1 -.2 .1 -.2 .1 -.1 0 -9.3 .1 -.1 .1 .1 .1 .1 .1 .1 .1 .3 0 18.1 .1 .3 .1 .4 .1 .4 .1 .5 .1 .6 0 -8.8 .1 .6 .1 .7 .1 .8 .1 .8 .1 .9 0 4.6 .1 1 .1 1 .1 1.1 .1 1.1 .1 1.2 0 -6.7 .1 1.3 .1 1.3 .1 1.3 .1 1.4 .1 1.4 0 3.6 .1 1.4 .1 1.6 .1 1.5 .1 1.6 .1 1.7 0 3.7 .1 1.7 .1 1.7 .1 1.7 .1 1.8 .1 1.8 0 -2.4 .1 1.8 .1 1.9 .1 1.9 .1 1.9 .1 1.9 0 3.9 .1 1.9 .1 2 .1 2 .1 2 .1 2 0 -6 .1 2 .1 2 .1 2.1 .1 2.1 .1 2 0 11.4 .1 2.1 .1 2 .1 2 .1 2.1 .1 2 0 -20.1 .1 2.1 .1 2.1 .1 2.1 .1 2.1 .1 2.1 0 6.8 .1 2.1 .1 2 .1 2.1 .1 2 .1 2.1 0 7.7 .1 2 .1 1.9 .1 2 .1 2 .1 1.9 0 -6.1 .1 2 .1 1.9 .1 2 .1 1.9 .1 1.9 0 -1 .1 1.9 .1 1.9 .1 1.9 .1 1.8 .1 1.8 0 -6.4 .1 1.9 .1 1.8 .1 1.8 .1 1.8 .1 1.7 0 14.1 .1 1.7 .1 1.7 .1 1.7 .1 1.7 .1 1.6 0 -14.5 .1 1.7 .1 1.6 .1 1.6 .1 1.6 .1 1.6 0 11.1 .1 1.6 .1 1.5 .1 1.5 .1 1.5 .1 1.5 0 -1.4 .1 1.4 .1 1.5 .1 1.4 .1 1.4 .1 1.4 0 3.1 .1 1.3 .1 1.4 .1 1.3 .1 1.4 .1 1.3 0 2.6 .1 1.2 .1 1.3 .1 1.3 .1 1.2 .1 1.2 0 -9.5 .1 1.2 .1 1.2 .1 1.2 .1 1.2 .1 1.2 0 -.5 .5 7.8 .5 -.8 .5 15.7 .5 -.5 .5 6.6 .5 -1.2 .5 8.5 .5 1 .5 5.5 .5 -.9 .5 11.4 .5 -3.9 .5 -4.7 .5 14.9 .5 -1.4 .5 0 .5 15 .5 -7.8 .5 -3 .5 4.5 .5 5.3 .5 -.7 .5 7 .5 .7 .5 -5.5 .5 4.3 .5 3.4 .5 -2.7 .5 .9 .5 5.9 .5 -.6 .5 -5.7 .5 3.9 .5 1.4 .5 1.9 .5 -1.4 .5 8.1 .5 -7.5 .5 .3 .5 5.2 .5 -8.1 .5 4.9 .5 6.5 .5 -6.4 .5 2.3 .5 7.3 .5 -1.8 .5 -.9 .5 1.1 .5 -2.8 .5 3.9 .5 -1.4 .5 9.8 .5 -6.5 .5 -2.6 .5 1.3 .5 .7 .5 -4.6 .5 2.2 .5 8.4 .5 -9.8 .5 3.1 .5 5.8 .5 1.9 .5 -8.4 .5 8.8 .5 -6.1 .5 7.2 .5 -3.8 .5 -2.4 .5 3.6 .5 -.3 .5 -4.4 .5 10.2 .5 -8.4 .5 5.3 .5 -5.4 .5 -4.4 .5 2.5 .5 3.7 .5 2.8 .5 3.8 .5 -5.6 .5 -1.1 .5 -3.1 .5 4.2 .5 1.3 .5 -8.4 .5 12 .5 -.4 .5 3.9 .5 -10.7 .5 3.4 .5 0 .5 -4.5 .5 1.7 .5 -.3 .5 5.1 .5 -.2 .5 3.2 .5 -5.8 .5 -3.3 .5 6.3 .5 -.2 .5 1.1 .5 2 .5 -6.1 .5 4.7 .5 -6 .5 4 .5 1.8 .5 -2.6 .5 1.2 .5 -5.4 .5 2.6 .5 2.7 .5 -4.5 .5 1.2 .5 11.1 .5 -7.2 .5 -3.7 .5 -.6 .5 8.1 .5 -14 .5 8.2 .5 3.2 .5 -3.9 .5 3.6 .5 -5.2 .5 3.5 .5 .2 .5 -.1 .5 .5 .5 -.4 .5 3.7 .5 -4.6 .5 -1.1 .5 1 .5 0 .5 -4.1 .5 -1.3 .5 1.9 .5 5.5 .5 -3.1 .5 .8 .5 11.1 .5 -5.9 .5 -4.4 .5 -1.4 .5 6.7 .5 -7.2 .5 6.8 .5 -2.2 .5 2.7 .5 -7 .5 5.4 .5 -9 .5 5.5 .5 4.2 .5 -1.3 .5 -8.5 .5 8.5 .5 -.8 .5 -1.7 .5 -2.2 .5 1.5 .5 -1 .5 5.1 .5 -1.6 .5 2 .5 -1.3 .5 -6.5 .5 4.7 .5 6.7 .5 -10.9 .5 4.7 .5 -3.5 .5 -.4 .5 3.7 .5 2.3 .5 -.5 .5 -1 .5 1.6 .5 -8.6 .5 8.2 .5 -1.4 .5 -1.9 .5 .5 .5 -2.8 .5 6.8 .5 -6.4 .5 -2.5 .5 4.9 .5 -1.9 .5 1.7 .5 5.3 .5 -5.5 .5 .9 .5 7.1 .5 -12.2 .5 5.9 .5 2.7 .5 1.1 .5 2.5 .5 -9.7 .5 4.2 .5 -2.4 .5 -1.2 .5 -.9 .5 -2.4 .5 6 .5 1.4 .5 -6.1 .5 6.1 .5 -4.4 .5 -1.6 .5 -5.4 .5 12.5 .5 -1.3 .5 -3.4 .5 -.3 .5 -3.1 .5 6.1 .5 -1.9 .5 2 .5 -1.2 .5 -5.4 .5 -.5 .5 6.7 .5 -7.1 .5 6.6 .5 2.1 .5 -7.4 .5 6.6 .5 -2.1 .5 1.7 .5 -4 .5 2.1 .5 1.5 .5 4.7 .5 -3.6 .5 -.8 .5 -6.1 .5 5.5 .5 -3.4 .5 2.1 .5 1.1 .5 2.3 .5 -1.2 .5 -1.4 .5 -.8 .5 4.7 .5 -7.5 .5 3.1 .5 4.5 .5 -5.3 .5 3.4 .5 .2 .5 3.7 .5 -2.9 .5 -9.3 .5 5.5 .5 1 .5 1.8 .5 -1.5 .5 5 .5 -2.7 .5 -7.7 .5 1.9 .5 -4.9 .5 12.7 .5 -6.2 .5 -.1 .5 -4.9 .5 3.8 .5 2.9 .5 -2.8 .5 0 .5 -.8 .5 8.7 .5 -8.6 .5 -3 .5 3.1 .5 .5 .5 .9 .5 -.6 .5 -2.9 .5 3 .5 2 .5 -6.1 .5 11.4 .5 -.9 .5 -11.9 .5 4.9 .5 4.6 .5 1.1 .5 1.5 .5 -12.3 .5 2.5 .5 2 .5 3.6 .5 -5.5 .5 5.1 .5 0 .5 1 .5 -6.8 .5 5 .5 -.4 .5 -1.7 .5 5.8 .5 -5.4 .5 5.9 .5 -6.9 .5 7.8 .5 -.2 .5 -8.3 .5 3.9 .5 -.1 .5 -4.3 .5 5.9 .5 -.6 .5 -5 .5 3.3 .5 2.7 .5 -3.6 .5 -1.8 .5 7.9 .5 -8.8 .5 4.4 .5 2.7 .5 -1.1 .5 -8.9 .5 5.1 .5 .7 .5 -.3 .5 2.8 .5 -.2 .5 -1.4 .5 .4 .5 2.6 .5 .8 .5 -10.7 .5 13.8 .5 -9.2 .5 4.5 .5 -8.2 .5 3.8 .5 -2.5 .5 7.9 .5 -.7 .5 -2.9 .5 -.6 .5 1.8 .5 -4.5 .5 1.2 .5 -.6 .5 5.4 .5 -2.7 .5 -4.4 .5 5.5 .5 .6 .5 2.9 .5 -6.6 .5 3.2 .5 5.7 .5 -8.2 .5 -.1 .5 3 .5 -3.5 .5 1.7 .5 -1.7 .5 -1 .5 5.7 .5 -4.3 .5 -2.1 .5 2.4 .5 .5 .5 1.5 .5 2.1 .5 2.8 .5 -10.1 .5 3.3 .5 -5.4 .5 6.9 .5 1 .5 -4 .5 -.9 .5 -.2 .5 -1.8 .5 7.2 .5 4.3 .5 -10.3 .5 9.4 .5 -6 .5 -4.3 .5 6.6 .5 .6 .5 -1.2 .5 -2.2 .5 6.5 .5 -6.6 .5 3.1 .5 0 .5 -5.2 .5 -3.3 .5 .4 .5 4.5 .5 2.5 .5 -7.2 .5 3.6 .5 7.6 .5 -11.3 .5 7.6 .5 -.3 .5 1.4 .5 -7.7 .5 6.2 .5 -5.9 .5 9.2 .5 -7.4 .5 4.2 .5 -4.1 .5 3.2 .5 -5.7 .5 6.2 .5 1.1 .5 -2.1 .5 5.5 .5 -4.3 .5 1.4 .5 -.9 .5 4.6 .5 -8.6 .5 1.3 .5 .2 .5 2.8 .5 -1.2 .5 1.9 .5 -1.8 .5 -2.8 .5 1.6 .5 1.7 .5 -9.3 .5 12.5 .5 -6.7 .5 .7 .5 2.1 .5 -1.7 .5 -4.1 .5 4.1 .5 5.5 .5 -1.1 .5 .6 .5 -6.1 .5 1.1 .5 4.4 .5 1.4 .5 -4.9 .5 -3.5 .5 -3.3 .5 11.5 .5 -10.1 .5 6.7 .5 1.5 .5 8.2 .5 -10.6 .5 -1.1 .5 2 .5 .2 .5 2.8 .5 -2.3 .5 -5 .5 -4.7 .5 8.3 .5 -3.4 .5 7.2 .5 -9.4 .5 5.2 .5 -3.3 .5 -.5 .5 8.8 .5 -5.3 .5 -1.2 .5 3.1 .5 -5.3 .5 1.4 .5 -1 .5 9.1 .5 -5.8 .5 1 .5 1.6 .5 -4.6 .5 .1 .5 -5.2 .5 7.3 .5 -.8 .5 -2.4 .5 5.6 .5 -10.6 .5 7.7 .5 -6.4 .5 .8 .5 3.2 .5 5.3 .5 -8.9 .5 .5 .5 -.8 .5 11.3 .5 -5.3 .5 -.5 .5 5.7 .5 -6.5 .5 -8.4 .5 5.5 .5 -2.5 .5 11.3 .5 -12.3 .5 6 .5 -3.1 .5 .2 .5 1.5 .5 -.7 .5 -2.1 .5 -2.1 .5 2 .5 -1.6 .5 .3 .5 3.5 .5 -1.1 .5 2.1 .5 -2.7 .5 7.5 .5 -9.7 .5 -1.1 .5 7 .5 -6.4 .5 2.8 .5 2.9 .5 -4.1 .5 -1.2 .5 4.5 .5 -2.5 .5 -3.4 .5 -2.7 .5 2.7 .5 -4.9 .5 2.5 .5 -1.1 .5 4.8 .5 1.4 .5 -5.5 .5 .4 .5 -2.8 .5 -1.4 .5 3.1 .5 3.2 .5 -.7 .5 0 .5 -3.6 .5 -9.5 .5 13 .5 1 .5 -2 .5 -.6 .5 .2 .5 5.3 .5 -9.3 .5 4 .5 -3.5 .5 -1.1 .5 -3.7 .5 -1.5 .5 -3.8 .5 5.7 .5 -4.2 .5 -4.2 .5 .8 .5 -2.6 .5 9.8 .5 -8.1 .5 .3 .5 -6.2 .5 -.4 .5 6.9 .5 -6.2 .5 .5 .5 5 .5 -.4 .5 -7 .5 -2.3 .5 -2.6 .5 -3.7 .5 7.5 .5 -14.9 .5 2.6 .5 -9.5 .5 .6 .5 4.6 .5 -2.1 .5 -2.9 .5 -5.3 .5 -4.3 .5 -2.1 .5 -2.3 .5 3.2 .5 -1.6 .5 -7.8 .5 -7.8 .5 -5.6 .5 1.6 .5 -6.4 .5 -11.6 .5 10.1 .5 -10.9 .5 -6.3 .5 -7.7 .1 -1.1 .1 -1 .1 -1.1 .1 -1 .1 -1.1 .1 -1.1 .1 -1.1 .1 -1.1 .1 -1.1 .1 -1.1 0 8.5 .1 -1.1 .1 -1.1 .1 -1.1 .1 -1.2 .1 -1.1 0 -8.9 .1 -1.2 .1 -1.2 .1 -1.1 .1 -1.2 .1 -1.2 0 5.1 .1 -1.2 .1 -1.2 .1 -1.2 .1 -1.2 .1 -1.2 0 2.7 .1 -1.2 .1 -1.3 .1 -1.2 .1 -1.2 .1 -1.2 0 6 .1 -1.2 .1 -1.3 .1 -1.2 .1 -1.2 .1 -1.3 0 -6.2 .1 -1.3 .1 -1.3 .1 -1.2 .1 -1.3 .1 -1.3 0 -3.2 .1 -1.3 .1 -1.3 .1 -1.3 .1 -1.3 .1 -1.2 0 -2.1 .1 -1.3 .1 -1.3 .1 -1.3 .1 -1.3 .1 -1.3 0 6.7 .1 -1.3 .1 -1.3 .1 -1.2 .1 -1.3 .1 -1.3 0 .8 .1 -1.3 .1 -1.3 .1 -1.2 .1 -1.3 .1 -1.3 0 -7.5 .1 -1.3 .1 -1.2 .1 -1.3 .1 -1.2 .1 -1.3 0 5.4 .1 -1.2 .1 -1.2 .1 -1.2 .1 -1.2 .1 -1.2 0 -3.9 .1 -1.2 .1 -1.2 .1 -1.1 .1 -1.2 .1 -1.1 0 -8.1 .1 -1.1 .1 -1.1 .1 -1.2 .1 -1.1 .1 -1 0 3.3 .1 -1 .1 -1.1 .1 -1 .1 -1 .1 -1 0 10 .1 -1 .1 -.9 .1 -.9 .1 -.9 .1 -.9 0 3.4 .1 -.8 .1 -.9 .1 -.8 .1 -.8 .1 -.7 0 -4.2 .1 -.8 .1 -.7 .1 -.7 .1 -.6 .1 -.7 0 -4.8 .1 -.6 .1 -.6 .1 -.6 .1 -.5 .1 -.5 0 -2.8 .1 -.5 .1 -.4 .1 -.4 .1 -.4 .1 -.4 0 6.9 .1 -.3 .1 -.3 .1 -.3 .1 -.2 .1 -.2 0 -1.1 .1 -.2 .1 -.1 .1 -.1 .1 -.1 .1 -.1 0 -10.6 .1 -.1 .1 .1 .1 0 .1 .1 .1 .1 0 12.5 .1 .1 .1 .2 .1 .2 .1 .3 .1 .2 0 -7.4 .1 .3 .1 .3 .1 .4 .1 .4 .1 .4 0 7.6 .1 .4 .1 .5 .1 .5 .1 .6 .1 .6 0 -.8 .1 .6 .1 .6 .1 .7 .1 .7 .1 .7 0 1 .1 .7 .1 .8 .1 .8 .1 .8 .1 .8 0 1.9 .1 .8 .1 .9 .1 .9 .1 .9 .1 1 0 -2 .1 .9 .1 1 .1 1 .1 1 .1 1 0 -9.6 .1 1.1 .1 1 .1 1.1 .1 1.1 .1 1.1 0 .2 .1 1.1 .1 1.2 .1 1.2 .1 1.1 .1 1.2 0 11.1 .1 1.2 .1 1.2 .1 1.2 .1 1.2 .1 1.2 0 -3 .1 1.2 .1 1.3 .1 1.2 .1 1.3 .1 1.2 0 -10.8 .1 1.2 .1 1.3 .1 1.3 .1 1.3 .1 1.3 0 -2.3 .1 1.4 .1 1.3 .1 1.3 .1 1.3 .1 1.3 0 15.1 .1 1.3 .1 1.3 .1 1.3 .1 1.3 .1 1.3 0 6.9 .1 1.3 .1 1.3 .1 1.2 .1 1.3 .1 1.3 0 -7.1 .1 1.3 .1 1.2 .1 1.3 .1 1.3 .1 1.3 0 -5.4 .1 1.3 .1 1.3 .1 1.2 .1 1.3 .1 1.3 0 2.5 .1 1.3 .1 1.2 .1 1.3 .1 1.2 .1 1.3 0 -14.9 .1 1.3 .1 1.2 .1 1.3 .1 1.2 .1 1.3 0 8.4 .1 1.2 .1 1.3 .1 1.2 .1 1.1 .1 1.2 0 9.8 .1 1.2 .1 1.1 .1 1.2 .1 1.1 .1 1.2 0 -.8 .1 1.1 .1 1.2 .1 1.1 .1 1.1 .1 1.1 0 -14.3 .1 1.1 .1 1.1 .1 1.1 .1 1.1 .1 1.1 0 15.6 .5 2.2 .5 6.8 .5 -.5 .5 5.6 .5 -.5 .5 10.5 .5 6.6 .5 -4.3 .5 9.5 .5 -.4 .5 10.2 .5 2.9 .5 -11.3 .5 15 .5 5.1 .5 -4 .5 4 .5 2.7 .5 -1.8 .5 6.5 .5 8.9 .5 -2.4 .5 6.2 .5 -.4 .5 2.6 .5 -2.7 .5 4.3 .5 6.4 .5 -.7 .5 -3.1 .5 -2.7 .5 .4 .5 5.8 .5 2 .5 -7.7 .5 9 .5 1.6 .5 .8 .5 -2.3 .5 11.9 .5 -4.6 .5 -7.7 .5 3.3 .5 6.5 .5 -.3 .5 -.7 .5 .1 .5 -.1 .5 -.2 .5 -1.5 .5 6.6 .5 -12 .5 8.2 .5 7.9 .5 -7.1 .5 -1 .5 12 .5 -2.8 .5 -3.9 .5 -1.2 .5 1.7 .5 -.1 .5 .8 .5 -1.5 .5 5.1 .5 -3.7 .5 -4.3 .5 2.2 .5 5 .5 -3.4 .5 -5.1 .5 14.8 .5 -3.4 .5 -3.3 .5 0 .5 4 .5 3.3 .5 -7.1 .5 4 .5 -3.6 .5 3.6 .5 -5.2 .5 -2.3 .5 7.1 .5 -.4 .5 2.9 .5 -4.9 .5 7.5 .5 -4.5 .5 5.3 .5 -6.8 .5 6.8 .5 -5.6 .5 .8 .5 3 .5 -9.9 .5 2.6 .5 10.5 .5 -12.1 .5 3.7 .5 3.7 .5 3.3 .5 -7.1 .5 2.2 .5 -4.6 .5 2.7 .5 5 .5 -2.6 .5 -1.4 .5 1.6 .5 -1.1 .5 0 .5 -2 .5 -2.5 .5 5.9 .5 -6.8 .5 7.8 .5 3.8 .5 -2.4 .5 2.7 .5 -12.4 .5 4.4 .5 -4.1 .5 0 .5 -3.8 .5 1.6 .5 7.2 .5 -.8 .5 1.5 .5 -.6 .5 -1.7 .5 -6.2 .5 2.2 .5 2.7 .5 1.5 .5 -6.5 .5 -.9 .5 -.3 .5 7 .5 -4.3 .5 -3.9 .5 -2.3 .5 3.9 .5 -8.6 .5 4.8 .5 -2 .5 -.8 .5 2.2 .5 0 .5 9.1 .5 -12 .5 1.4 .5 -6.7 .5 -4.2 .5 9.7 .5 2.1 .5 -12.4 .5 2.4 .5 3.4 .5 -5.1 .5 -11 .5 12 .5 -5.8 .5 2 .5 -8 .5 5.8 .5 -.8 .3 -.9 .1 -.3 .1 -7.3 .1 -.3 .1 -.3 .1 -.3 .1 -.3 .1 -.3 0 4.8 .1 -.3 .1 -.3 .1 -.3 .1 -.3 .1 -.3 0 -4.5 .1 -.4 .1 -.3 .1 -.3 .1 -.3 .1 -.3 0 .5 .1 -.3 .1 -.3 .1 -.3 .1 -.4 .1 -.3 0 -1.6 .1 -.3 .1 -.4 .1 -.3 .1 -.3 .1 -.3 0 1.9 .1 -.3 .1 -.3 .1 -.4 .1 -.3 .1 -.3 0 -1 .1 -.3 .1 -.3 .1 -.3 .1 -.4 .1 -.3 0 7.6 .1 -.3 .1 -.4 .1 -.3 .1 -.3 .1 -.3 0 -5.7 .1 -.3 .1 -.3 .1 -.4 .1 -.3 .1 -.3 0 -3.7 .1 -.3 .1 -.3 .1 -.3 .1 -.3 .1 -.3 0 10.3 .1 -.3 .1 -.3 .1 -.3 .1 -.3 .1 -.3 0 -3.4 .1 -.3 .1 -.3 .1 -.2 .1 -.3 .1 -.3 0 1.9 .1 -.3 .1 -.3 .1 -.3 .1 -.2 .1 -.3 0 -4.4 .1 -.2 .1 -.3 .1 -.3 .1 -.2 .1 -.3 0 3.2 .1 -.2 .1 -.3 .1 -.2 .1 -.2 .1 -.3 0 -3.3 .1 -.2 .1 -.2 .1 -.3 .1 -.2 .1 -.2 0 -3.6 .1 -.2 .1 -.2 .1 -.2 .1 -.2 .1 -.2 0 4.5 .1 -.2 .1 -.2 .1 -.1 .1 -.2 .1 -.2 0 .2 .1 -.2 .1 -.1 .1 -.2 .1 -.1 .1 -.2 .1 -.1 .1 -.1 .1 -.2 .1 -.1 .1 -.1 0 3 .1 -.1 .1 -.1 .1 -.1 .1 -.1 .1 -.1 0 -10.8 .1 -.1 .1 -.1 .1 -.1 .1 0 .1 -.1 0 8.6 .1 0 .1 -.1 .1 0 .1 0 .1 -.1 0 -4.6 .1 0 .1 0 .1 0 .1 0 .1 0 0 2.2 .1 0 .1 0 .1 .1 .1 0 .1 0 0 3.1 .1 .1 .1 0 .1 .1 .1 0 .1 .1 0 -1.6 .1 .1 .1 .1 .1 0 .1 .1 .1 .1 0 -3.1 .1 .2 .1 .1 .1 .1 .1 .1 .1 .1 0 6.1 .1 .1 .1 .1 .1 .2 .1 .1 .1 .2 0 -3.4 .1 .1 .1 .2 .1 .2 .1 .1 .1 .2 0 4.2 .1 .2 .1 .1 .1 .2 .1 .2 .1 .2 0 1.3 .1 .2 .1 .2 .1 .2 .1 .2 .1 .3 0 -6.7 .1 .3 .1 .2 .1 .2 .1 .3 .1 .2 0 -3.1 .1 .3 .1 .2 .1 .3 .1 .3 .1 .2 0 4.9 .1 .3 .1 .2 .1 .3 .1 .3 .1 .3 0 3 .1 .3 .1 .3 .1 .2 .1 .3 .1 .3 0 -2 .1 .3 .1 .2 .1 .3 .1 .3 .1 .3 0 -6.1 .1 .3 .1 .3 .1 .3 .1 .4 .1 .3 0 -2.2 .1 .3 .1 .3 .1 .4 .1 .3 .1 .3 0 3.1 .1 .3 .1 .3 .1 .3 .1 .3 .1 .3 .1 .3 .1 .4 .1 .3 .1 .3 .1 .3 0 6.4 .1 .3 .1 .3 .1 .3 .1 .3 .1 .4 0 -2.3 .1 .3 .1 .4 .1 .3 .1 .3 .1 .3 0 3.3 .1 .3 .1 .3 .1 .3 .1 .3 .1 .4 0 -3.9 .1 .3 .1 .4 .1 .3 .1 .3 .1 .3 0 7 .1 .3 .1 .3 .1 .3 .1 .3 .1 .3 0 -6.5 .1 .3 .1 .3 .1 .3 .1 .3 .1 .3 0 2.1 .1 .3 .1 .4 .3 -2.9 .5 4.8 .5 4 .5 .2 .5 3.3 .5 -5.9 .5 5.4 .5 6 .5 -4.3 .5 -.4 .5 .9 .5 0 .5 3.6 .5 5.7 .5 -2.5 .5 -.8 .5 -2 .5 -.3 .5 13.9 .5 -9.7 .5 2.9 .5 -1.4 .5 3.1 .5 -1.5 .5 2.7 .5 5.5 .5 -7.3 .5 5.2 .5 -1.6 .5 3.4 .5 -4.5 .5 4.5 .5 -4.5 .5 -2.6 .5 2.3 .5 1.8 .5 -.2 .5 3.2 .5 5.5 .5 -7.6 .5 6 .5 -.7 .5 -2.7 .5 -.4 .5 5.1 .5 .5 .5 -2.6 .5 .9 .5 .8 .5 -4.3 .5 5.2 .5 1 .5 5.3 .5 -10.3 .5 1.6 .5 3.5 .5 -2.1 .5 .8 .5 1.7 .5 -.9 .5 1.1 .5 1.8 .5 -6.9 .5 7.7 .5 -9.5 .5 13.7 .5 -2.5 .5 -5.1 .5 5.7 .5 -3.9 .5 2.2 .5 1.2 .5 -1.3 .5 -1 .5 2.2 .5 -2.7 .5 -.5 .5 -1.8 .5 -2.9 .5 11.7 .5 -2.6 .5 -7.4 .5 6.2 .5 -.5 .5 -8.1 .5 4.7 .5 2.6 .5 6.2 .5 -2 .5 .6 .5 -3.1 .5 2.4 .5 -7.3 .5 6.1 .5 .5 .5 -6.7 .5 5.2 .5 4.3 .5 1.4 .5 -1.6 .5 -7.2 .5 2.2 .5 -1.4 .5 5.9 .5 -6.9 .5 -.7 .5 -1.9 .5 6.2 .5 .9 .5 -3.5 .5 -.5 .5 2 .5 5.2 .5 -9 .5 4.4 .5 .9 .5 .5 .5 3 .5 -1.4 .5 -1.8 .5 4 .5 -1 .5 -2.9 .5 -.1 .5 -4.8 .5 4.5 .5 -3.1 .5 -1.1 .5 2.9 .5 -4.9 .5 2.8 .5 1.3 .5 2.9 .5 -2.2 .5 2.4 .5 4 .5 -2.6 .5 -6.6 .5 -2 .5 2.8 .5 .1 .5 -3.6 .5 .9 .5 0 .5 3.7 .5 6.8 .5 .9 .5 -9.1 .5 1.9 .5 -3.1 .5 -.9 .5 5.2 .5 .4 .5 -2.3 .5 4.2 .5 -3.2 .5 4.8 .5 -5.4 .5 4.6 .5 -3.5 .5 1 .5 1.7 .5 -6.5 .5 2 .5 2.2 .5 -.7 .5 1.8 .5 -3.5 .5 -1.8 .5 4.1 .5 1.4 .5 -3.7 .5 6.8 .5 -1.7 .5 .5 .5 -.2 .5 -5.5 .5 10 .5 -9.4 .5 3.7 .5 1.2 .5 -1.3 .5 -.5 .5 -3.3 .5 1.5 .5 1.4 .5 4.3 .5 -6.5 .5 4.5 .5 -.8 .5 -1.2 .5 -2 .5 1.4 .5 -5.3 .5 6.1 .5 .8 .5 -2.8 .5 3.5 .5 -.7 .5 -3.4 .5 5.2 .5 -4.5 .5 9.8 .5 -11.4 .5 .7 .5 .6 .5 2.9 .5 3.1 .5 -3.6 .5 -1.6 .5 7.7 .5 -2.9 .5 -4.4 .5 .6 .5 -4.7 .5 5.2 .5 5.6 .5 -9.6 .5 -.8 .5 5.1 .5 -8.4 .5 12.6 .5 -9.6 .5 2.6 .5 1.8 .5 4.6 .5 -2.7 .5 -7.6 .5 .6 .5 6.3 .5 -7.6 .5 5.9 .5 -1.7 .5 5.4 .5 1.3 .5 -12.4 .5 9.8 .5 .7 .5 -4.7 .5 .6 .5 -2 .5 2.8 .5 2.5 .5 3.1 .5 .4 .5 -5.8 .5 -1.8 .5 6.1 .5 -12.5 .5 4.6 .5 6.7 .5 5.3 .5 -10 .5 3 .5 -4.1 .5 3.5 .5 0 .5 -2.2 .5 3.8 .5 -1.8 .5 2.2 .5 -2.3 .5 -3.3 .5 4.5 .5 2.3 .5 -5.4 .5 7.1 .5 -3 .5 -2.6 .5 1.3 .5 -1.5 .5 -1.6 .5 6.1 .5 -.1 .5 -4.4 .5 .9 .5 -.1 .5 3 .5 2.6 .5 -7.1 .5 3.3 .5 -1.1 .5 1.9 .5 3 .5 -7.7 .5 -3.9 .5 6.3 .5 -4.8 .5 10.9 .5 -7.8 .5 1.4 .5 1.7 .5 -.1 .5 -2.1 .5 1.5 .5 3.1 .5 -4.1 .5 7.2 .5 -5 .5 -9 .5 10.8 .5 -8.8 .5 7 .5 6.4 .5 -3.9 .5 -7.3 .5 1 .5 2.8 .5 4.8 .5 -7.2 .5 6.1 .5 -2.7 .5 -1.3 .5 -.2 .5 6.1 .5 -10.5 .5 1.2 .5 6.8 .5 .3 .5 -7.6 .5 1.3 .5 -.8 .5 5.7 .5 -4 .5 6.9 .5 -2.2 .5 -1.6 .5 -.2 .5 1.1 .5 1 .5 -2.7 .5 .8 .5 1.8 .5 -2.9 .5 3.6 .5 -3.8 .5 -2 .5 3.1 .5 4.9 .5 -.5 .5 -10.3 .5 6.4 .5 -2.7 .5 .6 .5 -.1 .5 .4 .5 -.9 .5 .8 .5 1.6 .5 -4.7 .5 -.1 .5 .4 .5 0 .5 5.7 .5 -5.6 .5 3.4 .5 .5 .5 2.2" stroke="#ff0012"/></g>
<g clip-path="url(#pc)"><text transform="translate(754.90,115.29) rotate(-90) scale(0.31069)" font-family="'Liberation Serif', serif" font-size="200" letter-spacing="7.08" fill="#231815">111</text><text transform="translate(932.20,138.67) rotate(-90) scale(0.30758)" font-family="'Liberation Serif', serif" font-size="200" letter-spacing="7.08" fill="#231815">200</text><text transform="translate(1449.00,138.43) rotate(-90) scale(0.31439)" font-family="'Liberation Serif', serif" font-size="200" letter-spacing="4.50" fill="#231815">220</text><text transform="translate(1656.38,121.90) rotate(-90) scale(0.30970)" font-family="'Liberation Serif', serif" font-size="200" letter-spacing="7.08" fill="#231815">311</text><text transform="translate(1870.40,698.23) rotate(-90) scale(0.31439)" font-family="'Liberation Serif', serif" font-size="200" letter-spacing="5.84" fill="#231815">222</text></g>
<rect x="237" y="44" width="36" height="36" fill="#231815"/>
<rect x="667" y="51" width="37" height="36" fill="#231815"/>
<rect x="821.2" y="50.5" width="36.4" height="36" fill="#231815"/>
<rect x="1337" y="44.3" width="36" height="36" fill="#231815"/>
<rect x="1674" y="38.6" width="36.3" height="36" fill="#231815"/>
<rect x="1773" y="639" width="37" height="36" fill="#231815"/>
<polygon points="255.00,110.90 259.24,119.55 268.05,115.65 265.74,125.00 274.99,127.67 267.21,133.35 272.58,141.35 262.97,140.70 261.94,150.28 255.00,143.60 248.06,150.28 247.03,140.70 237.42,141.35 242.79,133.35 235.01,127.67 244.26,125.00 241.95,115.65 250.76,119.55" fill="#231815"/><path d="M255.00 116.30L256.15 119.20L253.85 119.20ZM264.58 119.79L263.59 122.75L261.83 121.27ZM269.67 128.61L267.02 130.25L266.62 127.98ZM267.90 138.65L264.82 138.20L265.97 136.20ZM260.10 145.20L258.02 142.87L260.18 142.08ZM249.90 145.20L249.82 142.08L251.98 142.87ZM242.10 138.65L244.03 136.20L245.18 138.20ZM240.33 128.61L243.38 127.98L242.98 130.25ZM245.42 119.79L248.17 121.27L246.41 122.75Z" fill="#fcfcfc"/><circle cx="255" cy="131.2" r="6.5" fill="#fcfcfc"/>
<polygon points="582.50,1210.90 586.74,1219.55 595.55,1215.65 593.24,1225.00 602.49,1227.67 594.71,1233.35 600.08,1241.35 590.47,1240.70 589.44,1250.28 582.50,1243.60 575.56,1250.28 574.53,1240.70 564.92,1241.35 570.29,1233.35 562.51,1227.67 571.76,1225.00 569.45,1215.65 578.26,1219.55" fill="#231815"/><path d="M582.50 1216.30L583.65 1219.20L581.35 1219.20ZM592.08 1219.79L591.09 1222.75L589.33 1221.27ZM597.17 1228.61L594.52 1230.25L594.12 1227.98ZM595.40 1238.65L592.32 1238.20L593.47 1236.20ZM587.60 1245.20L585.52 1242.87L587.68 1242.08ZM577.40 1245.20L577.32 1242.08L579.48 1242.87ZM569.60 1238.65L571.53 1236.20L572.68 1238.20ZM567.83 1228.61L570.88 1227.98L570.48 1230.25ZM572.92 1219.79L575.67 1221.27L573.91 1222.75Z" fill="#fcfcfc"/><circle cx="582.5" cy="1231.2" r="6.5" fill="#fcfcfc"/>
<polygon points="645.20,1172.80 649.44,1181.45 658.25,1177.55 655.94,1186.90 665.19,1189.57 657.41,1195.25 662.78,1203.25 653.17,1202.60 652.14,1212.18 645.20,1205.50 638.26,1212.18 637.23,1202.60 627.62,1203.25 632.99,1195.25 625.21,1189.57 634.46,1186.90 632.15,1177.55 640.96,1181.45" fill="#231815"/><path d="M645.20 1178.20L646.35 1181.10L644.05 1181.10ZM654.78 1181.69L653.79 1184.65L652.03 1183.17ZM659.87 1190.51L657.22 1192.15L656.82 1189.88ZM658.10 1200.55L655.02 1200.10L656.17 1198.10ZM650.30 1207.10L648.22 1204.77L650.38 1203.98ZM640.10 1207.10L640.02 1203.98L642.18 1204.77ZM632.30 1200.55L634.23 1198.10L635.38 1200.10ZM630.53 1190.51L633.58 1189.88L633.18 1192.15ZM635.62 1181.69L638.37 1183.17L636.61 1184.65Z" fill="#fcfcfc"/><circle cx="645.2" cy="1193.1" r="6.5" fill="#fcfcfc"/>
<polygon points="720.20,1141.30 724.44,1149.95 733.25,1146.05 730.94,1155.40 740.19,1158.07 732.41,1163.75 737.78,1171.75 728.17,1171.10 727.14,1180.68 720.20,1174.00 713.26,1180.68 712.23,1171.10 702.62,1171.75 707.99,1163.75 700.21,1158.07 709.46,1155.40 707.15,1146.05 715.96,1149.95" fill="#231815"/><path d="M720.20 1146.70L721.35 1149.60L719.05 1149.60ZM729.78 1150.19L728.79 1153.15L727.03 1151.67ZM734.87 1159.01L732.22 1160.65L731.82 1158.38ZM733.10 1169.05L730.02 1168.60L731.17 1166.60ZM725.30 1175.60L723.22 1173.27L725.38 1172.48ZM715.10 1175.60L715.02 1172.48L717.18 1173.27ZM707.30 1169.05L709.23 1166.60L710.38 1168.60ZM705.53 1159.01L708.58 1158.38L708.18 1160.65ZM710.62 1150.19L713.37 1151.67L711.61 1153.15Z" fill="#fcfcfc"/><circle cx="720.2" cy="1161.6" r="6.5" fill="#fcfcfc"/>
<polygon points="1388.20,1202.00 1392.44,1210.65 1401.25,1206.75 1398.94,1216.10 1408.19,1218.77 1400.41,1224.45 1405.78,1232.45 1396.17,1231.80 1395.14,1241.38 1388.20,1234.70 1381.26,1241.38 1380.23,1231.80 1370.62,1232.45 1375.99,1224.45 1368.21,1218.77 1377.46,1216.10 1375.15,1206.75 1383.96,1210.65" fill="#231815"/><path d="M1388.20 1207.40L1389.35 1210.30L1387.05 1210.30ZM1397.78 1210.89L1396.79 1213.85L1395.03 1212.37ZM1402.87 1219.71L1400.22 1221.35L1399.82 1219.08ZM1401.10 1229.75L1398.02 1229.30L1399.17 1227.30ZM1393.30 1236.30L1391.22 1233.97L1393.38 1233.18ZM1383.10 1236.30L1383.02 1233.18L1385.18 1233.97ZM1375.30 1229.75L1377.23 1227.30L1378.38 1229.30ZM1373.53 1219.71L1376.58 1219.08L1376.18 1221.35ZM1378.62 1210.89L1381.37 1212.37L1379.61 1213.85Z" fill="#fcfcfc"/><circle cx="1388.2" cy="1222.3" r="6.5" fill="#fcfcfc"/>
<text transform="translate(295.43,83.90) scale(0.30870)" font-family="'Liberation Serif', serif" font-size="200" letter-spacing="5.39" fill="#231815">Al</text>
<text transform="translate(289.32,153.80) scale(0.31308)" font-family="'Liberation Serif', serif" font-size="200" letter-spacing="2.96" fill="#231815">MgZn</text>
<text transform="translate(449.45,164.70) scale(0.16061)" font-family="'Liberation Serif', serif" font-size="200" fill="#231815">2</text>
<path d="M225.3 1341.5v-26M477.4 1341.5v-13M729.5 1341.5v-26M981.6 1341.5v-13M1233.7 1341.5v-26M1485.8 1341.5v-13M1737.9 1341.5v-26" stroke="#000" stroke-width="3.8" fill="none"/>
<text transform="translate(186.27,1418.35) scale(0.32254)" font-family="'Liberation Sans', sans-serif" font-size="200" letter-spacing="3.04" fill="#000">20</text>
<text transform="translate(690.89,1418.35) scale(0.32254)" font-family="'Liberation Sans', sans-serif" font-size="200" letter-spacing="-0.72" fill="#000">40</text>
<text transform="translate(1197.47,1418.35) scale(0.32254)" font-family="'Liberation Sans', sans-serif" font-size="200" letter-spacing="-5.64" fill="#000">60</text>
<text transform="translate(1701.60,1418.35) scale(0.32254)" font-family="'Liberation Sans', sans-serif" font-size="200" letter-spacing="-1.37" fill="#000">80</text>
<text transform="translate(1038.29,1520.80) scale(0.38864)" font-family="'Liberation Serif', serif" font-weight="bold" font-size="200" letter-spacing="10.90" fill="#000">2θ</text>
<text transform="translate(1151.10,1520.77) scale(0.38889)" font-family="'Liberation Serif', serif" font-weight="bold" font-size="200" letter-spacing="3.27" fill="#000">(deg.)</text>
<text transform="translate(85.00,1000.14) rotate(-90) scale(0.42000)" font-family="'Liberation Serif', serif" font-weight="bold" font-size="200" letter-spacing="-4.83" fill="#000">Intensity(a.u.)</text></svg>
</body></html>
